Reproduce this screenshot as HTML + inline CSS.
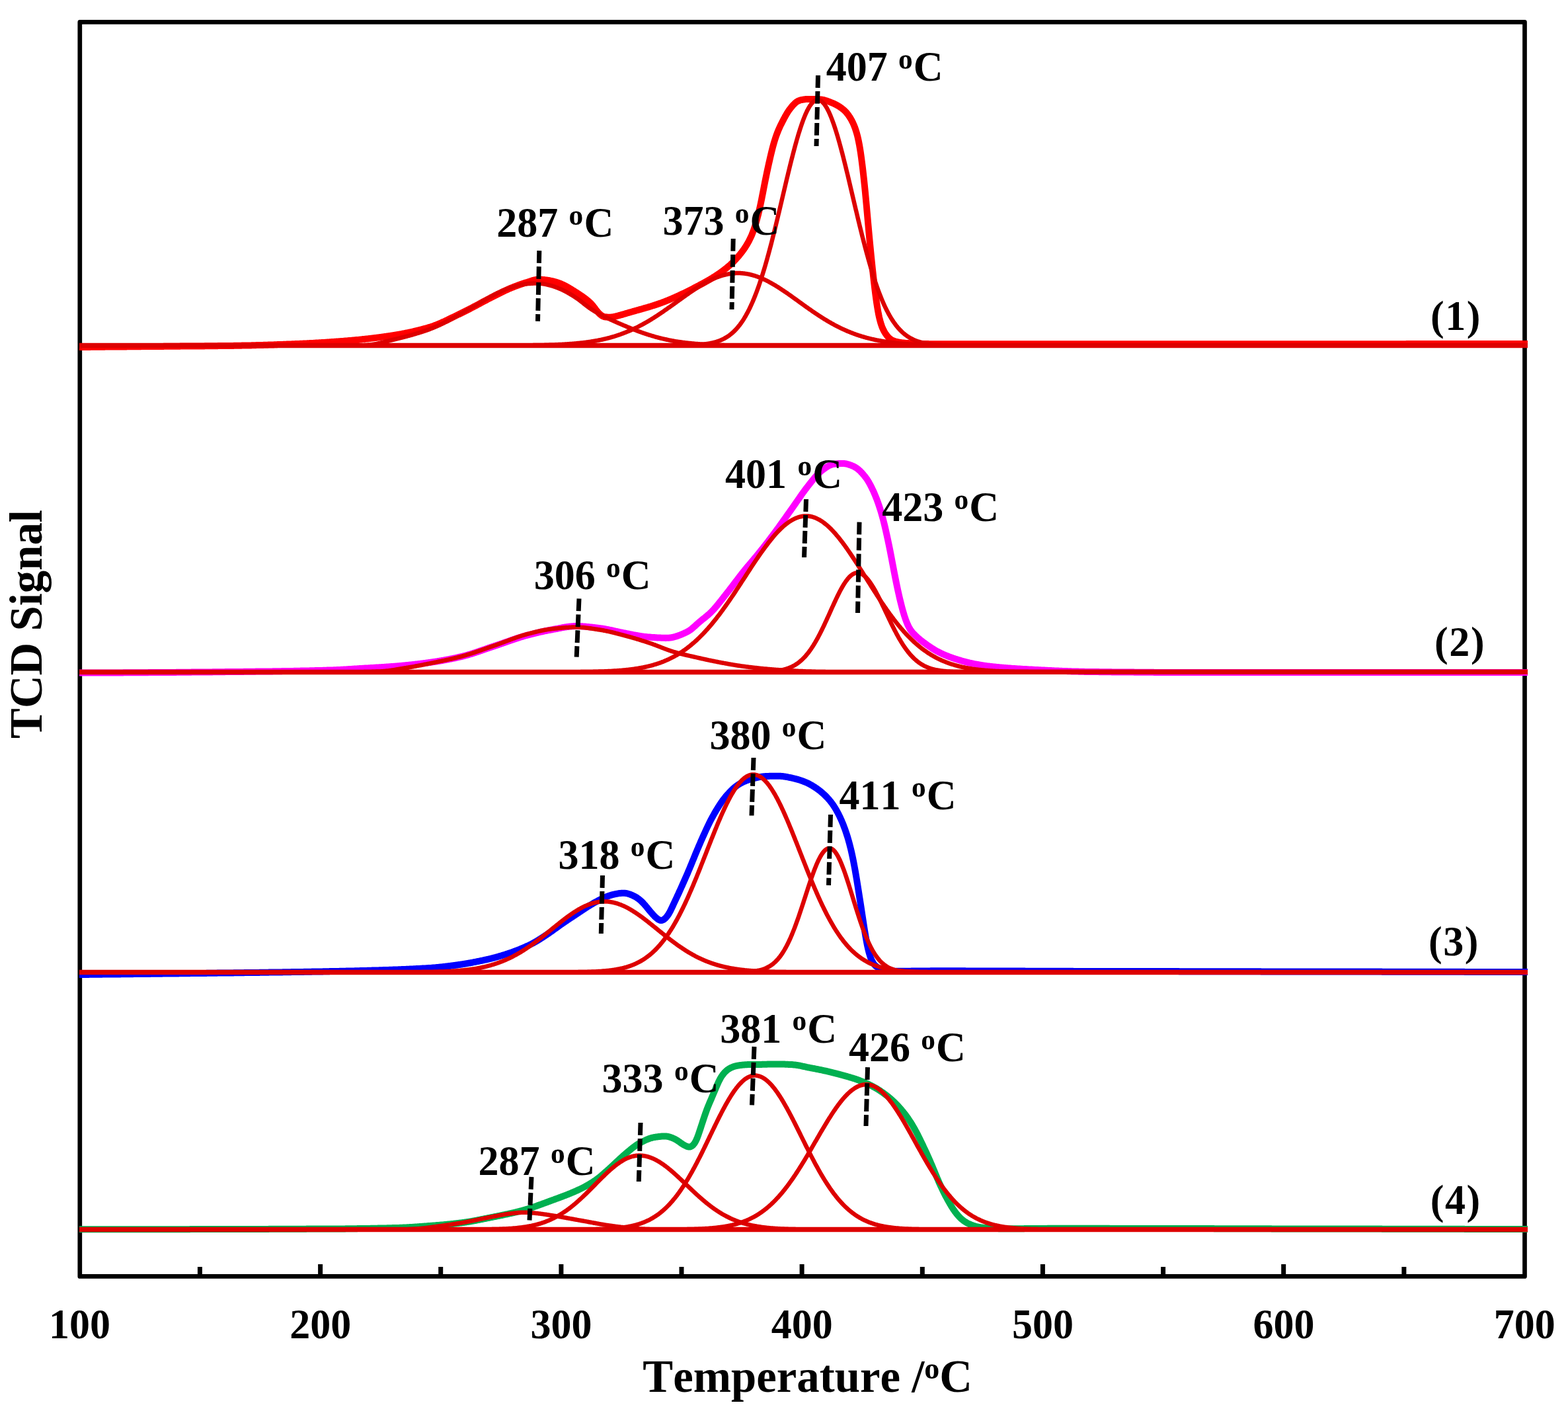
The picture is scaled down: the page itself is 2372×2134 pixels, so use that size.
<!DOCTYPE html>
<html lang="en"><head><meta charset="utf-8"><title>TCD Signal vs Temperature</title>
<style>html,body{margin:0;padding:0;background:#fff}body{width:2372px;height:2134px;overflow:hidden}svg{display:block}</style>
</head><body>
<svg width="2372" height="2134" viewBox="0 0 2372 2134">
<rect width="2372" height="2134" fill="#fff"/>
<rect x="120.8" y="33.4" width="2185.7" height="1897.0" fill="none" stroke="#000" stroke-width="6.7" stroke-linejoin="round"/>
<line x1="302.4" y1="1916" x2="302.4" y2="1930.4" stroke="#000" stroke-width="7"/>
<line x1="484.6" y1="1912" x2="484.6" y2="1930.4" stroke="#000" stroke-width="7"/>
<line x1="666.7" y1="1916" x2="666.7" y2="1930.4" stroke="#000" stroke-width="7"/>
<line x1="848.9" y1="1912" x2="848.9" y2="1930.4" stroke="#000" stroke-width="7"/>
<line x1="1031" y1="1916" x2="1031" y2="1930.4" stroke="#000" stroke-width="7"/>
<line x1="1213.1" y1="1912" x2="1213.1" y2="1930.4" stroke="#000" stroke-width="7"/>
<line x1="1395.3" y1="1916" x2="1395.3" y2="1930.4" stroke="#000" stroke-width="7"/>
<line x1="1577.4" y1="1912" x2="1577.4" y2="1930.4" stroke="#000" stroke-width="7"/>
<line x1="1759.6" y1="1916" x2="1759.6" y2="1930.4" stroke="#000" stroke-width="7"/>
<line x1="1941.7" y1="1912" x2="1941.7" y2="1930.4" stroke="#000" stroke-width="7"/>
<line x1="2123.9" y1="1916" x2="2123.9" y2="1930.4" stroke="#000" stroke-width="7"/>
<path d="M120,525 L121,525 L122,525 L123,525 L124,525 L125,525 L126,524.9 L127,524.9 L128,524.9 L129,524.9 L130,524.9 L131,524.9 L132,524.9 L133,524.9 L134,524.9 L135,524.9 L136,524.9 L137,524.8 L138,524.8 L139,524.8 L140,524.8 L141,524.8 L142,524.8 L143,524.8 L144,524.8 L145,524.8 L146,524.8 L147,524.8 L148,524.7 L149,524.7 L150,524.7 L151,524.7 L152,524.7 L153,524.7 L154,524.7 L155,524.7 L156,524.7 L157,524.7 L158,524.7 L159,524.6 L160,524.6 L161,524.6 L162,524.6 L163,524.6 L164,524.6 L165,524.6 L166,524.6 L167,524.6 L168,524.6 L169,524.6 L170,524.6 L171,524.5 L172,524.5 L173,524.5 L174,524.5 L175,524.5 L176,524.5 L177,524.5 L178,524.5 L179,524.5 L180,524.5 L181,524.5 L182,524.4 L183,524.4 L184,524.4 L185,524.4 L186,524.4 L187,524.4 L188,524.4 L189,524.4 L190,524.4 L191,524.4 L192,524.3 L193,524.3 L194,524.3 L195,524.3 L196,524.3 L197,524.3 L198,524.3 L199,524.3 L200,524.3 L201,524.3 L202,524.3 L203,524.2 L204,524.2 L205,524.2 L206,524.2 L207,524.2 L208,524.2 L209,524.2 L210,524.2 L211,524.2 L212,524.2 L213,524.2 L214,524.1 L215,524.1 L216,524.1 L217,524.1 L218,524.1 L219,524.1 L220,524.1 L221,524.1 L222,524.1 L223,524.1 L224,524.1 L225,524 L226,524 L227,524 L228,524 L229,524 L230,524 L231,524 L232,524 L233,524 L234,524 L235,524 L236,523.9 L237,523.9 L238,523.9 L239,523.9 L240,523.9 L241,523.9 L242,523.9 L243,523.9 L244,523.9 L245,523.9 L246,523.9 L247,523.9 L248,523.8 L249,523.8 L250,523.8 L251,523.8 L252,523.8 L253,523.8 L254,523.8 L255,523.8 L256,523.8 L257,523.8 L258,523.8 L259,523.8 L260,523.7 L261,523.7 L262,523.7 L263,523.7 L264,523.7 L265,523.7 L266,523.7 L267,523.7 L268,523.7 L269,523.7 L270,523.7 L271,523.7 L272,523.7 L273,523.6 L274,523.6 L275,523.6 L276,523.6 L277,523.6 L278,523.6 L279,523.6 L280,523.6 L281,523.6 L282,523.6 L283,523.6 L284,523.6 L285,523.6 L286,523.5 L287,523.5 L288,523.5 L289,523.5 L290,523.5 L291,523.5 L292,523.5 L293,523.5 L294,523.5 L295,523.5 L296,523.5 L297,523.5 L298,523.5 L299,523.4 L300,523.4 L301,523.4 L302,523.4 L303,523.4 L304,523.4 L305,523.4 L306,523.4 L307,523.4 L308,523.4 L309,523.4 L310,523.3 L311,523.3 L312,523.3 L313,523.3 L314,523.3 L315,523.3 L316,523.3 L317,523.3 L318,523.3 L319,523.3 L320,523.2 L321,523.2 L322,523.2 L323,523.2 L324,523.2 L325,523.2 L326,523.2 L327,523.2 L328,523.2 L329,523.2 L330,523.1 L331,523.1 L332,523.1 L333,523.1 L334,523.1 L335,523.1 L336,523.1 L337,523.1 L338,523.1 L339,523 L340,523 L341,523 L342,523 L343,523 L344,523 L345,523 L346,523 L347,522.9 L348,522.9 L349,522.9 L350,522.9 L351,522.9 L352,522.9 L353,522.9 L354,522.8 L355,522.8 L356,522.8 L357,522.8 L358,522.8 L359,522.8 L360,522.8 L361,522.7 L362,522.7 L363,522.7 L364,522.7 L365,522.7 L366,522.6 L367,522.6 L368,522.6 L369,522.6 L370,522.6 L371,522.6 L372,522.5 L373,522.5 L374,522.5 L375,522.5 L376,522.4 L377,522.4 L378,522.4 L379,522.4 L380,522.4 L381,522.3 L382,522.3 L383,522.3 L384,522.3 L385,522.2 L386,522.2 L387,522.2 L388,522.1 L389,522.1 L390,522.1 L391,522.1 L392,522 L393,522 L394,522 L395,522 L396,521.9 L397,521.9 L398,521.9 L399,521.8 L400,521.8 L401,521.8 L402,521.7 L403,521.7 L404,521.7 L405,521.7 L406,521.6 L407,521.6 L408,521.6 L409,521.5 L410,521.5 L411,521.5 L412,521.4 L413,521.4 L414,521.4 L415,521.3 L416,521.3 L417,521.3 L418,521.2 L419,521.2 L420,521.1 L421,521.1 L422,521.1 L423,521 L424,521 L425,521 L426,520.9 L427,520.9 L428,520.9 L429,520.8 L430,520.8 L431,520.7 L432,520.7 L433,520.7 L434,520.6 L435,520.6 L436,520.6 L437,520.5 L438,520.5 L439,520.4 L440,520.4 L441,520.4 L442,520.3 L443,520.3 L444,520.2 L445,520.2 L446,520.2 L447,520.1 L448,520.1 L449,520 L450,520 L451,520 L452,519.9 L453,519.9 L454,519.8 L455,519.8 L456,519.7 L457,519.7 L458,519.7 L459,519.6 L460,519.6 L461,519.5 L462,519.5 L463,519.4 L464,519.4 L465,519.3 L466,519.3 L467,519.2 L468,519.2 L469,519.1 L470,519.1 L471,519 L472,519 L473,518.9 L474,518.9 L475,518.8 L476,518.7 L477,518.7 L478,518.6 L479,518.6 L480,518.5 L481,518.5 L482,518.4 L483,518.3 L484,518.3 L485,518.2 L486,518.2 L487,518.1 L488,518 L489,518 L490,517.9 L491,517.9 L492,517.8 L493,517.7 L494,517.7 L495,517.6 L496,517.5 L497,517.5 L498,517.4 L499,517.3 L500,517.3 L501,517.2 L502,517.1 L503,517.1 L504,517 L505,516.9 L506,516.8 L507,516.8 L508,516.7 L509,516.6 L510,516.6 L511,516.5 L512,516.4 L513,516.3 L514,516.3 L515,516.2 L516,516.1 L517,516 L518,516 L519,515.9 L520,515.8 L521,515.7 L522,515.6 L523,515.6 L524,515.5 L525,515.4 L526,515.3 L527,515.2 L528,515.1 L529,515.1 L530,515 L531,514.9 L532,514.8 L533,514.7 L534,514.6 L535,514.5 L536,514.4 L537,514.3 L538,514.2 L539,514.1 L540,514.1 L541,514 L542,513.9 L543,513.8 L544,513.7 L545,513.6 L546,513.5 L547,513.4 L548,513.2 L549,513.1 L550,513 L551,512.9 L552,512.8 L553,512.7 L554,512.6 L555,512.5 L556,512.4 L557,512.3 L558,512.2 L559,512 L560,511.9 L561,511.8 L562,511.7 L563,511.6 L564,511.4 L565,511.3 L566,511.2 L567,511.1 L568,511 L569,510.8 L570,510.7 L571,510.6 L572,510.5 L573,510.3 L574,510.2 L575,510.1 L576,509.9 L577,509.8 L578,509.7 L579,509.5 L580,509.4 L581,509.2 L582,509.1 L583,509 L584,508.8 L585,508.7 L586,508.5 L587,508.4 L588,508.2 L589,508.1 L590,507.9 L591,507.8 L592,507.6 L593,507.5 L594,507.3 L595,507.2 L596,507 L597,506.8 L598,506.7 L599,506.5 L600,506.3 L601,506.2 L602,506 L603,505.8 L604,505.6 L605,505.5 L606,505.3 L607,505.1 L608,504.9 L609,504.7 L610,504.5 L611,504.3 L612,504.1 L613,503.9 L614,503.7 L615,503.5 L616,503.3 L617,503.1 L618,502.9 L619,502.7 L620,502.5 L621,502.3 L622,502.1 L623,501.8 L624,501.6 L625,501.4 L626,501.2 L627,500.9 L628,500.7 L629,500.4 L630,500.2 L631,500 L632,499.7 L633,499.5 L634,499.2 L635,499 L636,498.7 L637,498.5 L638,498.2 L639,497.9 L640,497.7 L641,497.4 L642,497.1 L643,496.8 L644,496.6 L645,496.3 L646,496 L647,495.7 L648,495.4 L649,495.1 L650,494.8 L651,494.5 L652,494.2 L653,493.8 L654,493.5 L655,493.2 L656,492.8 L657,492.4 L658,492.1 L659,491.7 L660,491.3 L661,490.9 L662,490.5 L663,490.1 L664,489.7 L665,489.2 L666,488.8 L667,488.4 L668,487.9 L669,487.5 L670,487 L671,486.6 L672,486.1 L673,485.6 L674,485.2 L675,484.7 L676,484.2 L677,483.8 L678,483.3 L679,482.8 L680,482.3 L681,481.8 L682,481.3 L683,480.8 L684,480.3 L685,479.9 L686,479.4 L687,478.9 L688,478.4 L689,477.9 L690,477.4 L691,476.9 L692,476.4 L693,475.9 L694,475.4 L695,475 L696,474.5 L697,474 L698,473.5 L699,473 L700,472.5 L701,472 L702,471.5 L703,471 L704,470.5 L705,470 L706,469.5 L707,469 L708,468.5 L709,468 L710,467.5 L711,467 L712,466.4 L713,465.9 L714,465.4 L715,464.9 L716,464.3 L717,463.8 L718,463.3 L719,462.7 L720,462.2 L721,461.7 L722,461.1 L723,460.6 L724,460.1 L725,459.5 L726,459 L727,458.5 L728,457.9 L729,457.4 L730,456.8 L731,456.3 L732,455.8 L733,455.2 L734,454.7 L735,454.2 L736,453.7 L737,453.1 L738,452.6 L739,452.1 L740,451.6 L741,451.1 L742,450.5 L743,450 L744,449.5 L745,449 L746,448.5 L747,448 L748,447.5 L749,447 L750,446.5 L751,446 L752,445.5 L753,445 L754,444.5 L755,444 L756,443.5 L757,443 L758,442.5 L759,442 L760,441.5 L761,441 L762,440.5 L763,440.1 L764,439.6 L765,439.1 L766,438.7 L767,438.2 L768,437.8 L769,437.3 L770,436.9 L771,436.4 L772,436 L773,435.6 L774,435.2 L775,434.8 L776,434.4 L777,434 L778,433.6 L779,433.2 L780,432.8 L781,432.5 L782,432.1 L783,431.7 L784,431.4 L785,431 L786,430.6 L787,430.3 L788,429.9 L789,429.6 L790,429.3 L791,428.9 L792,428.6 L793,428.3 L794,427.9 L795,427.6 L796,427.3 L797,427 L798,426.7 L799,426.3 L800,426 L801,425.7 L802,425.3 L803,425 L804,424.7 L805,424.3 L806,424 L807,423.8 L808,423.5 L809,423.3 L810,423.1 L811,422.9 L812,422.8 L813,422.7 L814,422.6 L815,422.6 L816,422.6 L817,422.7 L818,422.7 L819,422.8 L820,422.8 L821,422.9 L822,423 L823,423.1 L824,423.2 L825,423.4 L826,423.5 L827,423.6 L828,423.7 L829,423.9 L830,424 L831,424.2 L832,424.4 L833,424.6 L834,424.8 L835,425 L836,425.2 L837,425.5 L838,425.7 L839,426 L840,426.3 L841,426.6 L842,426.9 L843,427.2 L844,427.6 L845,427.9 L846,428.3 L847,428.6 L848,429 L849,429.4 L850,429.9 L851,430.3 L852,430.8 L853,431.2 L854,431.7 L855,432.2 L856,432.8 L857,433.3 L858,433.9 L859,434.4 L860,435 L861,435.6 L862,436.2 L863,436.8 L864,437.4 L865,438 L866,438.7 L867,439.3 L868,439.9 L869,440.5 L870,441.2 L871,441.8 L872,442.4 L873,443.1 L874,443.7 L875,444.4 L876,445 L877,445.7 L878,446.3 L879,447 L880,447.7 L881,448.4 L882,449.1 L883,449.8 L884,450.5 L885,451.3 L886,452 L887,452.8 L888,453.6 L889,454.5 L890,455.3 L891,456.2 L892,457.1 L893,458.1 L894,459.1 L895,460.1 L896,461.3 L897,462.5 L898,463.7 L899,465 L900,466.4 L901,467.7 L902,469 L903,470.3 L904,471.5 L905,472.6 L906,473.7 L907,474.7 L908,475.6 L909,476.4 L910,477.2 L911,477.8 L912,478.3 L913,478.7 L914,479.1 L915,479.3 L916,479.4 L917,479.6 L918,479.6 L919,479.7 L920,479.7 L921,479.7 L922,479.7 L923,479.7 L924,479.7 L925,479.6 L926,479.5 L927,479.4 L928,479.2 L929,479 L930,478.8 L931,478.5 L932,478.3 L933,478 L934,477.8 L935,477.5 L936,477.2 L937,477 L938,476.7 L939,476.4 L940,476.2 L941,475.9 L942,475.6 L943,475.3 L944,475 L945,474.7 L946,474.4 L947,474.1 L948,473.8 L949,473.5 L950,473.2 L951,472.9 L952,472.6 L953,472.3 L954,472.1 L955,471.8 L956,471.5 L957,471.2 L958,470.9 L959,470.6 L960,470.4 L961,470.1 L962,469.8 L963,469.5 L964,469.2 L965,469 L966,468.7 L967,468.4 L968,468.1 L969,467.8 L970,467.6 L971,467.3 L972,467 L973,466.7 L974,466.4 L975,466.1 L976,465.8 L977,465.5 L978,465.3 L979,465 L980,464.7 L981,464.4 L982,464.1 L983,463.8 L984,463.5 L985,463.2 L986,462.8 L987,462.5 L988,462.2 L989,461.9 L990,461.6 L991,461.3 L992,460.9 L993,460.6 L994,460.3 L995,459.9 L996,459.6 L997,459.2 L998,458.9 L999,458.5 L1000,458.2 L1001,457.8 L1002,457.4 L1003,457 L1004,456.7 L1005,456.3 L1006,455.9 L1007,455.5 L1008,455.1 L1009,454.7 L1010,454.3 L1011,453.9 L1012,453.5 L1013,453.1 L1014,452.7 L1015,452.2 L1016,451.8 L1017,451.4 L1018,451 L1019,450.5 L1020,450.1 L1021,449.6 L1022,449.2 L1023,448.7 L1024,448.3 L1025,447.8 L1026,447.4 L1027,446.9 L1028,446.4 L1029,446 L1030,445.5 L1031,445 L1032,444.5 L1033,444.1 L1034,443.6 L1035,443.1 L1036,442.6 L1037,442.1 L1038,441.6 L1039,441.1 L1040,440.6 L1041,440.1 L1042,439.6 L1043,439.1 L1044,438.6 L1045,438.1 L1046,437.6 L1047,437.1 L1048,436.6 L1049,436.1 L1050,435.5 L1051,435 L1052,434.5 L1053,434 L1054,433.5 L1055,432.9 L1056,432.4 L1057,431.9 L1058,431.4 L1059,430.8 L1060,430.3 L1061,429.8 L1062,429.2 L1063,428.7 L1064,428.1 L1065,427.6 L1066,427 L1067,426.5 L1068,425.9 L1069,425.4 L1070,424.8 L1071,424.2 L1072,423.6 L1073,423.1 L1074,422.5 L1075,421.9 L1076,421.3 L1077,420.7 L1078,420.1 L1079,419.4 L1080,418.8 L1081,418.2 L1082,417.6 L1083,416.9 L1084,416.2 L1085,415.6 L1086,414.9 L1087,414.2 L1088,413.6 L1089,412.9 L1090,412.2 L1091,411.4 L1092,410.7 L1093,410 L1094,409.2 L1095,408.5 L1096,407.7 L1097,406.9 L1098,406.2 L1099,405.3 L1100,404.5 L1101,403.7 L1102,402.8 L1103,402 L1104,401.1 L1105,400.2 L1106,399.3 L1107,398.3 L1108,397.3 L1109,396.4 L1110,395.4 L1111,394.3 L1112,393.3 L1113,392.2 L1114,391.1 L1115,390 L1116,388.8 L1117,387.7 L1118,386.5 L1119,385.3 L1120,384 L1121,382.8 L1122,381.5 L1123,380.1 L1124,378.8 L1125,377.4 L1126,375.9 L1127,374.5 L1128,372.9 L1129,371.3 L1130,369.7 L1131,367.9 L1132,366.2 L1133,364.3 L1134,362.3 L1135,360.3 L1136,358.2 L1137,355.9 L1138,353.5 L1139,350.9 L1140,348.2 L1141,345.3 L1142,342.3 L1143,339 L1144,335.6 L1145,332.1 L1146,328.3 L1147,324.4 L1148,320.3 L1149,316 L1150,311.5 L1151,306.8 L1152,301.9 L1153,296.8 L1154,291.7 L1155,286.6 L1156,281.4 L1157,276.3 L1158,271.3 L1159,266.4 L1160,261.6 L1161,256.9 L1162,252.2 L1163,247.7 L1164,243.3 L1165,238.9 L1166,234.6 L1167,230.5 L1168,226.5 L1169,222.6 L1170,218.9 L1171,215.4 L1172,212.1 L1173,209 L1174,206 L1175,203.2 L1176,200.6 L1177,198.1 L1178,195.8 L1179,193.5 L1180,191.3 L1181,189.2 L1182,187.2 L1183,185.2 L1184,183.2 L1185,181.3 L1186,179.4 L1187,177.6 L1188,175.7 L1189,174 L1190,172.3 L1191,170.6 L1192,169.1 L1193,167.6 L1194,166.1 L1195,164.8 L1196,163.5 L1197,162.2 L1198,161 L1199,159.8 L1200,158.7 L1201,157.7 L1202,156.7 L1203,155.8 L1204,154.9 L1205,154.2 L1206,153.5 L1207,152.9 L1208,152.5 L1209,152.1 L1210,151.7 L1211,151.4 L1212,151.2 L1213,151 L1214,150.8 L1215,150.6 L1216,150.5 L1217,150.3 L1218,150.2 L1219,150.1 L1220,150.1 L1221,150 L1222,150 L1223,150 L1224,150 L1225,149.9 L1226,150 L1227,150 L1228,150 L1229,150 L1230,150 L1231,150 L1232,150 L1233,150 L1234,150 L1235,150.1 L1236,150.1 L1237,150.1 L1238,150.2 L1239,150.2 L1240,150.3 L1241,150.4 L1242,150.5 L1243,150.6 L1244,150.8 L1245,150.9 L1246,151.2 L1247,151.4 L1248,151.7 L1249,152 L1250,152.3 L1251,152.6 L1252,153 L1253,153.3 L1254,153.7 L1255,154.1 L1256,154.5 L1257,154.9 L1258,155.3 L1259,155.7 L1260,156.1 L1261,156.5 L1262,157 L1263,157.5 L1264,158 L1265,158.5 L1266,159 L1267,159.6 L1268,160.2 L1269,160.8 L1270,161.4 L1271,162.1 L1272,162.8 L1273,163.5 L1274,164.3 L1275,165.1 L1276,165.9 L1277,166.8 L1278,167.8 L1279,168.8 L1280,169.8 L1281,171 L1282,172.2 L1283,173.5 L1284,174.9 L1285,176.4 L1286,178 L1287,179.6 L1288,181.4 L1289,183.3 L1290,185.3 L1291,187.5 L1292,189.8 L1293,192.3 L1294,195.1 L1295,198.2 L1296,201.5 L1297,205.2 L1298,209.4 L1299,214.1 L1300,219.3 L1301,225.1 L1302,231.6 L1303,238.6 L1304,246.3 L1305,254.4 L1306,263 L1307,272.1 L1308,281.7 L1309,291.8 L1310,302.4 L1311,313.3 L1312,324.5 L1313,335.7 L1314,346.8 L1315,357.7 L1316,368.3 L1317,378.6 L1318,388.6 L1319,398.3 L1320,407.7 L1321,416.9 L1322,425.8 L1323,434.2 L1324,442.3 L1325,449.9 L1326,457 L1327,463.6 L1328,469.5 L1329,474.9 L1330,479.6 L1331,483.8 L1332,487.5 L1333,490.7 L1334,493.6 L1335,496.1 L1336,498.3 L1337,500.3 L1338,502.1 L1339,503.7 L1340,505.2 L1341,506.6 L1342,507.9 L1343,509.1 L1344,510.2 L1345,511.2 L1346,512.1 L1347,512.9 L1348,513.6 L1349,514.2 L1350,514.7 L1351,515.2 L1352,515.6 L1353,515.9 L1354,516.2 L1355,516.5 L1356,516.8 L1357,517 L1358,517.2 L1359,517.5 L1360,517.7 L1361,517.8 L1362,518 L1363,518.2 L1364,518.3 L1365,518.4 L1366,518.5 L1367,518.6 L1368,518.7 L1369,518.8 L1370,518.9 L1371,519 L1372,519 L1373,519.1 L1374,519.1 L1375,519.2 L1376,519.2 L1377,519.3 L1378,519.3 L1379,519.4 L1380,519.4 L1381,519.4 L1382,519.5 L1383,519.5 L1384,519.6 L1385,519.6 L1386,519.6 L1387,519.7 L1388,519.7 L1389,519.8 L1390,519.8 L1391,519.8 L1392,519.9 L1393,519.9 L1394,519.9 L1395,519.9 L1396,520 L1397,520 L1398,520 L1399,520 L1400,520.1 L1401,520.1 L1402,520.1 L1403,520.1 L1404,520.1 L1405,520.2 L1406,520.2 L1407,520.2 L1408,520.2 L1409,520.2 L1410,520.2 L1411,520.2 L1412,520.3 L1413,520.3 L1414,520.3 L1415,520.3 L1416,520.3 L1417,520.3 L1418,520.3 L1419,520.3 L1420,520.3 L1421,520.3 L1422,520.3 L1423,520.3 L1424,520.3 L1425,520.3 L1426,520.3 L1427,520.3 L1428,520.3 L1429,520.3 L1430,520.3 L1431,520.3 L1432,520.3 L1433,520.3 L1434,520.3 L1435,520.3 L1436,520.3 L1437,520.3 L1438,520.3 L1439,520.3 L1440,520.3 L1441,520.3 L1442,520.3 L1443,520.3 L1444,520.3 L1445,520.3 L1446,520.3 L1447,520.3 L1448,520.3 L1449,520.3 L1450,520.3 L1451,520.3 L1452,520.3 L1453,520.3 L1454,520.3 L1455,520.3 L1456,520.3 L1457,520.3 L1458,520.3 L1459,520.3 L1460,520.3 L1461,520.3 L1462,520.3 L1463,520.3 L1464,520.3 L1465,520.3 L1466,520.3 L1467,520.3 L1468,520.3 L1469,520.3 L1470,520.3 L1471,520.3 L1472,520.3 L1473,520.3 L1474,520.3 L1475,520.3 L1476,520.3 L1477,520.3 L1478,520.3 L1479,520.3 L1480,520.3 L1481,520.3 L1482,520.3 L1483,520.3 L1484,520.3 L1485,520.3 L1486,520.3 L1487,520.3 L1488,520.3 L1489,520.3 L1490,520.3 L1491,520.3 L1492,520.3 L1493,520.3 L1494,520.3 L1495,520.3 L1496,520.3 L1497,520.3 L1498,520.3 L1499,520.3 L1500,520.3 L1501,520.3 L1502,520.3 L1503,520.3 L1504,520.3 L1505,520.3 L1506,520.3 L1507,520.3 L1508,520.3 L1509,520.3 L1510,520.3 L1511,520.3 L1512,520.3 L1513,520.3 L1514,520.3 L1515,520.3 L1516,520.3 L1517,520.3 L1518,520.3 L1519,520.3 L1520,520.3 L1521,520.3 L1522,520.3 L1523,520.3 L1524,520.3 L1525,520.3 L1526,520.3 L1527,520.3 L1528,520.3 L1529,520.3 L1530,520.3 L1531,520.3 L1532,520.3 L1533,520.3 L1534,520.3 L1535,520.3 L1536,520.3 L1537,520.3 L1538,520.3 L1539,520.3 L1540,520.3 L1541,520.3 L1542,520.3 L1543,520.3 L1544,520.3 L1545,520.3 L1546,520.3 L1547,520.3 L1548,520.3 L1549,520.3 L1550,520.3 L1551,520.3 L1552,520.3 L1553,520.3 L1554,520.3 L1555,520.3 L1556,520.3 L1557,520.3 L1558,520.3 L1559,520.3 L1560,520.3 L1561,520.3 L1562,520.3 L1563,520.3 L1564,520.3 L1565,520.3 L1566,520.3 L1567,520.3 L1568,520.3 L1569,520.3 L1570,520.3 L1571,520.3 L1572,520.3 L1573,520.3 L1574,520.3 L1575,520.3 L1576,520.3 L1577,520.3 L1578,520.3 L1579,520.3 L1580,520.3 L1581,520.3 L1582,520.3 L1583,520.3 L1584,520.3 L1585,520.3 L1586,520.3 L1587,520.3 L1588,520.3 L1589,520.3 L1590,520.3 L1591,520.3 L1592,520.3 L1593,520.3 L1594,520.3 L1595,520.3 L1596,520.3 L1597,520.3 L1598,520.3 L1599,520.3 L1600,520.3 L1601,520.3 L1602,520.3 L1603,520.3 L1604,520.3 L1605,520.3 L1606,520.3 L1607,520.3 L1608,520.3 L1609,520.3 L1610,520.3 L1611,520.3 L1612,520.3 L1613,520.3 L1614,520.3 L1615,520.3 L1616,520.3 L1617,520.3 L1618,520.3 L1619,520.3 L1620,520.3 L1621,520.3 L1622,520.3 L1623,520.3 L1624,520.3 L1625,520.3 L1626,520.3 L1627,520.3 L1628,520.3 L1629,520.3 L1630,520.3 L1631,520.3 L1632,520.3 L1633,520.3 L1634,520.3 L1635,520.3 L1636,520.3 L1637,520.3 L1638,520.3 L1639,520.3 L1640,520.3 L1641,520.3 L1642,520.3 L1643,520.3 L1644,520.3 L1645,520.3 L1646,520.3 L1647,520.3 L1648,520.3 L1649,520.3 L1650,520.3 L1651,520.3 L1652,520.3 L1653,520.3 L1654,520.3 L1655,520.3 L1656,520.3 L1657,520.3 L1658,520.3 L1659,520.3 L1660,520.3 L1661,520.3 L1662,520.3 L1663,520.3 L1664,520.3 L1665,520.3 L1666,520.3 L1667,520.3 L1668,520.3 L1669,520.3 L1670,520.3 L1671,520.3 L1672,520.3 L1673,520.3 L1674,520.3 L1675,520.3 L1676,520.3 L1677,520.3 L1678,520.3 L1679,520.3 L1680,520.3 L1681,520.3 L1682,520.3 L1683,520.3 L1684,520.3 L1685,520.3 L1686,520.3 L1687,520.3 L1688,520.3 L1689,520.3 L1690,520.3 L1691,520.3 L1692,520.3 L1693,520.3 L1694,520.3 L1695,520.3 L1696,520.3 L1697,520.3 L1698,520.3 L1699,520.3 L1700,520.3 L1701,520.3 L1702,520.3 L1703,520.3 L1704,520.3 L1705,520.3 L1706,520.3 L1707,520.3 L1708,520.3 L1709,520.3 L1710,520.3 L1711,520.3 L1712,520.3 L1713,520.3 L1714,520.3 L1715,520.3 L1716,520.3 L1717,520.3 L1718,520.3 L1719,520.3 L1720,520.3 L1721,520.3 L1722,520.3 L1723,520.3 L1724,520.3 L1725,520.3 L1726,520.3 L1727,520.3 L1728,520.3 L1729,520.3 L1730,520.3 L1731,520.3 L1732,520.3 L1733,520.3 L1734,520.3 L1735,520.3 L1736,520.3 L1737,520.3 L1738,520.3 L1739,520.3 L1740,520.3 L1741,520.3 L1742,520.3 L1743,520.3 L1744,520.3 L1745,520.3 L1746,520.3 L1747,520.3 L1748,520.3 L1749,520.3 L1750,520.3 L1751,520.3 L1752,520.3 L1753,520.3 L1754,520.3 L1755,520.3 L1756,520.3 L1757,520.3 L1758,520.3 L1759,520.3 L1760,520.3 L1761,520.3 L1762,520.3 L1763,520.3 L1764,520.3 L1765,520.3 L1766,520.3 L1767,520.3 L1768,520.3 L1769,520.3 L1770,520.3 L1771,520.3 L1772,520.3 L1773,520.3 L1774,520.3 L1775,520.3 L1776,520.3 L1777,520.3 L1778,520.3 L1779,520.3 L1780,520.3 L1781,520.3 L1782,520.3 L1783,520.3 L1784,520.3 L1785,520.3 L1786,520.3 L1787,520.3 L1788,520.3 L1789,520.3 L1790,520.3 L1791,520.3 L1792,520.3 L1793,520.3 L1794,520.3 L1795,520.3 L1796,520.3 L1797,520.3 L1798,520.3 L1799,520.3 L1800,520.3 L1801,520.3 L1802,520.3 L1803,520.3 L1804,520.3 L1805,520.3 L1806,520.3 L1807,520.3 L1808,520.3 L1809,520.3 L1810,520.3 L1811,520.3 L1812,520.3 L1813,520.3 L1814,520.3 L1815,520.3 L1816,520.3 L1817,520.3 L1818,520.3 L1819,520.3 L1820,520.3 L1821,520.3 L1822,520.3 L1823,520.3 L1824,520.3 L1825,520.3 L1826,520.3 L1827,520.3 L1828,520.3 L1829,520.3 L1830,520.3 L1831,520.3 L1832,520.3 L1833,520.3 L1834,520.3 L1835,520.3 L1836,520.3 L1837,520.3 L1838,520.3 L1839,520.3 L1840,520.3 L1841,520.3 L1842,520.3 L1843,520.3 L1844,520.3 L1845,520.3 L1846,520.3 L1847,520.3 L1848,520.3 L1849,520.3 L1850,520.3 L1851,520.3 L1852,520.3 L1853,520.3 L1854,520.3 L1855,520.3 L1856,520.3 L1857,520.3 L1858,520.3 L1859,520.3 L1860,520.3 L1861,520.3 L1862,520.3 L1863,520.3 L1864,520.3 L1865,520.3 L1866,520.3 L1867,520.3 L1868,520.3 L1869,520.3 L1870,520.3 L1871,520.3 L1872,520.3 L1873,520.3 L1874,520.3 L1875,520.3 L1876,520.3 L1877,520.3 L1878,520.3 L1879,520.3 L1880,520.3 L1881,520.3 L1882,520.3 L1883,520.3 L1884,520.3 L1885,520.3 L1886,520.3 L1887,520.3 L1888,520.3 L1889,520.3 L1890,520.3 L1891,520.3 L1892,520.3 L1893,520.3 L1894,520.3 L1895,520.3 L1896,520.3 L1897,520.3 L1898,520.3 L1899,520.3 L1900,520.3 L1901,520.3 L1902,520.3 L1903,520.3 L1904,520.3 L1905,520.3 L1906,520.3 L1907,520.3 L1908,520.3 L1909,520.3 L1910,520.3 L1911,520.2 L1912,520.2 L1913,520.2 L1914,520.2 L1915,520.2 L1916,520.2 L1917,520.2 L1918,520.2 L1919,520.2 L1920,520.2 L1921,520.2 L1922,520.2 L1923,520.2 L1924,520.2 L1925,520.2 L1926,520.2 L1927,520.2 L1928,520.2 L1929,520.2 L1930,520.2 L1931,520.2 L1932,520.2 L1933,520.2 L1934,520.2 L1935,520.2 L1936,520.2 L1937,520.2 L1938,520.2 L1939,520.2 L1940,520.2 L1941,520.2 L1942,520.2 L1943,520.2 L1944,520.2 L1945,520.2 L1946,520.2 L1947,520.2 L1948,520.2 L1949,520.2 L1950,520.2 L1951,520.2 L1952,520.2 L1953,520.2 L1954,520.2 L1955,520.2 L1956,520.2 L1957,520.2 L1958,520.2 L1959,520.2 L1960,520.2 L1961,520.2 L1962,520.2 L1963,520.2 L1964,520.2 L1965,520.2 L1966,520.2 L1967,520.2 L1968,520.2 L1969,520.2 L1970,520.2 L1971,520.2 L1972,520.2 L1973,520.2 L1974,520.2 L1975,520.2 L1976,520.2 L1977,520.2 L1978,520.2 L1979,520.2 L1980,520.2 L1981,520.2 L1982,520.2 L1983,520.2 L1984,520.2 L1985,520.2 L1986,520.2 L1987,520.2 L1988,520.2 L1989,520.2 L1990,520.2 L1991,520.2 L1992,520.2 L1993,520.2 L1994,520.2 L1995,520.2 L1996,520.2 L1997,520.2 L1998,520.2 L1999,520.2 L2000,520.2 L2001,520.2 L2002,520.2 L2003,520.2 L2004,520.2 L2005,520.2 L2006,520.2 L2007,520.2 L2008,520.2 L2009,520.2 L2010,520.2 L2011,520.2 L2012,520.2 L2013,520.2 L2014,520.2 L2015,520.2 L2016,520.2 L2017,520.2 L2018,520.2 L2019,520.2 L2020,520.2 L2021,520.2 L2022,520.2 L2023,520.2 L2024,520.2 L2025,520.2 L2026,520.2 L2027,520.2 L2028,520.2 L2029,520.2 L2030,520.2 L2031,520.2 L2032,520.2 L2033,520.2 L2034,520.2 L2035,520.2 L2036,520.2 L2037,520.2 L2038,520.2 L2039,520.2 L2040,520.2 L2041,520.2 L2042,520.2 L2043,520.2 L2044,520.2 L2045,520.2 L2046,520.2 L2047,520.2 L2048,520.2 L2049,520.2 L2050,520.2 L2051,520.2 L2052,520.2 L2053,520.2 L2054,520.2 L2055,520.2 L2056,520.2 L2057,520.2 L2058,520.2 L2059,520.2 L2060,520.2 L2061,520.2 L2062,520.2 L2063,520.2 L2064,520.2 L2065,520.2 L2066,520.2 L2067,520.2 L2068,520.2 L2069,520.2 L2070,520.2 L2071,520.2 L2072,520.2 L2073,520.2 L2074,520.2 L2075,520.2 L2076,520.2 L2077,520.2 L2078,520.2 L2079,520.2 L2080,520.2 L2081,520.2 L2082,520.2 L2083,520.2 L2084,520.2 L2085,520.2 L2086,520.2 L2087,520.2 L2088,520.2 L2089,520.2 L2090,520.2 L2091,520.2 L2092,520.2 L2093,520.2 L2094,520.2 L2095,520.2 L2096,520.2 L2097,520.2 L2098,520.2 L2099,520.2 L2100,520.2 L2101,520.2 L2102,520.2 L2103,520.2 L2104,520.2 L2105,520.2 L2106,520.2 L2107,520.2 L2108,520.2 L2109,520.2 L2110,520.2 L2111,520.2 L2112,520.2 L2113,520.2 L2114,520.2 L2115,520.2 L2116,520.2 L2117,520.2 L2118,520.2 L2119,520.2 L2120,520.2 L2121,520.2 L2122,520.2 L2123,520.2 L2124,520.2 L2125,520.2 L2126,520.2 L2127,520.2 L2128,520.1 L2129,520.1 L2130,520.1 L2131,520.1 L2132,520.1 L2133,520.1 L2134,520.1 L2135,520.1 L2136,520.1 L2137,520.1 L2138,520.1 L2139,520.1 L2140,520.1 L2141,520.1 L2142,520.1 L2143,520.1 L2144,520.1 L2145,520.1 L2146,520.1 L2147,520.1 L2148,520.1 L2149,520.1 L2150,520.1 L2151,520.1 L2152,520.1 L2153,520.1 L2154,520.1 L2155,520.1 L2156,520.1 L2157,520.1 L2158,520.1 L2159,520.1 L2160,520.1 L2161,520.1 L2162,520.1 L2163,520.1 L2164,520.1 L2165,520.1 L2166,520.1 L2167,520.1 L2168,520.1 L2169,520.1 L2170,520.1 L2171,520.1 L2172,520.1 L2173,520.1 L2174,520.1 L2175,520.1 L2176,520.1 L2177,520.1 L2178,520.1 L2179,520.1 L2180,520.1 L2181,520.1 L2182,520.1 L2183,520.1 L2184,520.1 L2185,520.1 L2186,520.1 L2187,520.1 L2188,520.1 L2189,520.1 L2190,520.1 L2191,520.1 L2192,520.1 L2193,520.1 L2194,520.1 L2195,520.1 L2196,520.1 L2197,520.1 L2198,520.1 L2199,520.1 L2200,520.1 L2201,520.1 L2202,520.1 L2203,520.1 L2204,520.1 L2205,520.1 L2206,520.1 L2207,520.1 L2208,520.1 L2209,520.1 L2210,520.1 L2211,520.1 L2212,520.1 L2213,520.1 L2214,520.1 L2215,520.1 L2216,520.1 L2217,520.1 L2218,520.1 L2219,520.1 L2220,520.1 L2221,520.1 L2222,520.1 L2223,520.1 L2224,520.1 L2225,520.1 L2226,520.1 L2227,520.1 L2228,520.1 L2229,520.1 L2230,520.1 L2231,520.1 L2232,520.1 L2233,520.1 L2234,520.1 L2235,520.1 L2236,520.1 L2237,520.1 L2238,520.1 L2239,520.1 L2240,520.1 L2241,520.1 L2242,520.1 L2243,520.1 L2244,520.1 L2245,520.1 L2246,520.1 L2247,520.1 L2248,520.1 L2249,520.1 L2250,520.1 L2251,520.1 L2252,520.1 L2253,520.1 L2254,520.1 L2255,520.1 L2256,520.1 L2257,520.1 L2258,520.1 L2259,520 L2260,520 L2261,520 L2262,520 L2263,520 L2264,520 L2265,520 L2266,520 L2267,520 L2268,520 L2269,520 L2270,520 L2271,520 L2272,520 L2273,520 L2274,520 L2275,520 L2276,520 L2277,520 L2278,520 L2279,520 L2280,520 L2281,520 L2282,520 L2283,520 L2284,520 L2285,520 L2286,520 L2287,520 L2288,520 L2289,520 L2290,520 L2291,520 L2292,520 L2293,520 L2294,520 L2295,520 L2296,520 L2297,520 L2298,520 L2299,520 L2300,520 L2301,520 L2302,520 L2303,520 L2304,520 L2305,520 L2306,520 L2307,520 L2308,520 L2309,520 L2310,520 L2311,520" fill="none" stroke="#FF0000" stroke-width="10" stroke-linejoin="round"/>
<path d="M540,522.5 L541,522.5 L542,522.4 L543,522.4 L544,522.4 L545,522.4 L546,522.3 L547,522.3 L548,522.3 L549,522.2 L550,522.2 L551,522.1 L552,522.1 L553,522 L554,521.9 L555,521.9 L556,521.8 L557,521.7 L558,521.6 L559,521.5 L560,521.4 L561,521.3 L562,521.2 L563,521.1 L564,521 L565,520.8 L566,520.6 L567,520.5 L568,520.3 L569,520.1 L570,519.9 L571,519.7 L572,519.5 L573,519.2 L574,519 L575,518.8 L576,518.5 L577,518.3 L578,518 L579,517.8 L580,517.5 L581,517.3 L582,517 L583,516.7 L584,516.5 L585,516.2 L586,516 L587,515.7 L588,515.5 L589,515.2 L590,515 L591,514.7 L592,514.5 L593,514.2 L594,514 L595,513.7 L596,513.5 L597,513.3 L598,513 L599,512.8 L600,512.5 L601,512.3 L602,512 L603,511.8 L604,511.5 L605,511.3 L606,511 L607,510.8 L608,510.5 L609,510.3 L610,510 L611,509.8 L612,509.5 L613,509.2 L614,509 L615,508.7 L616,508.5 L617,508.2 L618,507.9 L619,507.7 L620,507.4 L621,507.1 L622,506.8 L623,506.6 L624,506.3 L625,506 L626,505.7 L627,505.4 L628,505.1 L629,504.8 L630,504.5 L631,504.2 L632,503.9 L633,503.6 L634,503.3 L635,503 L636,502.7 L637,502.4 L638,502.1 L639,501.7 L640,501.4 L641,501.1 L642,500.7 L643,500.4 L644,500.1 L645,499.7 L646,499.4 L647,499 L648,498.6 L649,498.3 L650,497.9 L651,497.5 L652,497.1 L653,496.7 L654,496.3 L655,495.9 L656,495.5 L657,495.1 L658,494.7 L659,494.2 L660,493.8 L661,493.4 L662,492.9 L663,492.4 L664,492 L665,491.5 L666,491 L667,490.6 L668,490.1 L669,489.6 L670,489.1 L671,488.6 L672,488.1 L673,487.6 L674,487.1 L675,486.5 L676,486 L677,485.5 L678,485 L679,484.4 L680,483.9 L681,483.4 L682,482.8 L683,482.3 L684,481.7 L685,481.2 L686,480.6 L687,480.1 L688,479.5 L689,479 L690,478.4 L691,477.9 L692,477.3 L693,476.7 L694,476.2 L695,475.6 L696,475.1 L697,474.5 L698,473.9 L699,473.4 L700,472.8 L701,472.3 L702,471.7 L703,471.1 L704,470.6 L705,470 L706,469.5 L707,468.9 L708,468.3 L709,467.8 L710,467.2 L711,466.7 L712,466.1 L713,465.6 L714,465 L715,464.4 L716,463.9 L717,463.3 L718,462.7 L719,462.1 L720,461.6 L721,461 L722,460.4 L723,459.8 L724,459.2 L725,458.6 L726,458 L727,457.4 L728,456.8 L729,456.2 L730,455.6 L731,455 L732,454.4 L733,453.8 L734,453.2 L735,452.6 L736,452 L737,451.5 L738,450.9 L739,450.3 L740,449.8 L741,449.2 L742,448.7 L743,448.1 L744,447.6 L745,447.1 L746,446.6 L747,446 L748,445.5 L749,445 L750,444.5 L751,444 L752,443.5 L753,443 L754,442.6 L755,442.1 L756,441.6 L757,441.1 L758,440.7 L759,440.2 L760,439.7 L761,439.3 L762,438.9 L763,438.4 L764,438 L765,437.6 L766,437.2 L767,436.8 L768,436.4 L769,436.1 L770,435.7 L771,435.4 L772,435.1 L773,434.7 L774,434.4 L775,434.1 L776,433.8 L777,433.5 L778,433.2 L779,432.9 L780,432.6 L781,432.4 L782,432.1 L783,431.8 L784,431.6 L785,431.3 L786,431.1 L787,430.9 L788,430.7 L789,430.5 L790,430.3 L791,430.1 L792,429.9 L793,429.8 L794,429.6 L795,429.5 L796,429.4 L797,429.3 L798,429.2 L799,429.1 L800,429 L801,428.9 L802,428.9 L803,428.8 L804,428.8 L805,428.7 L806,428.7 L807,428.6 L808,428.6 L809,428.5 L810,428.5 L811,428.5 L812,428.5 L813,428.5 L814,428.5 L815,428.6 L816,428.6 L817,428.7 L818,428.8 L819,428.9 L820,429.1 L821,429.2 L822,429.4 L823,429.6 L824,429.7 L825,429.9 L826,430.1 L827,430.4 L828,430.6 L829,430.8 L830,431.1 L831,431.3 L832,431.6 L833,431.8 L834,432.1 L835,432.4 L836,432.7 L837,433 L838,433.4 L839,433.7 L840,434.1 L841,434.4 L842,434.8 L843,435.2 L844,435.6 L845,436 L846,436.4 L847,436.8 L848,437.2 L849,437.7 L850,438.1 L851,438.6 L852,439.1 L853,439.6 L854,440.1 L855,440.6 L856,441.1 L857,441.7 L858,442.2 L859,442.8 L860,443.4 L861,443.9 L862,444.5 L863,445.1 L864,445.7 L865,446.3 L866,446.9 L867,447.5 L868,448.2 L869,448.8 L870,449.5 L871,450.1 L872,450.8 L873,451.5 L874,452.2 L875,452.9 L876,453.6 L877,454.4 L878,455.1 L879,455.9 L880,456.7 L881,457.5 L882,458.3 L883,459.1 L884,459.9 L885,460.7 L886,461.5 L887,462.2 L888,463 L889,463.8 L890,464.5 L891,465.3 L892,466 L893,466.7 L894,467.4 L895,468 L896,468.7 L897,469.3 L898,469.9 L899,470.5 L900,471.1 L901,471.7 L902,472.3 L903,472.9 L904,473.4 L905,474 L906,474.5 L907,475 L908,475.6 L909,476.1 L910,476.6 L911,477.1 L912,477.6 L913,478.1 L914,478.6 L915,479.1 L916,479.6 L917,480.1 L918,480.6 L919,481.1 L920,481.6 L921,482.1 L922,482.5 L923,483 L924,483.5 L925,483.9 L926,484.4 L927,484.9 L928,485.3 L929,485.8 L930,486.2 L931,486.7 L932,487.1 L933,487.6 L934,488 L935,488.4 L936,488.9 L937,489.3 L938,489.7 L939,490.2 L940,490.6 L941,491 L942,491.4 L943,491.9 L944,492.3 L945,492.7 L946,493.1 L947,493.5 L948,494 L949,494.4 L950,494.8 L951,495.2 L952,495.6 L953,496 L954,496.4 L955,496.8 L956,497.3 L957,497.7 L958,498.1 L959,498.5 L960,498.8 L961,499.2 L962,499.6 L963,500 L964,500.4 L965,500.8 L966,501.1 L967,501.5 L968,501.9 L969,502.2 L970,502.6 L971,502.9 L972,503.3 L973,503.6 L974,504 L975,504.3 L976,504.6 L977,505 L978,505.3 L979,505.6 L980,505.9 L981,506.3 L982,506.6 L983,506.9 L984,507.2 L985,507.5 L986,507.8 L987,508.1 L988,508.4 L989,508.7 L990,509 L991,509.3 L992,509.6 L993,509.9 L994,510.1 L995,510.4 L996,510.7 L997,510.9 L998,511.2 L999,511.4 L1000,511.7 L1001,511.9 L1002,512.1 L1003,512.4 L1004,512.6 L1005,512.8 L1006,513.1 L1007,513.3 L1008,513.5 L1009,513.7 L1010,513.9 L1011,514.1 L1012,514.4 L1013,514.6 L1014,514.8 L1015,515 L1016,515.2 L1017,515.4 L1018,515.5 L1019,515.7 L1020,515.9 L1021,516.1 L1022,516.3 L1023,516.4 L1024,516.6 L1025,516.7 L1026,516.9 L1027,517 L1028,517.2 L1029,517.3 L1030,517.5 L1031,517.6 L1032,517.7 L1033,517.9 L1034,518 L1035,518.1 L1036,518.2 L1037,518.4 L1038,518.5 L1039,518.6 L1040,518.7 L1041,518.8 L1042,518.9 L1043,519 L1044,519.1 L1045,519.2 L1046,519.3 L1047,519.4 L1048,519.5 L1049,519.6 L1050,519.7 L1051,519.8 L1052,519.9 L1053,520 L1054,520 L1055,520.1 L1056,520.2 L1057,520.3 L1058,520.3 L1059,520.4 L1060,520.5 L1061,520.6 L1062,520.6 L1063,520.7 L1064,520.7 L1065,520.8 L1066,520.9 L1067,520.9 L1068,521 L1069,521 L1070,521.1 L1071,521.2 L1072,521.2 L1073,521.3 L1074,521.3 L1075,521.4 L1076,521.4 L1077,521.5 L1078,521.5 L1079,521.6 L1080,521.6 L1081,521.6 L1082,521.7 L1083,521.7 L1084,521.8 L1085,521.8 L1086,521.9 L1087,521.9 L1088,521.9 L1089,522 L1090,522 L1091,522 L1092,522.1 L1093,522.1 L1094,522.1 L1095,522.1 L1096,522.2 L1097,522.2 L1098,522.2 L1099,522.3 L1100,522.3 L1101,522.3 L1102,522.3 L1103,522.4 L1104,522.4 L1105,522.4 L1106,522.4 L1107,522.4 L1108,522.4 L1109,522.5 L1110,522.5" fill="none" stroke="#DD0000" stroke-width="6.5" stroke-linejoin="round"/>
<path d="M730.1,522.5 L731.1,522.5 L732.1,522.5 L733.1,522.5 L734.1,522.5 L735.1,522.5 L736.1,522.5 L737.1,522.5 L738.1,522.5 L739.1,522.5 L740.1,522.5 L741.1,522.5 L742.1,522.5 L743.1,522.5 L744.1,522.5 L745.1,522.5 L746.1,522.5 L747.1,522.5 L748.1,522.5 L749.1,522.5 L750.1,522.5 L751.1,522.5 L752.1,522.5 L753.1,522.5 L754.1,522.5 L755.1,522.5 L756.1,522.5 L757.1,522.5 L758.1,522.5 L759.1,522.5 L760.1,522.5 L761.1,522.5 L762.1,522.5 L763.1,522.5 L764.1,522.5 L765.1,522.5 L766.1,522.5 L767.1,522.4 L768.1,522.4 L769.1,522.4 L770.1,522.4 L771.1,522.4 L772.1,522.4 L773.1,522.4 L774.1,522.4 L775.1,522.4 L776.1,522.4 L777.1,522.4 L778.1,522.4 L779.1,522.4 L780.1,522.4 L781.1,522.4 L782.1,522.4 L783.1,522.4 L784.1,522.4 L785.1,522.4 L786.1,522.4 L787.1,522.4 L788.1,522.3 L789.1,522.3 L790.1,522.3 L791.1,522.3 L792.1,522.3 L793.1,522.3 L794.1,522.3 L795.1,522.3 L796.1,522.3 L797.1,522.3 L798.1,522.3 L799.1,522.2 L800.1,522.2 L801.1,522.2 L802.1,522.2 L803.1,522.2 L804.1,522.2 L805.1,522.2 L806.1,522.2 L807.1,522.1 L808.1,522.1 L809.1,522.1 L810.1,522.1 L811.1,522.1 L812.1,522.1 L813.1,522.1 L814.1,522 L815.1,522 L816.1,522 L817.1,522 L818.1,522 L819.1,521.9 L820.1,521.9 L821.1,521.9 L822.1,521.9 L823.1,521.9 L824.1,521.8 L825.1,521.8 L826.1,521.8 L827.1,521.8 L828.1,521.7 L829.1,521.7 L830.1,521.7 L831.1,521.6 L832.1,521.6 L833.1,521.6 L834.1,521.5 L835.1,521.5 L836.1,521.5 L837.1,521.4 L838.1,521.4 L839.1,521.4 L840.1,521.3 L841.1,521.3 L842.1,521.3 L843.1,521.2 L844.1,521.2 L845.1,521.1 L846.1,521.1 L847.1,521 L848.1,521 L849.1,520.9 L850.1,520.9 L851.1,520.8 L852.1,520.8 L853.1,520.7 L854.1,520.7 L855.1,520.6 L856.1,520.5 L857.1,520.5 L858.1,520.4 L859.1,520.3 L860.1,520.3 L861.1,520.2 L862.1,520.1 L863.1,520.1 L864.1,520 L865.1,519.9 L866.1,519.8 L867.1,519.8 L868.1,519.7 L869.1,519.6 L870.1,519.5 L871.1,519.4 L872.1,519.3 L873.1,519.2 L874.1,519.1 L875.1,519 L876.1,518.9 L877.1,518.8 L878.1,518.7 L879.1,518.6 L880.1,518.5 L881.1,518.4 L882.1,518.3 L883.1,518.2 L884.1,518 L885.1,517.9 L886.1,517.8 L887.1,517.6 L888.1,517.5 L889.1,517.4 L890.1,517.2 L891.1,517.1 L892.1,516.9 L893.1,516.8 L894.1,516.6 L895.1,516.5 L896.1,516.3 L897.1,516.2 L898.1,516 L899.1,515.8 L900.1,515.6 L901.1,515.5 L902.1,515.3 L903.1,515.1 L904.1,514.9 L905.1,514.7 L906.1,514.5 L907.1,514.3 L908.1,514.1 L909.1,513.9 L910.1,513.7 L911.1,513.5 L912.1,513.3 L913.1,513 L914.1,512.8 L915.1,512.6 L916.1,512.3 L917.1,512.1 L918.1,511.8 L919.1,511.6 L920.1,511.3 L921.1,511.1 L922.1,510.8 L923.1,510.5 L924.1,510.2 L925.1,510 L926.1,509.7 L927.1,509.4 L928.1,509.1 L929.1,508.8 L930.1,508.5 L931.1,508.2 L932.1,507.8 L933.1,507.5 L934.1,507.2 L935.1,506.9 L936.1,506.5 L937.1,506.2 L938.1,505.8 L939.1,505.5 L940.1,505.1 L941.1,504.7 L942.1,504.4 L943.1,504 L944.1,503.6 L945.1,503.2 L946.1,502.8 L947.1,502.4 L948.1,502 L949.1,501.6 L950.1,501.2 L951.1,500.8 L952.1,500.4 L953.1,499.9 L954.1,499.5 L955.1,499 L956.1,498.6 L957.1,498.1 L958.1,497.7 L959.1,497.2 L960.1,496.7 L961.1,496.2 L962.1,495.8 L963.1,495.3 L964.1,494.8 L965.1,494.3 L966.1,493.8 L967.1,493.2 L968.1,492.7 L969.1,492.2 L970.1,491.7 L971.1,491.1 L972.1,490.6 L973.1,490 L974.1,489.5 L975.1,488.9 L976.1,488.4 L977.1,487.8 L978.1,487.2 L979.1,486.6 L980.1,486.1 L981.1,485.5 L982.1,484.9 L983.1,484.3 L984.1,483.7 L985.1,483.1 L986.1,482.4 L987.1,481.8 L988.1,481.2 L989.1,480.6 L990.1,479.9 L991.1,479.3 L992.1,478.6 L993.1,478 L994.1,477.3 L995.1,476.7 L996.1,476 L997.1,475.4 L998.1,474.7 L999.1,474 L1000.1,473.4 L1001.1,472.7 L1002.1,472 L1003.1,471.3 L1004.1,470.6 L1005.1,469.9 L1006.1,469.2 L1007.1,468.5 L1008.1,467.8 L1009.1,467.1 L1010.1,466.4 L1011.1,465.7 L1012.1,465 L1013.1,464.3 L1014.1,463.6 L1015.1,462.9 L1016.1,462.2 L1017.1,461.5 L1018.1,460.7 L1019.1,460 L1020.1,459.3 L1021.1,458.6 L1022.1,457.9 L1023.1,457.1 L1024.1,456.4 L1025.1,455.7 L1026.1,455 L1027.1,454.2 L1028.1,453.5 L1029.1,452.8 L1030.1,452.1 L1031.1,451.4 L1032.1,450.7 L1033.1,449.9 L1034.1,449.2 L1035.1,448.5 L1036.1,447.8 L1037.1,447.1 L1038.1,446.4 L1039.1,445.7 L1040.1,445 L1041.1,444.3 L1042.1,443.6 L1043.1,442.9 L1044.1,442.2 L1045.1,441.5 L1046.1,440.8 L1047.1,440.2 L1048.1,439.5 L1049.1,438.8 L1050.1,438.2 L1051.1,437.5 L1052.1,436.8 L1053.1,436.2 L1054.1,435.5 L1055.1,434.9 L1056.1,434.3 L1057.1,433.6 L1058.1,433 L1059.1,432.4 L1060.1,431.8 L1061.1,431.2 L1062.1,430.6 L1063.1,430 L1064.1,429.4 L1065.1,428.9 L1066.1,428.3 L1067.1,427.7 L1068.1,427.2 L1069.1,426.7 L1070.1,426.1 L1071.1,425.6 L1072.1,425.1 L1073.1,424.6 L1074.1,424.1 L1075.1,423.6 L1076.1,423.1 L1077.1,422.6 L1078.1,422.2 L1079.1,421.7 L1080.1,421.3 L1081.1,420.9 L1082.1,420.4 L1083.1,420 L1084.1,419.6 L1085.1,419.2 L1086.1,418.9 L1087.1,418.5 L1088.1,418.1 L1089.1,417.8 L1090.1,417.5 L1091.1,417.1 L1092.1,416.8 L1093.1,416.5 L1094.1,416.2 L1095.1,416 L1096.1,415.7 L1097.1,415.5 L1098.1,415.2 L1099.1,415 L1100.1,414.8 L1101.1,414.6 L1102.1,414.4 L1103.1,414.2 L1104.1,414 L1105.1,413.9 L1106.1,413.7 L1107.1,413.6 L1108.1,413.5 L1109.1,413.4 L1110.1,413.3 L1111.1,413.2 L1112.1,413.2 L1113.1,413.1 L1114.1,413.1 L1115.1,413.1 L1116.1,413 L1117.1,413 L1118.1,413.1 L1119.1,413.1 L1120.1,413.1 L1121.1,413.2 L1122.1,413.2 L1123.1,413.3 L1124.1,413.4 L1125.1,413.5 L1126.1,413.6 L1127.1,413.8 L1128.1,413.9 L1129.1,414.1 L1130.1,414.2 L1131.1,414.4 L1132.1,414.6 L1133.1,414.8 L1134.1,415 L1135.1,415.3 L1136.1,415.5 L1137.1,415.8 L1138.1,416 L1139.1,416.3 L1140.1,416.6 L1141.1,416.9 L1142.1,417.2 L1143.1,417.5 L1144.1,417.9 L1145.1,418.2 L1146.1,418.6 L1147.1,418.9 L1148.1,419.3 L1149.1,419.7 L1150.1,420.1 L1151.1,420.5 L1152.1,420.9 L1153.1,421.4 L1154.1,421.8 L1155.1,422.3 L1156.1,422.7 L1157.1,423.2 L1158.1,423.7 L1159.1,424.2 L1160.1,424.7 L1161.1,425.2 L1162.1,425.7 L1163.1,426.2 L1164.1,426.8 L1165.1,427.3 L1166.1,427.9 L1167.1,428.4 L1168.1,429 L1169.1,429.6 L1170.1,430.1 L1171.1,430.7 L1172.1,431.3 L1173.1,431.9 L1174.1,432.5 L1175.1,433.2 L1176.1,433.8 L1177.1,434.4 L1178.1,435 L1179.1,435.7 L1180.1,436.3 L1181.1,437 L1182.1,437.6 L1183.1,438.3 L1184.1,439 L1185.1,439.6 L1186.1,440.3 L1187.1,441 L1188.1,441.7 L1189.1,442.3 L1190.1,443 L1191.1,443.7 L1192.1,444.4 L1193.1,445.1 L1194.1,445.8 L1195.1,446.5 L1196.1,447.2 L1197.1,447.9 L1198.1,448.7 L1199.1,449.4 L1200.1,450.1 L1201.1,450.8 L1202.1,451.5 L1203.1,452.2 L1204.1,453 L1205.1,453.7 L1206.1,454.4 L1207.1,455.1 L1208.1,455.8 L1209.1,456.6 L1210.1,457.3 L1211.1,458 L1212.1,458.7 L1213.1,459.5 L1214.1,460.2 L1215.1,460.9 L1216.1,461.6 L1217.1,462.3 L1218.1,463 L1219.1,463.8 L1220.1,464.5 L1221.1,465.2 L1222.1,465.9 L1223.1,466.6 L1224.1,467.3 L1225.1,468 L1226.1,468.7 L1227.1,469.4 L1228.1,470.1 L1229.1,470.8 L1230.1,471.5 L1231.1,472.1 L1232.1,472.8 L1233.1,473.5 L1234.1,474.2 L1235.1,474.8 L1236.1,475.5 L1237.1,476.2 L1238.1,476.8 L1239.1,477.5 L1240.1,478.1 L1241.1,478.8 L1242.1,479.4 L1243.1,480.1 L1244.1,480.7 L1245.1,481.3 L1246.1,482 L1247.1,482.6 L1248.1,483.2 L1249.1,483.8 L1250.1,484.4 L1251.1,485 L1252.1,485.6 L1253.1,486.2 L1254.1,486.8 L1255.1,487.3 L1256.1,487.9 L1257.1,488.5 L1258.1,489.1 L1259.1,489.6 L1260.1,490.2 L1261.1,490.7 L1262.1,491.3 L1263.1,491.8 L1264.1,492.3 L1265.1,492.8 L1266.1,493.4 L1267.1,493.9 L1268.1,494.4 L1269.1,494.9 L1270.1,495.4 L1271.1,495.9 L1272.1,496.4 L1273.1,496.8 L1274.1,497.3 L1275.1,497.8 L1276.1,498.2 L1277.1,498.7 L1278.1,499.1 L1279.1,499.6 L1280.1,500 L1281.1,500.5 L1282.1,500.9 L1283.1,501.3 L1284.1,501.7 L1285.1,502.1 L1286.1,502.5 L1287.1,502.9 L1288.1,503.3 L1289.1,503.7 L1290.1,504.1 L1291.1,504.5 L1292.1,504.8 L1293.1,505.2 L1294.1,505.6 L1295.1,505.9 L1296.1,506.3 L1297.1,506.6 L1298.1,506.9 L1299.1,507.3 L1300.1,507.6 L1301.1,507.9 L1302.1,508.2 L1303.1,508.6 L1304.1,508.9 L1305.1,509.2 L1306.1,509.5 L1307.1,509.7 L1308.1,510 L1309.1,510.3 L1310.1,510.6 L1311.1,510.9 L1312.1,511.1 L1313.1,511.4 L1314.1,511.6 L1315.1,511.9 L1316.1,512.1 L1317.1,512.4 L1318.1,512.6 L1319.1,512.9 L1320.1,513.1 L1321.1,513.3 L1322.1,513.5 L1323.1,513.8 L1324.1,514 L1325.1,514.2 L1326.1,514.4 L1327.1,514.6 L1328.1,514.8 L1329.1,515 L1330.1,515.2 L1331.1,515.3 L1332.1,515.5 L1333.1,515.7 L1334.1,515.9 L1335.1,516 L1336.1,516.2 L1337.1,516.4 L1338.1,516.5 L1339.1,516.7 L1340.1,516.8 L1341.1,517 L1342.1,517.1 L1343.1,517.3 L1344.1,517.4 L1345.1,517.6 L1346.1,517.7 L1347.1,517.8 L1348.1,518 L1349.1,518.1 L1350.1,518.2 L1351.1,518.3 L1352.1,518.4 L1353.1,518.5 L1354.1,518.7 L1355.1,518.8 L1356.1,518.9 L1357.1,519 L1358.1,519.1 L1359.1,519.2 L1360.1,519.3 L1361.1,519.4 L1362.1,519.5 L1363.1,519.5 L1364.1,519.6 L1365.1,519.7 L1366.1,519.8 L1367.1,519.9 L1368.1,520 L1369.1,520 L1370.1,520.1 L1371.1,520.2 L1372.1,520.2 L1373.1,520.3 L1374.1,520.4 L1375.1,520.4 L1376.1,520.5 L1377.1,520.6 L1378.1,520.6 L1379.1,520.7 L1380.1,520.8 L1381.1,520.8 L1382.1,520.9 L1383.1,520.9 L1384.1,521 L1385.1,521 L1386.1,521.1 L1387.1,521.1 L1388.1,521.2 L1389.1,521.2 L1390.1,521.2 L1391.1,521.3 L1392.1,521.3 L1393.1,521.4 L1394.1,521.4 L1395.1,521.4 L1396.1,521.5 L1397.1,521.5 L1398.1,521.5 L1399.1,521.6 L1400.1,521.6 L1401.1,521.6 L1402.1,521.7 L1403.1,521.7 L1404.1,521.7 L1405.1,521.8 L1406.1,521.8 L1407.1,521.8 L1408.1,521.8 L1409.1,521.9 L1410.1,521.9 L1411.1,521.9 L1412.1,521.9 L1413.1,522 L1414.1,522 L1415.1,522 L1416.1,522 L1417.1,522 L1418.1,522.1 L1419.1,522.1 L1420.1,522.1 L1421.1,522.1 L1422.1,522.1 L1423.1,522.1 L1424.1,522.2 L1425.1,522.2 L1426.1,522.2 L1427.1,522.2 L1428.1,522.2 L1429.1,522.2 L1430.1,522.2 L1431.1,522.2 L1432.1,522.3 L1433.1,522.3 L1434.1,522.3 L1435.1,522.3 L1436.1,522.3 L1437.1,522.3 L1438.1,522.3 L1439.1,522.3 L1440.1,522.3 L1441.1,522.3 L1442.1,522.4 L1443.1,522.4 L1444.1,522.4 L1445.1,522.4 L1446.1,522.4 L1447.1,522.4 L1448.1,522.4 L1449.1,522.4 L1450.1,522.4 L1451.1,522.4 L1452.1,522.4 L1453.1,522.4 L1454.1,522.4 L1455.1,522.4 L1456.1,522.4 L1457.1,522.4 L1458.1,522.5 L1459.1,522.5 L1460.1,522.5 L1461.1,522.5 L1462.1,522.5 L1463.1,522.5 L1464.1,522.5 L1465.1,522.5 L1466.1,522.5 L1467.1,522.5 L1468.1,522.5 L1469.1,522.5 L1470.1,522.5 L1471.1,522.5 L1472.1,522.5 L1473.1,522.5 L1474.1,522.5 L1475.1,522.5 L1476.1,522.5 L1477.1,522.5 L1478.1,522.5 L1479.1,522.5 L1480.1,522.5 L1481.1,522.5 L1482.1,522.5 L1483.1,522.5 L1484.1,522.5 L1485.1,522.5 L1486.1,522.5 L1487.1,522.5 L1488.1,522.5 L1489.1,522.5 L1490.1,522.5 L1491.1,522.5 L1492.1,522.5 L1493.1,522.5 L1494.1,522.5 L1495.1,522.5 L1496.1,522.5 L1497.1,522.5 L1498.1,522.5 L1499.1,522.5 L1500.1,522.5 L1501.1,522.5 L1502.1,522.5" fill="none" stroke="#DD0000" stroke-width="6.5" stroke-linejoin="round"/>
<path d="M1014.4,522.5 L1015.4,522.5 L1016.4,522.5 L1017.4,522.5 L1018.4,522.5 L1019.4,522.5 L1020.4,522.5 L1021.4,522.4 L1022.4,522.4 L1023.4,522.4 L1024.4,522.4 L1025.4,522.4 L1026.4,522.4 L1027.4,522.4 L1028.4,522.4 L1029.4,522.4 L1030.4,522.4 L1031.4,522.3 L1032.4,522.3 L1033.4,522.3 L1034.4,522.3 L1035.4,522.3 L1036.4,522.3 L1037.4,522.2 L1038.4,522.2 L1039.4,522.2 L1040.4,522.2 L1041.4,522.1 L1042.4,522.1 L1043.4,522.1 L1044.4,522 L1045.4,522 L1046.4,522 L1047.4,521.9 L1048.4,521.9 L1049.4,521.8 L1050.4,521.8 L1051.4,521.7 L1052.4,521.7 L1053.4,521.6 L1054.4,521.6 L1055.4,521.5 L1056.4,521.4 L1057.4,521.4 L1058.4,521.3 L1059.4,521.2 L1060.4,521.1 L1061.4,521 L1062.4,520.9 L1063.4,520.8 L1064.4,520.7 L1065.4,520.6 L1066.4,520.5 L1067.4,520.3 L1068.4,520.2 L1069.4,520 L1070.4,519.9 L1071.4,519.7 L1072.4,519.6 L1073.4,519.4 L1074.4,519.2 L1075.4,519 L1076.4,518.8 L1077.4,518.6 L1078.4,518.3 L1079.4,518.1 L1080.4,517.8 L1081.4,517.6 L1082.4,517.3 L1083.4,517 L1084.4,516.7 L1085.4,516.3 L1086.4,516 L1087.4,515.6 L1088.4,515.3 L1089.4,514.9 L1090.4,514.4 L1091.4,514 L1092.4,513.6 L1093.4,513.1 L1094.4,512.6 L1095.4,512.1 L1096.4,511.5 L1097.4,511 L1098.4,510.4 L1099.4,509.8 L1100.4,509.1 L1101.4,508.5 L1102.4,507.8 L1103.4,507.1 L1104.4,506.3 L1105.4,505.5 L1106.4,504.7 L1107.4,503.9 L1108.4,503 L1109.4,502.1 L1110.4,501.1 L1111.4,500.1 L1112.4,499.1 L1113.4,498.1 L1114.4,497 L1115.4,495.8 L1116.4,494.6 L1117.4,493.4 L1118.4,492.2 L1119.4,490.9 L1120.4,489.5 L1121.4,488.1 L1122.4,486.7 L1123.4,485.2 L1124.4,483.7 L1125.4,482.1 L1126.4,480.4 L1127.4,478.8 L1128.4,477 L1129.4,475.2 L1130.4,473.4 L1131.4,471.5 L1132.4,469.6 L1133.4,467.6 L1134.4,465.5 L1135.4,463.4 L1136.4,461.2 L1137.4,459 L1138.4,456.7 L1139.4,454.4 L1140.4,452 L1141.4,449.5 L1142.4,447 L1143.4,444.4 L1144.4,441.8 L1145.4,439.1 L1146.4,436.4 L1147.4,433.6 L1148.4,430.7 L1149.4,427.8 L1150.4,424.8 L1151.4,421.7 L1152.4,418.6 L1153.4,415.5 L1154.4,412.3 L1155.4,409 L1156.4,405.7 L1157.4,402.3 L1158.4,398.8 L1159.4,395.4 L1160.4,391.8 L1161.4,388.2 L1162.4,384.6 L1163.4,380.9 L1164.4,377.2 L1165.4,373.4 L1166.4,369.6 L1167.4,365.7 L1168.4,361.8 L1169.4,357.8 L1170.4,353.9 L1171.4,349.8 L1172.4,345.8 L1173.4,341.7 L1174.4,337.6 L1175.4,333.5 L1176.4,329.3 L1177.4,325.1 L1178.4,320.9 L1179.4,316.7 L1180.4,312.5 L1181.4,308.3 L1182.4,304 L1183.4,299.8 L1184.4,295.5 L1185.4,291.3 L1186.4,287 L1187.4,282.8 L1188.4,278.6 L1189.4,274.3 L1190.4,270.1 L1191.4,266 L1192.4,261.8 L1193.4,257.7 L1194.4,253.6 L1195.4,249.5 L1196.4,245.5 L1197.4,241.5 L1198.4,237.6 L1199.4,233.7 L1200.4,229.9 L1201.4,226.1 L1202.4,222.3 L1203.4,218.7 L1204.4,215.1 L1205.4,211.5 L1206.4,208.1 L1207.4,204.7 L1208.4,201.4 L1209.4,198.2 L1210.4,195 L1211.4,192 L1212.4,189 L1213.4,186.1 L1214.4,183.3 L1215.4,180.7 L1216.4,178.1 L1217.4,175.6 L1218.4,173.2 L1219.4,171 L1220.4,168.8 L1221.4,166.8 L1222.4,164.9 L1223.4,163.1 L1224.4,161.4 L1225.4,159.8 L1226.4,158.4 L1227.4,157.1 L1228.4,155.9 L1229.4,154.9 L1230.4,153.9 L1231.4,153.1 L1232.4,152.4 L1233.4,151.9 L1234.4,151.5 L1235.4,151.2 L1236.4,151.1 L1237.4,151.1 L1238.4,151.2 L1239.4,151.4 L1240.4,151.8 L1241.4,152.3 L1242.4,153 L1243.4,153.7 L1244.4,154.7 L1245.4,155.7 L1246.4,156.8 L1247.4,158.1 L1248.4,159.5 L1249.4,161.1 L1250.4,162.7 L1251.4,164.5 L1252.4,166.4 L1253.4,168.4 L1254.4,170.5 L1255.4,172.8 L1256.4,175.1 L1257.4,177.6 L1258.4,180.1 L1259.4,182.8 L1260.4,185.6 L1261.4,188.4 L1262.4,191.4 L1263.4,194.4 L1264.4,197.5 L1265.4,200.7 L1266.4,204 L1267.4,207.4 L1268.4,210.9 L1269.4,214.4 L1270.4,218 L1271.4,221.6 L1272.4,225.3 L1273.4,229.1 L1274.4,232.9 L1275.4,236.8 L1276.4,240.7 L1277.4,244.7 L1278.4,248.7 L1279.4,252.8 L1280.4,256.9 L1281.4,261 L1282.4,265.1 L1283.4,269.3 L1284.4,273.5 L1285.4,277.7 L1286.4,281.9 L1287.4,286.2 L1288.4,290.4 L1289.4,294.7 L1290.4,298.9 L1291.4,303.2 L1292.4,307.4 L1293.4,311.7 L1294.4,315.9 L1295.4,320.1 L1296.4,324.3 L1297.4,328.5 L1298.4,332.7 L1299.4,336.8 L1300.4,340.9 L1301.4,345 L1302.4,349 L1303.4,353.1 L1304.4,357.1 L1305.4,361 L1306.4,364.9 L1307.4,368.8 L1308.4,372.6 L1309.4,376.4 L1310.4,380.2 L1311.4,383.9 L1312.4,387.5 L1313.4,391.1 L1314.4,394.7 L1315.4,398.2 L1316.4,401.6 L1317.4,405 L1318.4,408.3 L1319.4,411.6 L1320.4,414.8 L1321.4,418 L1322.4,421.1 L1323.4,424.2 L1324.4,427.2 L1325.4,430.1 L1326.4,433 L1327.4,435.8 L1328.4,438.6 L1329.4,441.3 L1330.4,443.9 L1331.4,446.5 L1332.4,449 L1333.4,451.5 L1334.4,453.9 L1335.4,456.3 L1336.4,458.6 L1337.4,460.8 L1338.4,463 L1339.4,465.1 L1340.4,467.2 L1341.4,469.2 L1342.4,471.1 L1343.4,473 L1344.4,474.9 L1345.4,476.7 L1346.4,478.4 L1347.4,480.1 L1348.4,481.8 L1349.4,483.4 L1350.4,484.9 L1351.4,486.4 L1352.4,487.8 L1353.4,489.2 L1354.4,490.6 L1355.4,491.9 L1356.4,493.2 L1357.4,494.4 L1358.4,495.6 L1359.4,496.7 L1360.4,497.9 L1361.4,498.9 L1362.4,499.9 L1363.4,500.9 L1364.4,501.9 L1365.4,502.8 L1366.4,503.7 L1367.4,504.5 L1368.4,505.4 L1369.4,506.2 L1370.4,506.9 L1371.4,507.6 L1372.4,508.3 L1373.4,509 L1374.4,509.7 L1375.4,510.3 L1376.4,510.9 L1377.4,511.4 L1378.4,512 L1379.4,512.5 L1380.4,513 L1381.4,513.5 L1382.4,513.9 L1383.4,514.4 L1384.4,514.8 L1385.4,515.2 L1386.4,515.6 L1387.4,515.9 L1388.4,516.3 L1389.4,516.6 L1390.4,516.9 L1391.4,517.2 L1392.4,517.5 L1393.4,517.8 L1394.4,518 L1395.4,518.3 L1396.4,518.5 L1397.4,518.7 L1398.4,519 L1399.4,519.2 L1400.4,519.4 L1401.4,519.5 L1402.4,519.7 L1403.4,519.9 L1404.4,520 L1405.4,520.2 L1406.4,520.3 L1407.4,520.4 L1408.4,520.6 L1409.4,520.7 L1410.4,520.8 L1411.4,520.9 L1412.4,521 L1413.4,521.1 L1414.4,521.2 L1415.4,521.3 L1416.4,521.4 L1417.4,521.4 L1418.4,521.5 L1419.4,521.6 L1420.4,521.6 L1421.4,521.7 L1422.4,521.7 L1423.4,521.8 L1424.4,521.8 L1425.4,521.9 L1426.4,521.9 L1427.4,522 L1428.4,522 L1429.4,522 L1430.4,522.1 L1431.4,522.1 L1432.4,522.1 L1433.4,522.2 L1434.4,522.2 L1435.4,522.2 L1436.4,522.2 L1437.4,522.3 L1438.4,522.3 L1439.4,522.3 L1440.4,522.3 L1441.4,522.3 L1442.4,522.4 L1443.4,522.4 L1444.4,522.4 L1445.4,522.4 L1446.4,522.4 L1447.4,522.4 L1448.4,522.4 L1449.4,522.4 L1450.4,522.4 L1451.4,522.5 L1452.4,522.5 L1453.4,522.5 L1454.4,522.5 L1455.4,522.5 L1456.4,522.5 L1457.4,522.5 L1458.4,522.5 L1459.4,522.5" fill="none" stroke="#DD0000" stroke-width="6.5" stroke-linejoin="round"/>
<line x1="120" y1="522.5" x2="2311" y2="522.6" stroke="#DD0000" stroke-width="7.5"/>
<path d="M120,1017.5 L121,1017.5 L122,1017.5 L123,1017.5 L124,1017.5 L125,1017.5 L126,1017.5 L127,1017.5 L128,1017.5 L129,1017.5 L130,1017.5 L131,1017.5 L132,1017.5 L133,1017.5 L134,1017.5 L135,1017.5 L136,1017.5 L137,1017.5 L138,1017.5 L139,1017.5 L140,1017.5 L141,1017.5 L142,1017.5 L143,1017.5 L144,1017.5 L145,1017.5 L146,1017.5 L147,1017.5 L148,1017.5 L149,1017.5 L150,1017.5 L151,1017.5 L152,1017.5 L153,1017.5 L154,1017.5 L155,1017.5 L156,1017.5 L157,1017.5 L158,1017.4 L159,1017.4 L160,1017.4 L161,1017.4 L162,1017.4 L163,1017.4 L164,1017.4 L165,1017.4 L166,1017.4 L167,1017.4 L168,1017.4 L169,1017.4 L170,1017.4 L171,1017.4 L172,1017.4 L173,1017.4 L174,1017.4 L175,1017.4 L176,1017.4 L177,1017.4 L178,1017.4 L179,1017.4 L180,1017.4 L181,1017.4 L182,1017.4 L183,1017.4 L184,1017.4 L185,1017.4 L186,1017.4 L187,1017.3 L188,1017.3 L189,1017.3 L190,1017.3 L191,1017.3 L192,1017.3 L193,1017.3 L194,1017.3 L195,1017.3 L196,1017.3 L197,1017.3 L198,1017.3 L199,1017.3 L200,1017.3 L201,1017.3 L202,1017.3 L203,1017.3 L204,1017.3 L205,1017.3 L206,1017.3 L207,1017.3 L208,1017.2 L209,1017.2 L210,1017.2 L211,1017.2 L212,1017.2 L213,1017.2 L214,1017.2 L215,1017.2 L216,1017.2 L217,1017.2 L218,1017.2 L219,1017.2 L220,1017.2 L221,1017.2 L222,1017.2 L223,1017.2 L224,1017.2 L225,1017.1 L226,1017.1 L227,1017.1 L228,1017.1 L229,1017.1 L230,1017.1 L231,1017.1 L232,1017.1 L233,1017.1 L234,1017.1 L235,1017.1 L236,1017.1 L237,1017.1 L238,1017.1 L239,1017.1 L240,1017 L241,1017 L242,1017 L243,1017 L244,1017 L245,1017 L246,1017 L247,1017 L248,1017 L249,1017 L250,1017 L251,1017 L252,1017 L253,1017 L254,1016.9 L255,1016.9 L256,1016.9 L257,1016.9 L258,1016.9 L259,1016.9 L260,1016.9 L261,1016.9 L262,1016.9 L263,1016.9 L264,1016.9 L265,1016.9 L266,1016.9 L267,1016.8 L268,1016.8 L269,1016.8 L270,1016.8 L271,1016.8 L272,1016.8 L273,1016.8 L274,1016.8 L275,1016.8 L276,1016.8 L277,1016.8 L278,1016.8 L279,1016.7 L280,1016.7 L281,1016.7 L282,1016.7 L283,1016.7 L284,1016.7 L285,1016.7 L286,1016.7 L287,1016.7 L288,1016.7 L289,1016.7 L290,1016.6 L291,1016.6 L292,1016.6 L293,1016.6 L294,1016.6 L295,1016.6 L296,1016.6 L297,1016.6 L298,1016.6 L299,1016.6 L300,1016.6 L301,1016.5 L302,1016.5 L303,1016.5 L304,1016.5 L305,1016.5 L306,1016.5 L307,1016.5 L308,1016.5 L309,1016.5 L310,1016.5 L311,1016.4 L312,1016.4 L313,1016.4 L314,1016.4 L315,1016.4 L316,1016.4 L317,1016.4 L318,1016.4 L319,1016.4 L320,1016.4 L321,1016.4 L322,1016.3 L323,1016.3 L324,1016.3 L325,1016.3 L326,1016.3 L327,1016.3 L328,1016.3 L329,1016.3 L330,1016.3 L331,1016.3 L332,1016.2 L333,1016.2 L334,1016.2 L335,1016.2 L336,1016.2 L337,1016.2 L338,1016.2 L339,1016.2 L340,1016.2 L341,1016.1 L342,1016.1 L343,1016.1 L344,1016.1 L345,1016.1 L346,1016.1 L347,1016.1 L348,1016.1 L349,1016.1 L350,1016.1 L351,1016 L352,1016 L353,1016 L354,1016 L355,1016 L356,1016 L357,1016 L358,1016 L359,1016 L360,1015.9 L361,1015.9 L362,1015.9 L363,1015.9 L364,1015.9 L365,1015.9 L366,1015.9 L367,1015.9 L368,1015.9 L369,1015.8 L370,1015.8 L371,1015.8 L372,1015.8 L373,1015.8 L374,1015.8 L375,1015.8 L376,1015.8 L377,1015.8 L378,1015.7 L379,1015.7 L380,1015.7 L381,1015.7 L382,1015.7 L383,1015.7 L384,1015.7 L385,1015.7 L386,1015.7 L387,1015.6 L388,1015.6 L389,1015.6 L390,1015.6 L391,1015.6 L392,1015.6 L393,1015.6 L394,1015.6 L395,1015.6 L396,1015.5 L397,1015.5 L398,1015.5 L399,1015.5 L400,1015.5 L401,1015.5 L402,1015.5 L403,1015.5 L404,1015.5 L405,1015.4 L406,1015.4 L407,1015.4 L408,1015.4 L409,1015.4 L410,1015.4 L411,1015.4 L412,1015.4 L413,1015.3 L414,1015.3 L415,1015.3 L416,1015.3 L417,1015.3 L418,1015.3 L419,1015.3 L420,1015.2 L421,1015.2 L422,1015.2 L423,1015.2 L424,1015.2 L425,1015.2 L426,1015.2 L427,1015.1 L428,1015.1 L429,1015.1 L430,1015.1 L431,1015.1 L432,1015.1 L433,1015 L434,1015 L435,1015 L436,1015 L437,1015 L438,1015 L439,1014.9 L440,1014.9 L441,1014.9 L442,1014.9 L443,1014.9 L444,1014.9 L445,1014.8 L446,1014.8 L447,1014.8 L448,1014.8 L449,1014.8 L450,1014.7 L451,1014.7 L452,1014.7 L453,1014.7 L454,1014.7 L455,1014.6 L456,1014.6 L457,1014.6 L458,1014.6 L459,1014.6 L460,1014.5 L461,1014.5 L462,1014.5 L463,1014.5 L464,1014.5 L465,1014.4 L466,1014.4 L467,1014.4 L468,1014.4 L469,1014.3 L470,1014.3 L471,1014.3 L472,1014.3 L473,1014.2 L474,1014.2 L475,1014.2 L476,1014.2 L477,1014.1 L478,1014.1 L479,1014.1 L480,1014.1 L481,1014 L482,1014 L483,1014 L484,1014 L485,1013.9 L486,1013.9 L487,1013.9 L488,1013.9 L489,1013.8 L490,1013.8 L491,1013.8 L492,1013.7 L493,1013.7 L494,1013.7 L495,1013.6 L496,1013.6 L497,1013.6 L498,1013.6 L499,1013.5 L500,1013.5 L501,1013.5 L502,1013.4 L503,1013.4 L504,1013.4 L505,1013.3 L506,1013.3 L507,1013.2 L508,1013.2 L509,1013.2 L510,1013.1 L511,1013.1 L512,1013 L513,1013 L514,1012.9 L515,1012.9 L516,1012.8 L517,1012.8 L518,1012.7 L519,1012.7 L520,1012.6 L521,1012.5 L522,1012.5 L523,1012.4 L524,1012.4 L525,1012.3 L526,1012.2 L527,1012.2 L528,1012.1 L529,1012.1 L530,1012 L531,1011.9 L532,1011.9 L533,1011.8 L534,1011.8 L535,1011.7 L536,1011.6 L537,1011.6 L538,1011.5 L539,1011.4 L540,1011.4 L541,1011.3 L542,1011.3 L543,1011.2 L544,1011.1 L545,1011.1 L546,1011 L547,1010.9 L548,1010.9 L549,1010.8 L550,1010.8 L551,1010.7 L552,1010.6 L553,1010.6 L554,1010.5 L555,1010.5 L556,1010.4 L557,1010.4 L558,1010.3 L559,1010.2 L560,1010.2 L561,1010.1 L562,1010.1 L563,1010 L564,1009.9 L565,1009.9 L566,1009.8 L567,1009.8 L568,1009.7 L569,1009.6 L570,1009.6 L571,1009.5 L572,1009.5 L573,1009.4 L574,1009.3 L575,1009.3 L576,1009.2 L577,1009.2 L578,1009.1 L579,1009 L580,1009 L581,1008.9 L582,1008.8 L583,1008.8 L584,1008.7 L585,1008.6 L586,1008.6 L587,1008.5 L588,1008.4 L589,1008.3 L590,1008.3 L591,1008.2 L592,1008.1 L593,1008.1 L594,1008 L595,1007.9 L596,1007.8 L597,1007.7 L598,1007.7 L599,1007.6 L600,1007.5 L601,1007.4 L602,1007.3 L603,1007.2 L604,1007.2 L605,1007.1 L606,1007 L607,1006.9 L608,1006.8 L609,1006.7 L610,1006.6 L611,1006.5 L612,1006.4 L613,1006.3 L614,1006.2 L615,1006.1 L616,1006 L617,1005.9 L618,1005.8 L619,1005.7 L620,1005.6 L621,1005.5 L622,1005.4 L623,1005.3 L624,1005.2 L625,1005.1 L626,1005 L627,1004.9 L628,1004.7 L629,1004.6 L630,1004.5 L631,1004.4 L632,1004.3 L633,1004.2 L634,1004 L635,1003.9 L636,1003.8 L637,1003.7 L638,1003.5 L639,1003.4 L640,1003.3 L641,1003.2 L642,1003 L643,1002.9 L644,1002.8 L645,1002.6 L646,1002.5 L647,1002.4 L648,1002.2 L649,1002.1 L650,1002 L651,1001.8 L652,1001.7 L653,1001.5 L654,1001.4 L655,1001.2 L656,1001.1 L657,1000.9 L658,1000.8 L659,1000.6 L660,1000.5 L661,1000.3 L662,1000.1 L663,1000 L664,999.8 L665,999.6 L666,999.5 L667,999.3 L668,999.1 L669,999 L670,998.8 L671,998.6 L672,998.4 L673,998.2 L674,998.1 L675,997.9 L676,997.7 L677,997.5 L678,997.3 L679,997.1 L680,996.9 L681,996.7 L682,996.5 L683,996.3 L684,996.1 L685,995.9 L686,995.7 L687,995.5 L688,995.3 L689,995.1 L690,994.8 L691,994.6 L692,994.4 L693,994.2 L694,993.9 L695,993.7 L696,993.5 L697,993.3 L698,993 L699,992.8 L700,992.5 L701,992.3 L702,992 L703,991.8 L704,991.5 L705,991.2 L706,991 L707,990.7 L708,990.4 L709,990.1 L710,989.8 L711,989.5 L712,989.2 L713,988.9 L714,988.6 L715,988.3 L716,987.9 L717,987.6 L718,987.3 L719,987 L720,986.6 L721,986.3 L722,986 L723,985.6 L724,985.3 L725,984.9 L726,984.6 L727,984.2 L728,983.9 L729,983.6 L730,983.2 L731,982.9 L732,982.5 L733,982.2 L734,981.8 L735,981.5 L736,981.1 L737,980.8 L738,980.4 L739,980.1 L740,979.7 L741,979.4 L742,979.1 L743,978.7 L744,978.4 L745,978.1 L746,977.7 L747,977.4 L748,977.1 L749,976.7 L750,976.4 L751,976.1 L752,975.7 L753,975.4 L754,975.1 L755,974.7 L756,974.4 L757,974 L758,973.7 L759,973.3 L760,973 L761,972.6 L762,972.3 L763,971.9 L764,971.6 L765,971.2 L766,970.9 L767,970.5 L768,970.2 L769,969.8 L770,969.5 L771,969.1 L772,968.8 L773,968.4 L774,968.1 L775,967.8 L776,967.4 L777,967.1 L778,966.7 L779,966.4 L780,966.1 L781,965.7 L782,965.4 L783,965.1 L784,964.8 L785,964.4 L786,964.1 L787,963.8 L788,963.5 L789,963.2 L790,962.9 L791,962.6 L792,962.3 L793,962 L794,961.7 L795,961.4 L796,961.2 L797,960.9 L798,960.6 L799,960.4 L800,960.1 L801,959.8 L802,959.6 L803,959.3 L804,959.1 L805,958.8 L806,958.6 L807,958.3 L808,958.1 L809,957.8 L810,957.6 L811,957.3 L812,957.1 L813,956.9 L814,956.6 L815,956.4 L816,956.2 L817,955.9 L818,955.7 L819,955.5 L820,955.3 L821,955.1 L822,954.8 L823,954.6 L824,954.4 L825,954.2 L826,954 L827,953.8 L828,953.6 L829,953.4 L830,953.2 L831,953 L832,952.9 L833,952.7 L834,952.5 L835,952.3 L836,952.1 L837,951.9 L838,951.7 L839,951.5 L840,951.3 L841,951.1 L842,951 L843,950.8 L844,950.6 L845,950.4 L846,950.2 L847,950 L848,949.8 L849,949.6 L850,949.4 L851,949.2 L852,949 L853,948.9 L854,948.7 L855,948.5 L856,948.4 L857,948.2 L858,948.1 L859,947.9 L860,947.8 L861,947.7 L862,947.6 L863,947.5 L864,947.4 L865,947.3 L866,947.2 L867,947.2 L868,947.1 L869,947.1 L870,947.1 L871,947 L872,947 L873,947 L874,947.1 L875,947.1 L876,947.1 L877,947.1 L878,947.2 L879,947.2 L880,947.3 L881,947.3 L882,947.4 L883,947.5 L884,947.5 L885,947.6 L886,947.7 L887,947.8 L888,947.9 L889,948 L890,948.1 L891,948.2 L892,948.3 L893,948.4 L894,948.5 L895,948.6 L896,948.7 L897,948.8 L898,949 L899,949.1 L900,949.2 L901,949.3 L902,949.4 L903,949.6 L904,949.7 L905,949.8 L906,949.9 L907,950.1 L908,950.2 L909,950.3 L910,950.5 L911,950.6 L912,950.7 L913,950.9 L914,951.1 L915,951.2 L916,951.4 L917,951.6 L918,951.8 L919,952 L920,952.2 L921,952.4 L922,952.6 L923,952.8 L924,953 L925,953.2 L926,953.4 L927,953.7 L928,953.9 L929,954.1 L930,954.3 L931,954.6 L932,954.8 L933,955 L934,955.2 L935,955.5 L936,955.7 L937,955.9 L938,956.1 L939,956.3 L940,956.5 L941,956.7 L942,956.9 L943,957.1 L944,957.3 L945,957.5 L946,957.7 L947,957.9 L948,958.1 L949,958.3 L950,958.5 L951,958.7 L952,958.9 L953,959.1 L954,959.3 L955,959.5 L956,959.7 L957,959.9 L958,960.1 L959,960.3 L960,960.5 L961,960.7 L962,960.8 L963,961 L964,961.2 L965,961.4 L966,961.6 L967,961.7 L968,961.9 L969,962.1 L970,962.2 L971,962.4 L972,962.5 L973,962.7 L974,962.8 L975,962.9 L976,963 L977,963.1 L978,963.2 L979,963.3 L980,963.4 L981,963.5 L982,963.6 L983,963.6 L984,963.7 L985,963.8 L986,963.9 L987,963.9 L988,964 L989,964.1 L990,964.1 L991,964.2 L992,964.3 L993,964.3 L994,964.4 L995,964.5 L996,964.5 L997,964.6 L998,964.6 L999,964.6 L1000,964.7 L1001,964.7 L1002,964.8 L1003,964.8 L1004,964.8 L1005,964.8 L1006,964.8 L1007,964.9 L1008,964.8 L1009,964.8 L1010,964.8 L1011,964.8 L1012,964.7 L1013,964.6 L1014,964.5 L1015,964.3 L1016,964.2 L1017,964 L1018,963.8 L1019,963.5 L1020,963.3 L1021,963 L1022,962.7 L1023,962.4 L1024,962.1 L1025,961.8 L1026,961.4 L1027,961 L1028,960.7 L1029,960.3 L1030,959.9 L1031,959.5 L1032,959.1 L1033,958.6 L1034,958.2 L1035,957.8 L1036,957.3 L1037,956.8 L1038,956.4 L1039,955.9 L1040,955.3 L1041,954.8 L1042,954.2 L1043,953.5 L1044,952.8 L1045,952.1 L1046,951.3 L1047,950.5 L1048,949.7 L1049,948.8 L1050,947.9 L1051,947.1 L1052,946.1 L1053,945.2 L1054,944.3 L1055,943.4 L1056,942.5 L1057,941.6 L1058,940.8 L1059,939.9 L1060,939.1 L1061,938.3 L1062,937.4 L1063,936.6 L1064,935.9 L1065,935.1 L1066,934.3 L1067,933.5 L1068,932.7 L1069,931.9 L1070,931 L1071,930.2 L1072,929.3 L1073,928.4 L1074,927.5 L1075,926.5 L1076,925.5 L1077,924.5 L1078,923.5 L1079,922.4 L1080,921.3 L1081,920.2 L1082,919 L1083,917.9 L1084,916.7 L1085,915.5 L1086,914.3 L1087,913 L1088,911.8 L1089,910.5 L1090,909.3 L1091,908 L1092,906.7 L1093,905.5 L1094,904.2 L1095,902.9 L1096,901.6 L1097,900.4 L1098,899.1 L1099,897.8 L1100,896.5 L1101,895.3 L1102,894 L1103,892.7 L1104,891.4 L1105,890.1 L1106,888.8 L1107,887.5 L1108,886.2 L1109,884.9 L1110,883.6 L1111,882.2 L1112,880.9 L1113,879.6 L1114,878.3 L1115,877 L1116,875.7 L1117,874.3 L1118,873 L1119,871.7 L1120,870.5 L1121,869.2 L1122,867.9 L1123,866.6 L1124,865.4 L1125,864.1 L1126,862.9 L1127,861.7 L1128,860.4 L1129,859.2 L1130,858 L1131,856.8 L1132,855.6 L1133,854.5 L1134,853.3 L1135,852.1 L1136,850.9 L1137,849.7 L1138,848.5 L1139,847.4 L1140,846.2 L1141,845 L1142,843.8 L1143,842.6 L1144,841.4 L1145,840.2 L1146,839 L1147,837.7 L1148,836.5 L1149,835.3 L1150,834 L1151,832.8 L1152,831.5 L1153,830.3 L1154,829 L1155,827.7 L1156,826.4 L1157,825.2 L1158,823.9 L1159,822.6 L1160,821.3 L1161,820 L1162,818.7 L1163,817.4 L1164,816.1 L1165,814.8 L1166,813.4 L1167,812.1 L1168,810.8 L1169,809.5 L1170,808.1 L1171,806.8 L1172,805.5 L1173,804.1 L1174,802.8 L1175,801.4 L1176,800 L1177,798.7 L1178,797.3 L1179,795.9 L1180,794.5 L1181,793.1 L1182,791.7 L1183,790.3 L1184,788.9 L1185,787.5 L1186,786.1 L1187,784.7 L1188,783.3 L1189,781.9 L1190,780.5 L1191,779 L1192,777.6 L1193,776.2 L1194,774.8 L1195,773.4 L1196,772 L1197,770.6 L1198,769.2 L1199,767.7 L1200,766.3 L1201,764.9 L1202,763.5 L1203,762 L1204,760.6 L1205,759.1 L1206,757.7 L1207,756.3 L1208,754.8 L1209,753.4 L1210,751.9 L1211,750.5 L1212,749.1 L1213,747.6 L1214,746.2 L1215,744.8 L1216,743.5 L1217,742.1 L1218,740.7 L1219,739.4 L1220,738.1 L1221,736.8 L1222,735.5 L1223,734.2 L1224,732.9 L1225,731.7 L1226,730.4 L1227,729.1 L1228,727.9 L1229,726.6 L1230,725.4 L1231,724.2 L1232,723 L1233,721.8 L1234,720.6 L1235,719.5 L1236,718.4 L1237,717.4 L1238,716.4 L1239,715.4 L1240,714.4 L1241,713.5 L1242,712.7 L1243,711.9 L1244,711.1 L1245,710.3 L1246,709.5 L1247,708.8 L1248,708.1 L1249,707.4 L1250,706.7 L1251,706.1 L1252,705.5 L1253,704.9 L1254,704.4 L1255,703.9 L1256,703.4 L1257,703.1 L1258,702.7 L1259,702.4 L1260,702.2 L1261,702 L1262,701.8 L1263,701.7 L1264,701.5 L1265,701.4 L1266,701.3 L1267,701.2 L1268,701.1 L1269,701.1 L1270,701 L1271,700.9 L1272,700.9 L1273,700.9 L1274,700.9 L1275,700.9 L1276,701 L1277,701.1 L1278,701.2 L1279,701.3 L1280,701.5 L1281,701.7 L1282,702 L1283,702.3 L1284,702.6 L1285,702.9 L1286,703.2 L1287,703.6 L1288,704 L1289,704.4 L1290,704.8 L1291,705.3 L1292,705.8 L1293,706.3 L1294,706.9 L1295,707.5 L1296,708.2 L1297,708.9 L1298,709.7 L1299,710.5 L1300,711.4 L1301,712.3 L1302,713.3 L1303,714.4 L1304,715.4 L1305,716.5 L1306,717.7 L1307,718.9 L1308,720.1 L1309,721.4 L1310,722.7 L1311,724.1 L1312,725.6 L1313,727.2 L1314,728.8 L1315,730.6 L1316,732.4 L1317,734.2 L1318,736.2 L1319,738.2 L1320,740.3 L1321,742.4 L1322,744.6 L1323,746.9 L1324,749.3 L1325,751.8 L1326,754.3 L1327,757 L1328,759.7 L1329,762.6 L1330,765.5 L1331,768.6 L1332,771.8 L1333,775.1 L1334,778.5 L1335,782.1 L1336,785.8 L1337,789.7 L1338,793.8 L1339,798 L1340,802.3 L1341,806.8 L1342,811.3 L1343,816 L1344,820.8 L1345,825.6 L1346,830.6 L1347,835.6 L1348,840.7 L1349,845.9 L1350,851.2 L1351,856.4 L1352,861.7 L1353,866.9 L1354,872 L1355,877 L1356,882 L1357,886.8 L1358,891.5 L1359,896 L1360,900.5 L1361,904.8 L1362,909 L1363,913 L1364,916.9 L1365,920.7 L1366,924.3 L1367,927.7 L1368,931 L1369,934 L1370,936.9 L1371,939.6 L1372,942.1 L1373,944.5 L1374,946.6 L1375,948.6 L1376,950.4 L1377,952.1 L1378,953.5 L1379,954.9 L1380,956.2 L1381,957.3 L1382,958.4 L1383,959.4 L1384,960.4 L1385,961.4 L1386,962.3 L1387,963.2 L1388,964.1 L1389,965 L1390,965.9 L1391,966.7 L1392,967.6 L1393,968.4 L1394,969.2 L1395,969.9 L1396,970.7 L1397,971.5 L1398,972.2 L1399,972.9 L1400,973.7 L1401,974.4 L1402,975.1 L1403,975.8 L1404,976.5 L1405,977.2 L1406,977.9 L1407,978.5 L1408,979.2 L1409,979.9 L1410,980.5 L1411,981.1 L1412,981.8 L1413,982.4 L1414,983 L1415,983.6 L1416,984.2 L1417,984.7 L1418,985.3 L1419,985.8 L1420,986.3 L1421,986.8 L1422,987.3 L1423,987.8 L1424,988.3 L1425,988.7 L1426,989.2 L1427,989.6 L1428,990.1 L1429,990.5 L1430,990.9 L1431,991.3 L1432,991.7 L1433,992.1 L1434,992.5 L1435,992.9 L1436,993.3 L1437,993.7 L1438,994 L1439,994.4 L1440,994.8 L1441,995.1 L1442,995.5 L1443,995.8 L1444,996.1 L1445,996.5 L1446,996.8 L1447,997.1 L1448,997.4 L1449,997.7 L1450,998 L1451,998.3 L1452,998.6 L1453,998.9 L1454,999.2 L1455,999.5 L1456,999.8 L1457,1000.1 L1458,1000.3 L1459,1000.6 L1460,1000.9 L1461,1001.1 L1462,1001.4 L1463,1001.6 L1464,1001.9 L1465,1002.1 L1466,1002.4 L1467,1002.6 L1468,1002.8 L1469,1003 L1470,1003.2 L1471,1003.5 L1472,1003.7 L1473,1003.9 L1474,1004.1 L1475,1004.3 L1476,1004.5 L1477,1004.7 L1478,1004.8 L1479,1005 L1480,1005.2 L1481,1005.4 L1482,1005.6 L1483,1005.7 L1484,1005.9 L1485,1006.1 L1486,1006.2 L1487,1006.4 L1488,1006.6 L1489,1006.7 L1490,1006.8 L1491,1007 L1492,1007.1 L1493,1007.3 L1494,1007.4 L1495,1007.5 L1496,1007.6 L1497,1007.7 L1498,1007.9 L1499,1008 L1500,1008.1 L1501,1008.2 L1502,1008.3 L1503,1008.4 L1504,1008.5 L1505,1008.6 L1506,1008.7 L1507,1008.8 L1508,1008.9 L1509,1009 L1510,1009.1 L1511,1009.2 L1512,1009.3 L1513,1009.4 L1514,1009.5 L1515,1009.6 L1516,1009.7 L1517,1009.7 L1518,1009.8 L1519,1009.9 L1520,1010 L1521,1010.1 L1522,1010.2 L1523,1010.2 L1524,1010.3 L1525,1010.4 L1526,1010.5 L1527,1010.6 L1528,1010.6 L1529,1010.7 L1530,1010.8 L1531,1010.9 L1532,1010.9 L1533,1011 L1534,1011.1 L1535,1011.1 L1536,1011.2 L1537,1011.3 L1538,1011.3 L1539,1011.4 L1540,1011.4 L1541,1011.5 L1542,1011.6 L1543,1011.6 L1544,1011.7 L1545,1011.7 L1546,1011.8 L1547,1011.9 L1548,1011.9 L1549,1012 L1550,1012 L1551,1012.1 L1552,1012.1 L1553,1012.2 L1554,1012.3 L1555,1012.3 L1556,1012.4 L1557,1012.4 L1558,1012.5 L1559,1012.5 L1560,1012.6 L1561,1012.6 L1562,1012.7 L1563,1012.8 L1564,1012.8 L1565,1012.9 L1566,1012.9 L1567,1013 L1568,1013 L1569,1013.1 L1570,1013.1 L1571,1013.2 L1572,1013.2 L1573,1013.3 L1574,1013.3 L1575,1013.4 L1576,1013.4 L1577,1013.5 L1578,1013.5 L1579,1013.6 L1580,1013.6 L1581,1013.7 L1582,1013.7 L1583,1013.8 L1584,1013.8 L1585,1013.9 L1586,1013.9 L1587,1014 L1588,1014 L1589,1014.1 L1590,1014.1 L1591,1014.2 L1592,1014.2 L1593,1014.3 L1594,1014.3 L1595,1014.4 L1596,1014.4 L1597,1014.4 L1598,1014.5 L1599,1014.5 L1600,1014.6 L1601,1014.6 L1602,1014.7 L1603,1014.7 L1604,1014.7 L1605,1014.8 L1606,1014.8 L1607,1014.9 L1608,1014.9 L1609,1014.9 L1610,1015 L1611,1015 L1612,1015 L1613,1015.1 L1614,1015.1 L1615,1015.2 L1616,1015.2 L1617,1015.2 L1618,1015.3 L1619,1015.3 L1620,1015.3 L1621,1015.4 L1622,1015.4 L1623,1015.4 L1624,1015.4 L1625,1015.5 L1626,1015.5 L1627,1015.5 L1628,1015.6 L1629,1015.6 L1630,1015.6 L1631,1015.6 L1632,1015.7 L1633,1015.7 L1634,1015.7 L1635,1015.7 L1636,1015.8 L1637,1015.8 L1638,1015.8 L1639,1015.8 L1640,1015.8 L1641,1015.9 L1642,1015.9 L1643,1015.9 L1644,1015.9 L1645,1015.9 L1646,1015.9 L1647,1016 L1648,1016 L1649,1016 L1650,1016 L1651,1016 L1652,1016 L1653,1016 L1654,1016 L1655,1016.1 L1656,1016.1 L1657,1016.1 L1658,1016.1 L1659,1016.1 L1660,1016.1 L1661,1016.1 L1662,1016.1 L1663,1016.2 L1664,1016.2 L1665,1016.2 L1666,1016.2 L1667,1016.2 L1668,1016.2 L1669,1016.2 L1670,1016.2 L1671,1016.2 L1672,1016.2 L1673,1016.3 L1674,1016.3 L1675,1016.3 L1676,1016.3 L1677,1016.3 L1678,1016.3 L1679,1016.3 L1680,1016.3 L1681,1016.3 L1682,1016.4 L1683,1016.4 L1684,1016.4 L1685,1016.4 L1686,1016.4 L1687,1016.4 L1688,1016.4 L1689,1016.4 L1690,1016.4 L1691,1016.4 L1692,1016.5 L1693,1016.5 L1694,1016.5 L1695,1016.5 L1696,1016.5 L1697,1016.5 L1698,1016.5 L1699,1016.5 L1700,1016.5 L1701,1016.5 L1702,1016.5 L1703,1016.6 L1704,1016.6 L1705,1016.6 L1706,1016.6 L1707,1016.6 L1708,1016.6 L1709,1016.6 L1710,1016.6 L1711,1016.6 L1712,1016.6 L1713,1016.6 L1714,1016.6 L1715,1016.6 L1716,1016.7 L1717,1016.7 L1718,1016.7 L1719,1016.7 L1720,1016.7 L1721,1016.7 L1722,1016.7 L1723,1016.7 L1724,1016.7 L1725,1016.7 L1726,1016.7 L1727,1016.7 L1728,1016.7 L1729,1016.8 L1730,1016.8 L1731,1016.8 L1732,1016.8 L1733,1016.8 L1734,1016.8 L1735,1016.8 L1736,1016.8 L1737,1016.8 L1738,1016.8 L1739,1016.8 L1740,1016.8 L1741,1016.8 L1742,1016.8 L1743,1016.8 L1744,1016.8 L1745,1016.8 L1746,1016.9 L1747,1016.9 L1748,1016.9 L1749,1016.9 L1750,1016.9 L1751,1016.9 L1752,1016.9 L1753,1016.9 L1754,1016.9 L1755,1016.9 L1756,1016.9 L1757,1016.9 L1758,1016.9 L1759,1016.9 L1760,1016.9 L1761,1016.9 L1762,1016.9 L1763,1016.9 L1764,1016.9 L1765,1016.9 L1766,1016.9 L1767,1016.9 L1768,1016.9 L1769,1016.9 L1770,1017 L1771,1017 L1772,1017 L1773,1017 L1774,1017 L1775,1017 L1776,1017 L1777,1017 L1778,1017 L1779,1017 L1780,1017 L1781,1017 L1782,1017 L1783,1017 L1784,1017 L1785,1017 L1786,1017 L1787,1017 L1788,1017 L1789,1017 L1790,1017 L1791,1017 L1792,1017 L1793,1017 L1794,1017 L1795,1017 L1796,1017 L1797,1017 L1798,1017 L1799,1017 L1800,1017 L1801,1017 L1802,1017 L1803,1017 L1804,1017 L1805,1017 L1806,1017 L1807,1017 L1808,1017 L1809,1017 L1810,1017 L1811,1017 L1812,1017 L1813,1017 L1814,1017 L1815,1017 L1816,1017 L1817,1017 L1818,1017 L1819,1017 L1820,1017 L1821,1017 L1822,1017 L1823,1017 L1824,1017 L1825,1017 L1826,1017 L1827,1017 L1828,1017 L1829,1017 L1830,1017 L1831,1017 L1832,1017 L1833,1017 L1834,1017 L1835,1017 L1836,1017 L1837,1017 L1838,1017 L1839,1017 L1840,1017 L1841,1017 L1842,1017 L1843,1017 L1844,1017 L1845,1017 L1846,1017 L1847,1017 L1848,1017 L1849,1017 L1850,1017 L1851,1017 L1852,1017 L1853,1017 L1854,1017 L1855,1017 L1856,1017 L1857,1017 L1858,1017 L1859,1017 L1860,1017 L1861,1017 L1862,1017 L1863,1017 L1864,1017 L1865,1017 L1866,1017 L1867,1017 L1868,1017 L1869,1017 L1870,1017 L1871,1017 L1872,1017 L1873,1017 L1874,1017 L1875,1017 L1876,1017 L1877,1017 L1878,1017 L1879,1017 L1880,1017 L1881,1017 L1882,1017 L1883,1017 L1884,1017 L1885,1017 L1886,1017 L1887,1017 L1888,1017 L1889,1017 L1890,1017 L1891,1017 L1892,1017 L1893,1017 L1894,1017 L1895,1017 L1896,1017 L1897,1017 L1898,1017 L1899,1017 L1900,1017 L1901,1017 L1902,1017 L1903,1017 L1904,1017 L1905,1017 L1906,1017 L1907,1017 L1908,1017 L1909,1017 L1910,1017 L1911,1017 L1912,1017 L1913,1017 L1914,1017 L1915,1017 L1916,1017 L1917,1017 L1918,1017 L1919,1017 L1920,1017 L1921,1017 L1922,1017 L1923,1017 L1924,1017 L1925,1017 L1926,1017 L1927,1017 L1928,1017 L1929,1017 L1930,1017 L1931,1017 L1932,1017 L1933,1017 L1934,1017 L1935,1017 L1936,1017 L1937,1017 L1938,1017 L1939,1017 L1940,1017 L1941,1017 L1942,1017 L1943,1017 L1944,1017 L1945,1017 L1946,1017 L1947,1017 L1948,1017 L1949,1017 L1950,1017 L1951,1017 L1952,1017 L1953,1017 L1954,1017 L1955,1017 L1956,1017 L1957,1017 L1958,1017 L1959,1017 L1960,1017 L1961,1017 L1962,1017 L1963,1017 L1964,1017 L1965,1017 L1966,1017 L1967,1017 L1968,1017 L1969,1017 L1970,1017 L1971,1017 L1972,1017 L1973,1017 L1974,1017 L1975,1017 L1976,1017 L1977,1017 L1978,1017 L1979,1017 L1980,1017 L1981,1017 L1982,1017 L1983,1017 L1984,1017 L1985,1017 L1986,1017 L1987,1017 L1988,1017 L1989,1017 L1990,1017 L1991,1017 L1992,1017 L1993,1017 L1994,1017 L1995,1017 L1996,1017 L1997,1017 L1998,1017 L1999,1017 L2000,1017 L2001,1017 L2002,1017 L2003,1017 L2004,1017 L2005,1017 L2006,1017 L2007,1017 L2008,1017 L2009,1017 L2010,1017 L2011,1017 L2012,1017 L2013,1017 L2014,1017 L2015,1017 L2016,1017 L2017,1017 L2018,1017 L2019,1017 L2020,1017 L2021,1017 L2022,1017 L2023,1017 L2024,1017 L2025,1017 L2026,1017 L2027,1017 L2028,1017 L2029,1017 L2030,1017 L2031,1017 L2032,1017 L2033,1017 L2034,1017 L2035,1017 L2036,1017 L2037,1017 L2038,1017 L2039,1017 L2040,1017 L2041,1017 L2042,1017 L2043,1017 L2044,1017 L2045,1017 L2046,1017 L2047,1017 L2048,1017 L2049,1017 L2050,1017 L2051,1017 L2052,1017 L2053,1017 L2054,1017 L2055,1017 L2056,1017 L2057,1017 L2058,1017 L2059,1017 L2060,1017 L2061,1017 L2062,1017 L2063,1017 L2064,1017 L2065,1017 L2066,1017 L2067,1017 L2068,1017 L2069,1017 L2070,1017 L2071,1017 L2072,1017 L2073,1017 L2074,1017 L2075,1017 L2076,1017 L2077,1017 L2078,1017 L2079,1017 L2080,1017 L2081,1017 L2082,1017 L2083,1017 L2084,1017 L2085,1017 L2086,1017 L2087,1017 L2088,1017 L2089,1017 L2090,1017 L2091,1017 L2092,1017 L2093,1017 L2094,1017 L2095,1017 L2096,1017 L2097,1017 L2098,1017 L2099,1017 L2100,1017 L2101,1017 L2102,1017 L2103,1017 L2104,1017 L2105,1017 L2106,1017 L2107,1017 L2108,1017 L2109,1017 L2110,1017 L2111,1017 L2112,1017 L2113,1017 L2114,1017 L2115,1017 L2116,1017 L2117,1017 L2118,1017 L2119,1017 L2120,1017 L2121,1017 L2122,1017 L2123,1017 L2124,1017 L2125,1017 L2126,1017 L2127,1017 L2128,1017 L2129,1017 L2130,1017 L2131,1017 L2132,1017 L2133,1017 L2134,1017 L2135,1017 L2136,1017 L2137,1017 L2138,1017 L2139,1017 L2140,1017 L2141,1017 L2142,1017 L2143,1017 L2144,1017 L2145,1017 L2146,1017 L2147,1017 L2148,1017 L2149,1017 L2150,1017 L2151,1017 L2152,1017 L2153,1017 L2154,1017 L2155,1017 L2156,1017 L2157,1017 L2158,1017 L2159,1017 L2160,1017 L2161,1017 L2162,1017 L2163,1017 L2164,1017 L2165,1017 L2166,1017 L2167,1017 L2168,1017 L2169,1017 L2170,1017 L2171,1017 L2172,1017 L2173,1017 L2174,1017 L2175,1017 L2176,1017 L2177,1017 L2178,1017 L2179,1017 L2180,1017 L2181,1017 L2182,1017 L2183,1017 L2184,1017 L2185,1017 L2186,1017 L2187,1017 L2188,1017 L2189,1017 L2190,1017 L2191,1017 L2192,1017 L2193,1017 L2194,1017 L2195,1017 L2196,1017 L2197,1017 L2198,1017 L2199,1017 L2200,1017 L2201,1017 L2202,1017 L2203,1017 L2204,1017 L2205,1017 L2206,1017 L2207,1017 L2208,1017 L2209,1017 L2210,1017 L2211,1017 L2212,1017 L2213,1017 L2214,1017 L2215,1017 L2216,1017 L2217,1017 L2218,1017 L2219,1017 L2220,1017 L2221,1017 L2222,1017 L2223,1017 L2224,1017 L2225,1017 L2226,1017 L2227,1017 L2228,1017 L2229,1017 L2230,1017 L2231,1017 L2232,1017 L2233,1017 L2234,1017 L2235,1017 L2236,1017 L2237,1017 L2238,1017 L2239,1017 L2240,1017 L2241,1017 L2242,1017 L2243,1017 L2244,1017 L2245,1017 L2246,1017 L2247,1017 L2248,1017 L2249,1017 L2250,1017 L2251,1017 L2252,1017 L2253,1017 L2254,1017 L2255,1017 L2256,1017 L2257,1017 L2258,1017 L2259,1017 L2260,1017 L2261,1017 L2262,1017 L2263,1017 L2264,1017 L2265,1017 L2266,1017 L2267,1017 L2268,1017 L2269,1017 L2270,1017 L2271,1017 L2272,1017 L2273,1017 L2274,1017 L2275,1017 L2276,1017 L2277,1017 L2278,1017 L2279,1017 L2280,1017 L2281,1017 L2282,1017 L2283,1017 L2284,1017 L2285,1017 L2286,1017 L2287,1017 L2288,1017 L2289,1017 L2290,1017 L2291,1017 L2292,1017 L2293,1017 L2294,1017 L2295,1017 L2296,1017 L2297,1017 L2298,1017 L2299,1017 L2300,1017 L2301,1017 L2302,1017 L2303,1017 L2304,1017 L2305,1017 L2306,1017 L2307,1017 L2308,1017 L2309,1017 L2310,1017 L2311,1017" fill="none" stroke="#FF00FF" stroke-width="10" stroke-linejoin="round"/>
<path d="M520,1016.5 L521,1016.5 L522,1016.5 L523,1016.5 L524,1016.5 L525,1016.5 L526,1016.5 L527,1016.5 L528,1016.5 L529,1016.5 L530,1016.5 L531,1016.4 L532,1016.4 L533,1016.4 L534,1016.4 L535,1016.4 L536,1016.4 L537,1016.4 L538,1016.4 L539,1016.4 L540,1016.3 L541,1016.3 L542,1016.3 L543,1016.3 L544,1016.3 L545,1016.3 L546,1016.2 L547,1016.2 L548,1016.2 L549,1016.2 L550,1016.2 L551,1016.1 L552,1016.1 L553,1016.1 L554,1016.1 L555,1016 L556,1016 L557,1016 L558,1016 L559,1015.9 L560,1015.9 L561,1015.9 L562,1015.9 L563,1015.8 L564,1015.8 L565,1015.8 L566,1015.7 L567,1015.7 L568,1015.7 L569,1015.6 L570,1015.6 L571,1015.6 L572,1015.5 L573,1015.5 L574,1015.5 L575,1015.4 L576,1015.4 L577,1015.3 L578,1015.2 L579,1015.2 L580,1015.1 L581,1015 L582,1014.9 L583,1014.8 L584,1014.7 L585,1014.6 L586,1014.5 L587,1014.4 L588,1014.3 L589,1014.1 L590,1014 L591,1013.9 L592,1013.7 L593,1013.6 L594,1013.4 L595,1013.3 L596,1013.1 L597,1012.9 L598,1012.8 L599,1012.6 L600,1012.5 L601,1012.3 L602,1012.1 L603,1012 L604,1011.8 L605,1011.6 L606,1011.5 L607,1011.3 L608,1011.1 L609,1011 L610,1010.8 L611,1010.6 L612,1010.5 L613,1010.3 L614,1010.2 L615,1010 L616,1009.8 L617,1009.7 L618,1009.5 L619,1009.3 L620,1009.1 L621,1009 L622,1008.8 L623,1008.6 L624,1008.4 L625,1008.3 L626,1008.1 L627,1007.9 L628,1007.7 L629,1007.5 L630,1007.3 L631,1007.1 L632,1006.9 L633,1006.7 L634,1006.6 L635,1006.4 L636,1006.2 L637,1006 L638,1005.8 L639,1005.6 L640,1005.4 L641,1005.2 L642,1005 L643,1004.8 L644,1004.6 L645,1004.4 L646,1004.2 L647,1004 L648,1003.8 L649,1003.6 L650,1003.4 L651,1003.2 L652,1003 L653,1002.8 L654,1002.6 L655,1002.4 L656,1002.2 L657,1002 L658,1001.8 L659,1001.6 L660,1001.4 L661,1001.2 L662,1001 L663,1000.7 L664,1000.5 L665,1000.3 L666,1000.1 L667,999.9 L668,999.7 L669,999.5 L670,999.3 L671,999.1 L672,998.9 L673,998.7 L674,998.4 L675,998.2 L676,998 L677,997.8 L678,997.6 L679,997.4 L680,997.1 L681,996.9 L682,996.7 L683,996.5 L684,996.2 L685,996 L686,995.8 L687,995.5 L688,995.3 L689,995 L690,994.8 L691,994.6 L692,994.3 L693,994.1 L694,993.8 L695,993.6 L696,993.3 L697,993 L698,992.8 L699,992.5 L700,992.2 L701,992 L702,991.7 L703,991.4 L704,991.1 L705,990.8 L706,990.5 L707,990.2 L708,989.9 L709,989.6 L710,989.3 L711,989 L712,988.7 L713,988.4 L714,988 L715,987.7 L716,987.4 L717,987.1 L718,986.7 L719,986.4 L720,986 L721,985.7 L722,985.4 L723,985 L724,984.7 L725,984.3 L726,984 L727,983.6 L728,983.3 L729,982.9 L730,982.6 L731,982.2 L732,981.9 L733,981.5 L734,981.2 L735,980.8 L736,980.5 L737,980.1 L738,979.8 L739,979.4 L740,979.1 L741,978.7 L742,978.4 L743,978 L744,977.7 L745,977.3 L746,977 L747,976.7 L748,976.3 L749,976 L750,975.6 L751,975.3 L752,974.9 L753,974.5 L754,974.2 L755,973.8 L756,973.5 L757,973.1 L758,972.7 L759,972.3 L760,972 L761,971.6 L762,971.2 L763,970.8 L764,970.5 L765,970.1 L766,969.7 L767,969.3 L768,969 L769,968.6 L770,968.2 L771,967.8 L772,967.5 L773,967.1 L774,966.7 L775,966.3 L776,966 L777,965.6 L778,965.3 L779,964.9 L780,964.5 L781,964.2 L782,963.8 L783,963.5 L784,963.2 L785,962.8 L786,962.5 L787,962.2 L788,961.8 L789,961.5 L790,961.2 L791,960.9 L792,960.6 L793,960.3 L794,960 L795,959.7 L796,959.5 L797,959.2 L798,958.9 L799,958.6 L800,958.4 L801,958.1 L802,957.9 L803,957.6 L804,957.3 L805,957.1 L806,956.8 L807,956.6 L808,956.3 L809,956.1 L810,955.8 L811,955.6 L812,955.3 L813,955.1 L814,954.9 L815,954.6 L816,954.4 L817,954.2 L818,954 L819,953.8 L820,953.6 L821,953.3 L822,953.2 L823,953 L824,952.8 L825,952.6 L826,952.4 L827,952.3 L828,952.1 L829,951.9 L830,951.8 L831,951.7 L832,951.5 L833,951.4 L834,951.3 L835,951.1 L836,951 L837,950.9 L838,950.8 L839,950.7 L840,950.6 L841,950.5 L842,950.4 L843,950.3 L844,950.2 L845,950.1 L846,950 L847,949.9 L848,949.8 L849,949.7 L850,949.6 L851,949.5 L852,949.4 L853,949.3 L854,949.3 L855,949.2 L856,949.1 L857,949 L858,949 L859,948.9 L860,948.9 L861,948.8 L862,948.8 L863,948.7 L864,948.7 L865,948.6 L866,948.6 L867,948.6 L868,948.6 L869,948.5 L870,948.5 L871,948.5 L872,948.5 L873,948.6 L874,948.6 L875,948.6 L876,948.7 L877,948.7 L878,948.8 L879,948.8 L880,948.9 L881,949 L882,949 L883,949.1 L884,949.2 L885,949.3 L886,949.4 L887,949.6 L888,949.7 L889,949.8 L890,949.9 L891,950.1 L892,950.2 L893,950.3 L894,950.5 L895,950.6 L896,950.8 L897,950.9 L898,951.1 L899,951.2 L900,951.4 L901,951.5 L902,951.7 L903,951.8 L904,952 L905,952.2 L906,952.3 L907,952.5 L908,952.6 L909,952.8 L910,953 L911,953.1 L912,953.3 L913,953.5 L914,953.7 L915,953.9 L916,954.1 L917,954.3 L918,954.5 L919,954.7 L920,954.9 L921,955.1 L922,955.4 L923,955.6 L924,955.8 L925,956.1 L926,956.3 L927,956.5 L928,956.8 L929,957 L930,957.3 L931,957.5 L932,957.8 L933,958.1 L934,958.3 L935,958.6 L936,958.8 L937,959.1 L938,959.4 L939,959.6 L940,959.9 L941,960.2 L942,960.4 L943,960.7 L944,961 L945,961.2 L946,961.5 L947,961.8 L948,962 L949,962.3 L950,962.6 L951,962.8 L952,963.1 L953,963.4 L954,963.7 L955,964 L956,964.2 L957,964.5 L958,964.8 L959,965.1 L960,965.4 L961,965.7 L962,966 L963,966.3 L964,966.6 L965,966.9 L966,967.2 L967,967.5 L968,967.8 L969,968.1 L970,968.4 L971,968.8 L972,969.1 L973,969.4 L974,969.7 L975,970 L976,970.3 L977,970.7 L978,971 L979,971.3 L980,971.6 L981,972 L982,972.3 L983,972.7 L984,973 L985,973.3 L986,973.7 L987,974 L988,974.4 L989,974.8 L990,975.1 L991,975.5 L992,975.9 L993,976.3 L994,976.7 L995,977.1 L996,977.4 L997,977.8 L998,978.2 L999,978.6 L1000,979 L1001,979.4 L1002,979.8 L1003,980.2 L1004,980.6 L1005,981 L1006,981.3 L1007,981.7 L1008,982.1 L1009,982.5 L1010,982.8 L1011,983.2 L1012,983.5 L1013,983.9 L1014,984.2 L1015,984.6 L1016,984.9 L1017,985.2 L1018,985.5 L1019,985.8 L1020,986.1 L1021,986.4 L1022,986.7 L1023,987 L1024,987.2 L1025,987.5 L1026,987.8 L1027,988 L1028,988.3 L1029,988.6 L1030,988.8 L1031,989.1 L1032,989.3 L1033,989.5 L1034,989.8 L1035,990 L1036,990.3 L1037,990.5 L1038,990.7 L1039,991 L1040,991.2 L1041,991.4 L1042,991.6 L1043,991.9 L1044,992.1 L1045,992.3 L1046,992.6 L1047,992.8 L1048,993 L1049,993.2 L1050,993.5 L1051,993.7 L1052,993.9 L1053,994.1 L1054,994.4 L1055,994.6 L1056,994.8 L1057,995.1 L1058,995.3 L1059,995.5 L1060,995.7 L1061,996 L1062,996.2 L1063,996.4 L1064,996.6 L1065,996.8 L1066,997.1 L1067,997.3 L1068,997.5 L1069,997.7 L1070,997.9 L1071,998.2 L1072,998.4 L1073,998.6 L1074,998.8 L1075,999 L1076,999.2 L1077,999.4 L1078,999.6 L1079,999.8 L1080,1000 L1081,1000.2 L1082,1000.4 L1083,1000.6 L1084,1000.8 L1085,1001 L1086,1001.2 L1087,1001.4 L1088,1001.6 L1089,1001.8 L1090,1002 L1091,1002.2 L1092,1002.4 L1093,1002.5 L1094,1002.7 L1095,1002.9 L1096,1003.1 L1097,1003.3 L1098,1003.5 L1099,1003.6 L1100,1003.8 L1101,1004 L1102,1004.2 L1103,1004.4 L1104,1004.5 L1105,1004.7 L1106,1004.9 L1107,1005 L1108,1005.2 L1109,1005.4 L1110,1005.6 L1111,1005.7 L1112,1005.9 L1113,1006 L1114,1006.2 L1115,1006.4 L1116,1006.5 L1117,1006.7 L1118,1006.8 L1119,1007 L1120,1007.1 L1121,1007.3 L1122,1007.4 L1123,1007.6 L1124,1007.7 L1125,1007.8 L1126,1008 L1127,1008.1 L1128,1008.2 L1129,1008.4 L1130,1008.5 L1131,1008.6 L1132,1008.7 L1133,1008.9 L1134,1009 L1135,1009.1 L1136,1009.2 L1137,1009.3 L1138,1009.4 L1139,1009.6 L1140,1009.7 L1141,1009.8 L1142,1009.9 L1143,1010 L1144,1010.1 L1145,1010.2 L1146,1010.3 L1147,1010.4 L1148,1010.6 L1149,1010.7 L1150,1010.8 L1151,1010.9 L1152,1011 L1153,1011.1 L1154,1011.2 L1155,1011.3 L1156,1011.4 L1157,1011.5 L1158,1011.6 L1159,1011.6 L1160,1011.7 L1161,1011.8 L1162,1011.9 L1163,1012 L1164,1012.1 L1165,1012.2 L1166,1012.3 L1167,1012.3 L1168,1012.4 L1169,1012.5 L1170,1012.6 L1171,1012.7 L1172,1012.7 L1173,1012.8 L1174,1012.9 L1175,1013 L1176,1013 L1177,1013.1 L1178,1013.2 L1179,1013.2 L1180,1013.3 L1181,1013.4 L1182,1013.4 L1183,1013.5 L1184,1013.5 L1185,1013.6 L1186,1013.7 L1187,1013.7 L1188,1013.8 L1189,1013.8 L1190,1013.9 L1191,1014 L1192,1014 L1193,1014.1 L1194,1014.1 L1195,1014.2 L1196,1014.2 L1197,1014.3 L1198,1014.4 L1199,1014.4 L1200,1014.5 L1201,1014.5 L1202,1014.6 L1203,1014.6 L1204,1014.7 L1205,1014.7 L1206,1014.8 L1207,1014.8 L1208,1014.9 L1209,1014.9 L1210,1015 L1211,1015 L1212,1015.1 L1213,1015.1 L1214,1015.1 L1215,1015.2 L1216,1015.2 L1217,1015.3 L1218,1015.3 L1219,1015.4 L1220,1015.4 L1221,1015.4 L1222,1015.5 L1223,1015.5 L1224,1015.5 L1225,1015.6 L1226,1015.6 L1227,1015.6 L1228,1015.7 L1229,1015.7 L1230,1015.7 L1231,1015.8 L1232,1015.8 L1233,1015.8 L1234,1015.9 L1235,1015.9 L1236,1015.9 L1237,1015.9 L1238,1016 L1239,1016 L1240,1016 L1241,1016 L1242,1016 L1243,1016.1 L1244,1016.1 L1245,1016.1 L1246,1016.1 L1247,1016.1 L1248,1016.1 L1249,1016.2 L1250,1016.2 L1251,1016.2 L1252,1016.2 L1253,1016.2 L1254,1016.2 L1255,1016.3 L1256,1016.3 L1257,1016.3 L1258,1016.3 L1259,1016.3 L1260,1016.3 L1261,1016.3 L1262,1016.3 L1263,1016.4 L1264,1016.4 L1265,1016.4 L1266,1016.4 L1267,1016.4 L1268,1016.4 L1269,1016.4 L1270,1016.4" fill="none" stroke="#DD0000" stroke-width="6.5" stroke-linejoin="round"/>
<path d="M828.9,1016.4 L829.9,1016.4 L830.9,1016.4 L831.9,1016.4 L832.9,1016.4 L833.9,1016.4 L834.9,1016.4 L835.9,1016.4 L836.9,1016.4 L837.9,1016.4 L838.9,1016.4 L839.9,1016.4 L840.9,1016.4 L841.9,1016.4 L842.9,1016.4 L843.9,1016.4 L844.9,1016.4 L845.9,1016.4 L846.9,1016.4 L847.9,1016.4 L848.9,1016.3 L849.9,1016.3 L850.9,1016.3 L851.9,1016.3 L852.9,1016.3 L853.9,1016.3 L854.9,1016.3 L855.9,1016.3 L856.9,1016.3 L857.9,1016.3 L858.9,1016.3 L859.9,1016.3 L860.9,1016.3 L861.9,1016.3 L862.9,1016.3 L863.9,1016.3 L864.9,1016.3 L865.9,1016.3 L866.9,1016.3 L867.9,1016.2 L868.9,1016.2 L869.9,1016.2 L870.9,1016.2 L871.9,1016.2 L872.9,1016.2 L873.9,1016.2 L874.9,1016.2 L875.9,1016.2 L876.9,1016.2 L877.9,1016.2 L878.9,1016.1 L879.9,1016.1 L880.9,1016.1 L881.9,1016.1 L882.9,1016.1 L883.9,1016.1 L884.9,1016.1 L885.9,1016.1 L886.9,1016 L887.9,1016 L888.9,1016 L889.9,1016 L890.9,1016 L891.9,1016 L892.9,1015.9 L893.9,1015.9 L894.9,1015.9 L895.9,1015.9 L896.9,1015.9 L897.9,1015.8 L898.9,1015.8 L899.9,1015.8 L900.9,1015.8 L901.9,1015.7 L902.9,1015.7 L903.9,1015.7 L904.9,1015.7 L905.9,1015.6 L906.9,1015.6 L907.9,1015.6 L908.9,1015.5 L909.9,1015.5 L910.9,1015.5 L911.9,1015.4 L912.9,1015.4 L913.9,1015.4 L914.9,1015.3 L915.9,1015.3 L916.9,1015.2 L917.9,1015.2 L918.9,1015.2 L919.9,1015.1 L920.9,1015.1 L921.9,1015 L922.9,1015 L923.9,1014.9 L924.9,1014.9 L925.9,1014.8 L926.9,1014.8 L927.9,1014.7 L928.9,1014.6 L929.9,1014.6 L930.9,1014.5 L931.9,1014.4 L932.9,1014.4 L933.9,1014.3 L934.9,1014.2 L935.9,1014.2 L936.9,1014.1 L937.9,1014 L938.9,1013.9 L939.9,1013.9 L940.9,1013.8 L941.9,1013.7 L942.9,1013.6 L943.9,1013.5 L944.9,1013.4 L945.9,1013.3 L946.9,1013.2 L947.9,1013.1 L948.9,1013 L949.9,1012.9 L950.9,1012.8 L951.9,1012.7 L952.9,1012.5 L953.9,1012.4 L954.9,1012.3 L955.9,1012.2 L956.9,1012 L957.9,1011.9 L958.9,1011.8 L959.9,1011.6 L960.9,1011.5 L961.9,1011.3 L962.9,1011.2 L963.9,1011 L964.9,1010.9 L965.9,1010.7 L966.9,1010.5 L967.9,1010.3 L968.9,1010.2 L969.9,1010 L970.9,1009.8 L971.9,1009.6 L972.9,1009.4 L973.9,1009.2 L974.9,1009 L975.9,1008.8 L976.9,1008.6 L977.9,1008.3 L978.9,1008.1 L979.9,1007.9 L980.9,1007.6 L981.9,1007.4 L982.9,1007.1 L983.9,1006.9 L984.9,1006.6 L985.9,1006.4 L986.9,1006.1 L987.9,1005.8 L988.9,1005.5 L989.9,1005.2 L990.9,1004.9 L991.9,1004.6 L992.9,1004.3 L993.9,1004 L994.9,1003.6 L995.9,1003.3 L996.9,1003 L997.9,1002.6 L998.9,1002.3 L999.9,1001.9 L1000.9,1001.5 L1001.9,1001.1 L1002.9,1000.8 L1003.9,1000.4 L1004.9,999.9 L1005.9,999.5 L1006.9,999.1 L1007.9,998.7 L1008.9,998.2 L1009.9,997.8 L1010.9,997.3 L1011.9,996.9 L1012.9,996.4 L1013.9,995.9 L1014.9,995.4 L1015.9,994.9 L1016.9,994.4 L1017.9,993.9 L1018.9,993.4 L1019.9,992.8 L1020.9,992.3 L1021.9,991.7 L1022.9,991.2 L1023.9,990.6 L1024.9,990 L1025.9,989.4 L1026.9,988.8 L1027.9,988.2 L1028.9,987.5 L1029.9,986.9 L1030.9,986.2 L1031.9,985.6 L1032.9,984.9 L1033.9,984.2 L1034.9,983.5 L1035.9,982.8 L1036.9,982.1 L1037.9,981.3 L1038.9,980.6 L1039.9,979.9 L1040.9,979.1 L1041.9,978.3 L1042.9,977.5 L1043.9,976.7 L1044.9,975.9 L1045.9,975.1 L1046.9,974.2 L1047.9,973.4 L1048.9,972.5 L1049.9,971.7 L1050.9,970.8 L1051.9,969.9 L1052.9,969 L1053.9,968.1 L1054.9,967.1 L1055.9,966.2 L1056.9,965.2 L1057.9,964.3 L1058.9,963.3 L1059.9,962.3 L1060.9,961.3 L1061.9,960.3 L1062.9,959.2 L1063.9,958.2 L1064.9,957.1 L1065.9,956.1 L1066.9,955 L1067.9,953.9 L1068.9,952.8 L1069.9,951.7 L1070.9,950.6 L1071.9,949.4 L1072.9,948.3 L1073.9,947.1 L1074.9,946 L1075.9,944.8 L1076.9,943.6 L1077.9,942.4 L1078.9,941.1 L1079.9,939.9 L1080.9,938.7 L1081.9,937.4 L1082.9,936.2 L1083.9,934.9 L1084.9,933.6 L1085.9,932.3 L1086.9,931 L1087.9,929.7 L1088.9,928.4 L1089.9,927 L1090.9,925.7 L1091.9,924.3 L1092.9,923 L1093.9,921.6 L1094.9,920.2 L1095.9,918.8 L1096.9,917.4 L1097.9,916 L1098.9,914.6 L1099.9,913.2 L1100.9,911.8 L1101.9,910.3 L1102.9,908.9 L1103.9,907.4 L1104.9,906 L1105.9,904.5 L1106.9,903 L1107.9,901.5 L1108.9,900.1 L1109.9,898.6 L1110.9,897.1 L1111.9,895.6 L1112.9,894.1 L1113.9,892.5 L1114.9,891 L1115.9,889.5 L1116.9,888 L1117.9,886.5 L1118.9,884.9 L1119.9,883.4 L1120.9,881.9 L1121.9,880.3 L1122.9,878.8 L1123.9,877.3 L1124.9,875.7 L1125.9,874.2 L1126.9,872.7 L1127.9,871.1 L1128.9,869.6 L1129.9,868 L1130.9,866.5 L1131.9,865 L1132.9,863.4 L1133.9,861.9 L1134.9,860.4 L1135.9,858.8 L1136.9,857.3 L1137.9,855.8 L1138.9,854.3 L1139.9,852.8 L1140.9,851.3 L1141.9,849.8 L1142.9,848.3 L1143.9,846.8 L1144.9,845.3 L1145.9,843.9 L1146.9,842.4 L1147.9,840.9 L1148.9,839.5 L1149.9,838 L1150.9,836.6 L1151.9,835.2 L1152.9,833.8 L1153.9,832.4 L1154.9,831 L1155.9,829.6 L1156.9,828.2 L1157.9,826.9 L1158.9,825.5 L1159.9,824.2 L1160.9,822.9 L1161.9,821.6 L1162.9,820.3 L1163.9,819 L1164.9,817.8 L1165.9,816.5 L1166.9,815.3 L1167.9,814.1 L1168.9,812.9 L1169.9,811.7 L1170.9,810.5 L1171.9,809.4 L1172.9,808.2 L1173.9,807.1 L1174.9,806 L1175.9,805 L1176.9,803.9 L1177.9,802.9 L1178.9,801.9 L1179.9,800.9 L1180.9,799.9 L1181.9,798.9 L1182.9,798 L1183.9,797.1 L1184.9,796.2 L1185.9,795.3 L1186.9,794.5 L1187.9,793.6 L1188.9,792.8 L1189.9,792.1 L1190.9,791.3 L1191.9,790.6 L1192.9,789.9 L1193.9,789.2 L1194.9,788.5 L1195.9,787.9 L1196.9,787.3 L1197.9,786.7 L1198.9,786.1 L1199.9,785.6 L1200.9,785.1 L1201.9,784.6 L1202.9,784.1 L1203.9,783.7 L1204.9,783.3 L1205.9,782.9 L1206.9,782.6 L1207.9,782.2 L1208.9,781.9 L1209.9,781.7 L1210.9,781.4 L1211.9,781.2 L1212.9,781 L1213.9,780.8 L1214.9,780.7 L1215.9,780.6 L1216.9,780.5 L1217.9,780.4 L1218.9,780.4 L1219.9,780.4 L1220.9,780.4 L1221.9,780.5 L1222.9,780.6 L1223.9,780.7 L1224.9,780.8 L1225.9,781 L1226.9,781.2 L1227.9,781.4 L1228.9,781.7 L1229.9,782 L1230.9,782.3 L1231.9,782.6 L1232.9,783 L1233.9,783.4 L1234.9,783.8 L1235.9,784.3 L1236.9,784.8 L1237.9,785.3 L1238.9,785.8 L1239.9,786.4 L1240.9,787 L1241.9,787.6 L1242.9,788.2 L1243.9,788.9 L1244.9,789.6 L1245.9,790.3 L1246.9,791.1 L1247.9,791.9 L1248.9,792.7 L1249.9,793.5 L1250.9,794.3 L1251.9,795.2 L1252.9,796.1 L1253.9,797 L1254.9,798 L1255.9,798.9 L1256.9,799.9 L1257.9,800.9 L1258.9,802 L1259.9,803 L1260.9,804.1 L1261.9,805.2 L1262.9,806.3 L1263.9,807.4 L1264.9,808.6 L1265.9,809.8 L1266.9,811 L1267.9,812.2 L1268.9,813.4 L1269.9,814.6 L1270.9,815.9 L1271.9,817.2 L1272.9,818.5 L1273.9,819.8 L1274.9,821.1 L1275.9,822.5 L1276.9,823.8 L1277.9,825.2 L1278.9,826.6 L1279.9,828 L1280.9,829.4 L1281.9,830.8 L1282.9,832.3 L1283.9,833.7 L1284.9,835.2 L1285.9,836.6 L1286.9,838.1 L1287.9,839.6 L1288.9,841.1 L1289.9,842.6 L1290.9,844.1 L1291.9,845.6 L1292.9,847.2 L1293.9,848.7 L1294.9,850.2 L1295.9,851.8 L1296.9,853.3 L1297.9,854.9 L1298.9,856.5 L1299.9,858 L1300.9,859.6 L1301.9,861.2 L1302.9,862.8 L1303.9,864.4 L1304.9,865.9 L1305.9,867.5 L1306.9,869.1 L1307.9,870.7 L1308.9,872.3 L1309.9,873.9 L1310.9,875.5 L1311.9,877.1 L1312.9,878.7 L1313.9,880.2 L1314.9,881.8 L1315.9,883.4 L1316.9,885 L1317.9,886.6 L1318.9,888.1 L1319.9,889.7 L1320.9,891.3 L1321.9,892.9 L1322.9,894.4 L1323.9,896 L1324.9,897.5 L1325.9,899.1 L1326.9,900.6 L1327.9,902.1 L1328.9,903.7 L1329.9,905.2 L1330.9,906.7 L1331.9,908.2 L1332.9,909.7 L1333.9,911.2 L1334.9,912.7 L1335.9,914.1 L1336.9,915.6 L1337.9,917.1 L1338.9,918.5 L1339.9,919.9 L1340.9,921.4 L1341.9,922.8 L1342.9,924.2 L1343.9,925.6 L1344.9,927 L1345.9,928.4 L1346.9,929.7 L1347.9,931.1 L1348.9,932.4 L1349.9,933.8 L1350.9,935.1 L1351.9,936.4 L1352.9,937.7 L1353.9,939 L1354.9,940.3 L1355.9,941.5 L1356.9,942.8 L1357.9,944 L1358.9,945.3 L1359.9,946.5 L1360.9,947.7 L1361.9,948.9 L1362.9,950.1 L1363.9,951.2 L1364.9,952.4 L1365.9,953.5 L1366.9,954.7 L1367.9,955.8 L1368.9,956.9 L1369.9,958 L1370.9,959.1 L1371.9,960.1 L1372.9,961.2 L1373.9,962.2 L1374.9,963.2 L1375.9,964.2 L1376.9,965.2 L1377.9,966.2 L1378.9,967.2 L1379.9,968.2 L1380.9,969.1 L1381.9,970.1 L1382.9,971 L1383.9,971.9 L1384.9,972.8 L1385.9,973.7 L1386.9,974.5 L1387.9,975.4 L1388.9,976.2 L1389.9,977.1 L1390.9,977.9 L1391.9,978.7 L1392.9,979.5 L1393.9,980.3 L1394.9,981.1 L1395.9,981.8 L1396.9,982.6 L1397.9,983.3 L1398.9,984 L1399.9,984.7 L1400.9,985.4 L1401.9,986.1 L1402.9,986.8 L1403.9,987.5 L1404.9,988.1 L1405.9,988.7 L1406.9,989.4 L1407.9,990 L1408.9,990.6 L1409.9,991.2 L1410.9,991.8 L1411.9,992.4 L1412.9,992.9 L1413.9,993.5 L1414.9,994 L1415.9,994.6 L1416.9,995.1 L1417.9,995.6 L1418.9,996.1 L1419.9,996.6 L1420.9,997.1 L1421.9,997.6 L1422.9,998 L1423.9,998.5 L1424.9,998.9 L1425.9,999.4 L1426.9,999.8 L1427.9,1000.2 L1428.9,1000.6 L1429.9,1001 L1430.9,1001.4 L1431.9,1001.8 L1432.9,1002.2 L1433.9,1002.6 L1434.9,1002.9 L1435.9,1003.3 L1436.9,1003.6 L1437.9,1004 L1438.9,1004.3 L1439.9,1004.6 L1440.9,1004.9 L1441.9,1005.2 L1442.9,1005.5 L1443.9,1005.8 L1444.9,1006.1 L1445.9,1006.4 L1446.9,1006.7 L1447.9,1007 L1448.9,1007.2 L1449.9,1007.5 L1450.9,1007.7 L1451.9,1008 L1452.9,1008.2 L1453.9,1008.4 L1454.9,1008.7 L1455.9,1008.9 L1456.9,1009.1 L1457.9,1009.3 L1458.9,1009.5 L1459.9,1009.7 L1460.9,1009.9 L1461.9,1010.1 L1462.9,1010.3 L1463.9,1010.5 L1464.9,1010.6 L1465.9,1010.8 L1466.9,1011 L1467.9,1011.1 L1468.9,1011.3 L1469.9,1011.5 L1470.9,1011.6 L1471.9,1011.8 L1472.9,1011.9 L1473.9,1012 L1474.9,1012.2 L1475.9,1012.3 L1476.9,1012.4 L1477.9,1012.5 L1478.9,1012.7 L1479.9,1012.8 L1480.9,1012.9 L1481.9,1013 L1482.9,1013.1 L1483.9,1013.2 L1484.9,1013.3 L1485.9,1013.4 L1486.9,1013.5 L1487.9,1013.6 L1488.9,1013.7 L1489.9,1013.8 L1490.9,1013.9 L1491.9,1014 L1492.9,1014 L1493.9,1014.1 L1494.9,1014.2 L1495.9,1014.3 L1496.9,1014.3 L1497.9,1014.4 L1498.9,1014.5 L1499.9,1014.5 L1500.9,1014.6 L1501.9,1014.7 L1502.9,1014.7 L1503.9,1014.8 L1504.9,1014.8 L1505.9,1014.9 L1506.9,1014.9 L1507.9,1015 L1508.9,1015 L1509.9,1015.1 L1510.9,1015.1 L1511.9,1015.2 L1512.9,1015.2 L1513.9,1015.3 L1514.9,1015.3 L1515.9,1015.3 L1516.9,1015.4 L1517.9,1015.4 L1518.9,1015.4 L1519.9,1015.5 L1520.9,1015.5 L1521.9,1015.5 L1522.9,1015.6 L1523.9,1015.6 L1524.9,1015.6 L1525.9,1015.7 L1526.9,1015.7 L1527.9,1015.7 L1528.9,1015.7 L1529.9,1015.8 L1530.9,1015.8 L1531.9,1015.8 L1532.9,1015.8 L1533.9,1015.8 L1534.9,1015.9 L1535.9,1015.9 L1536.9,1015.9 L1537.9,1015.9 L1538.9,1015.9 L1539.9,1016 L1540.9,1016 L1541.9,1016 L1542.9,1016 L1543.9,1016 L1544.9,1016 L1545.9,1016 L1546.9,1016.1 L1547.9,1016.1 L1548.9,1016.1 L1549.9,1016.1 L1550.9,1016.1 L1551.9,1016.1 L1552.9,1016.1 L1553.9,1016.1 L1554.9,1016.1 L1555.9,1016.2 L1556.9,1016.2 L1557.9,1016.2 L1558.9,1016.2 L1559.9,1016.2 L1560.9,1016.2 L1561.9,1016.2 L1562.9,1016.2 L1563.9,1016.2 L1564.9,1016.2 L1565.9,1016.2 L1566.9,1016.2 L1567.9,1016.2 L1568.9,1016.2 L1569.9,1016.2 L1570.9,1016.3 L1571.9,1016.3 L1572.9,1016.3 L1573.9,1016.3 L1574.9,1016.3 L1575.9,1016.3 L1576.9,1016.3 L1577.9,1016.3 L1578.9,1016.3 L1579.9,1016.3 L1580.9,1016.3 L1581.9,1016.3 L1582.9,1016.3 L1583.9,1016.3 L1584.9,1016.3 L1585.9,1016.3 L1586.9,1016.3 L1587.9,1016.3 L1588.9,1016.3 L1589.9,1016.3 L1590.9,1016.3 L1591.9,1016.3 L1592.9,1016.3 L1593.9,1016.3 L1594.9,1016.3 L1595.9,1016.3 L1596.9,1016.3" fill="none" stroke="#DD0000" stroke-width="6.5" stroke-linejoin="round"/>
<path d="M1124.7,1016.4 L1125.7,1016.4 L1126.7,1016.4 L1127.7,1016.4 L1128.7,1016.4 L1129.7,1016.4 L1130.7,1016.4 L1131.7,1016.4 L1132.7,1016.4 L1133.7,1016.4 L1134.7,1016.3 L1135.7,1016.3 L1136.7,1016.3 L1137.7,1016.3 L1138.7,1016.3 L1139.7,1016.3 L1140.7,1016.3 L1141.7,1016.3 L1142.7,1016.3 L1143.7,1016.3 L1144.7,1016.3 L1145.7,1016.2 L1146.7,1016.2 L1147.7,1016.2 L1148.7,1016.2 L1149.7,1016.2 L1150.7,1016.1 L1151.7,1016.1 L1152.7,1016.1 L1153.7,1016.1 L1154.7,1016 L1155.7,1016 L1156.7,1016 L1157.7,1015.9 L1158.7,1015.9 L1159.7,1015.8 L1160.7,1015.8 L1161.7,1015.8 L1162.7,1015.7 L1163.7,1015.6 L1164.7,1015.6 L1165.7,1015.5 L1166.7,1015.4 L1167.7,1015.4 L1168.7,1015.3 L1169.7,1015.2 L1170.7,1015.1 L1171.7,1015 L1172.7,1014.9 L1173.7,1014.8 L1174.7,1014.6 L1175.7,1014.5 L1176.7,1014.4 L1177.7,1014.2 L1178.7,1014.1 L1179.7,1013.9 L1180.7,1013.7 L1181.7,1013.5 L1182.7,1013.3 L1183.7,1013.1 L1184.7,1012.9 L1185.7,1012.6 L1186.7,1012.4 L1187.7,1012.1 L1188.7,1011.8 L1189.7,1011.5 L1190.7,1011.2 L1191.7,1010.8 L1192.7,1010.5 L1193.7,1010.1 L1194.7,1009.7 L1195.7,1009.3 L1196.7,1008.8 L1197.7,1008.4 L1198.7,1007.9 L1199.7,1007.4 L1200.7,1006.8 L1201.7,1006.3 L1202.7,1005.7 L1203.7,1005.1 L1204.7,1004.4 L1205.7,1003.8 L1206.7,1003.1 L1207.7,1002.3 L1208.7,1001.6 L1209.7,1000.8 L1210.7,999.9 L1211.7,999.1 L1212.7,998.2 L1213.7,997.3 L1214.7,996.3 L1215.7,995.3 L1216.7,994.3 L1217.7,993.2 L1218.7,992.1 L1219.7,990.9 L1220.7,989.7 L1221.7,988.5 L1222.7,987.2 L1223.7,985.9 L1224.7,984.6 L1225.7,983.2 L1226.7,981.8 L1227.7,980.3 L1228.7,978.8 L1229.7,977.2 L1230.7,975.7 L1231.7,974 L1232.7,972.4 L1233.7,970.7 L1234.7,968.9 L1235.7,967.2 L1236.7,965.4 L1237.7,963.5 L1238.7,961.6 L1239.7,959.7 L1240.7,957.8 L1241.7,955.8 L1242.7,953.8 L1243.7,951.8 L1244.7,949.7 L1245.7,947.6 L1246.7,945.5 L1247.7,943.4 L1248.7,941.2 L1249.7,939.1 L1250.7,936.9 L1251.7,934.7 L1252.7,932.5 L1253.7,930.3 L1254.7,928.1 L1255.7,925.9 L1256.7,923.6 L1257.7,921.4 L1258.7,919.2 L1259.7,917 L1260.7,914.8 L1261.7,912.6 L1262.7,910.5 L1263.7,908.3 L1264.7,906.2 L1265.7,904.1 L1266.7,902 L1267.7,900 L1268.7,898 L1269.7,896 L1270.7,894.1 L1271.7,892.2 L1272.7,890.4 L1273.7,888.6 L1274.7,886.8 L1275.7,885.2 L1276.7,883.5 L1277.7,882 L1278.7,880.5 L1279.7,879 L1280.7,877.7 L1281.7,876.4 L1282.7,875.1 L1283.7,874 L1284.7,872.9 L1285.7,871.9 L1286.7,871 L1287.7,870.1 L1288.7,869.4 L1289.7,868.7 L1290.7,868.1 L1291.7,867.6 L1292.7,867.2 L1293.7,866.8 L1294.7,866.6 L1295.7,866.5 L1296.7,866.4 L1297.7,866.4 L1298.7,866.5 L1299.7,866.7 L1300.7,867 L1301.7,867.3 L1302.7,867.8 L1303.7,868.3 L1304.7,868.8 L1305.7,869.5 L1306.7,870.2 L1307.7,871 L1308.7,871.9 L1309.7,872.9 L1310.7,873.9 L1311.7,875 L1312.7,876.2 L1313.7,877.4 L1314.7,878.7 L1315.7,880.1 L1316.7,881.5 L1317.7,883 L1318.7,884.5 L1319.7,886.1 L1320.7,887.7 L1321.7,889.4 L1322.7,891.1 L1323.7,892.9 L1324.7,894.7 L1325.7,896.5 L1326.7,898.4 L1327.7,900.3 L1328.7,902.3 L1329.7,904.3 L1330.7,906.3 L1331.7,908.3 L1332.7,910.3 L1333.7,912.4 L1334.7,914.5 L1335.7,916.6 L1336.7,918.7 L1337.7,920.8 L1338.7,922.9 L1339.7,925 L1340.7,927.1 L1341.7,929.2 L1342.7,931.3 L1343.7,933.4 L1344.7,935.5 L1345.7,937.6 L1346.7,939.7 L1347.7,941.7 L1348.7,943.8 L1349.7,945.8 L1350.7,947.8 L1351.7,949.8 L1352.7,951.8 L1353.7,953.7 L1354.7,955.6 L1355.7,957.5 L1356.7,959.4 L1357.7,961.2 L1358.7,963 L1359.7,964.8 L1360.7,966.5 L1361.7,968.2 L1362.7,969.9 L1363.7,971.5 L1364.7,973.1 L1365.7,974.7 L1366.7,976.2 L1367.7,977.7 L1368.7,979.2 L1369.7,980.6 L1370.7,982 L1371.7,983.3 L1372.7,984.7 L1373.7,985.9 L1374.7,987.2 L1375.7,988.4 L1376.7,989.6 L1377.7,990.7 L1378.7,991.8 L1379.7,992.9 L1380.7,993.9 L1381.7,994.9 L1382.7,995.9 L1383.7,996.8 L1384.7,997.7 L1385.7,998.6 L1386.7,999.4 L1387.7,1000.2 L1388.7,1001 L1389.7,1001.8 L1390.7,1002.5 L1391.7,1003.2 L1392.7,1003.8 L1393.7,1004.5 L1394.7,1005.1 L1395.7,1005.7 L1396.7,1006.2 L1397.7,1006.8 L1398.7,1007.3 L1399.7,1007.8 L1400.7,1008.2 L1401.7,1008.7 L1402.7,1009.1 L1403.7,1009.5 L1404.7,1009.9 L1405.7,1010.3 L1406.7,1010.6 L1407.7,1011 L1408.7,1011.3 L1409.7,1011.6 L1410.7,1011.9 L1411.7,1012.1 L1412.7,1012.4 L1413.7,1012.6 L1414.7,1012.9 L1415.7,1013.1 L1416.7,1013.3 L1417.7,1013.5 L1418.7,1013.7 L1419.7,1013.8 L1420.7,1014 L1421.7,1014.2 L1422.7,1014.3 L1423.7,1014.4 L1424.7,1014.6 L1425.7,1014.7 L1426.7,1014.8 L1427.7,1014.9 L1428.7,1015 L1429.7,1015.1 L1430.7,1015.2 L1431.7,1015.3 L1432.7,1015.4 L1433.7,1015.4 L1434.7,1015.5 L1435.7,1015.6 L1436.7,1015.6 L1437.7,1015.7 L1438.7,1015.7 L1439.7,1015.8 L1440.7,1015.8 L1441.7,1015.9 L1442.7,1015.9 L1443.7,1015.9 L1444.7,1016 L1445.7,1016 L1446.7,1016 L1447.7,1016.1 L1448.7,1016.1 L1449.7,1016.1 L1450.7,1016.1 L1451.7,1016.1 L1452.7,1016.2 L1453.7,1016.2 L1454.7,1016.2 L1455.7,1016.2 L1456.7,1016.2 L1457.7,1016.2 L1458.7,1016.3 L1459.7,1016.3 L1460.7,1016.3 L1461.7,1016.3 L1462.7,1016.3 L1463.7,1016.3 L1464.7,1016.3 L1465.7,1016.3 L1466.7,1016.3 L1467.7,1016.3 L1468.7,1016.3 L1469.7,1016.3 L1470.7,1016.3 L1471.7,1016.3 L1472.7,1016.3 L1473.7,1016.3 L1474.7,1016.3 L1475.7,1016.3 L1476.7,1016.4" fill="none" stroke="#DD0000" stroke-width="6.5" stroke-linejoin="round"/>
<line x1="120" y1="1016.5" x2="2311" y2="1016.3" stroke="#DD0000" stroke-width="7.5"/>
<path d="M120,1474 L121,1474 L122,1474 L123,1474 L124,1474 L125,1473.9 L126,1473.9 L127,1473.9 L128,1473.9 L129,1473.9 L130,1473.9 L131,1473.9 L132,1473.9 L133,1473.9 L134,1473.9 L135,1473.8 L136,1473.8 L137,1473.8 L138,1473.8 L139,1473.8 L140,1473.8 L141,1473.8 L142,1473.8 L143,1473.8 L144,1473.8 L145,1473.7 L146,1473.7 L147,1473.7 L148,1473.7 L149,1473.7 L150,1473.7 L151,1473.7 L152,1473.7 L153,1473.7 L154,1473.7 L155,1473.6 L156,1473.6 L157,1473.6 L158,1473.6 L159,1473.6 L160,1473.6 L161,1473.6 L162,1473.6 L163,1473.6 L164,1473.5 L165,1473.5 L166,1473.5 L167,1473.5 L168,1473.5 L169,1473.5 L170,1473.5 L171,1473.5 L172,1473.5 L173,1473.5 L174,1473.4 L175,1473.4 L176,1473.4 L177,1473.4 L178,1473.4 L179,1473.4 L180,1473.4 L181,1473.4 L182,1473.4 L183,1473.3 L184,1473.3 L185,1473.3 L186,1473.3 L187,1473.3 L188,1473.3 L189,1473.3 L190,1473.3 L191,1473.3 L192,1473.2 L193,1473.2 L194,1473.2 L195,1473.2 L196,1473.2 L197,1473.2 L198,1473.2 L199,1473.2 L200,1473.2 L201,1473.2 L202,1473.1 L203,1473.1 L204,1473.1 L205,1473.1 L206,1473.1 L207,1473.1 L208,1473.1 L209,1473.1 L210,1473.1 L211,1473 L212,1473 L213,1473 L214,1473 L215,1473 L216,1473 L217,1473 L218,1473 L219,1472.9 L220,1472.9 L221,1472.9 L222,1472.9 L223,1472.9 L224,1472.9 L225,1472.9 L226,1472.9 L227,1472.9 L228,1472.8 L229,1472.8 L230,1472.8 L231,1472.8 L232,1472.8 L233,1472.8 L234,1472.8 L235,1472.8 L236,1472.8 L237,1472.7 L238,1472.7 L239,1472.7 L240,1472.7 L241,1472.7 L242,1472.7 L243,1472.7 L244,1472.7 L245,1472.7 L246,1472.6 L247,1472.6 L248,1472.6 L249,1472.6 L250,1472.6 L251,1472.6 L252,1472.6 L253,1472.6 L254,1472.5 L255,1472.5 L256,1472.5 L257,1472.5 L258,1472.5 L259,1472.5 L260,1472.5 L261,1472.5 L262,1472.5 L263,1472.4 L264,1472.4 L265,1472.4 L266,1472.4 L267,1472.4 L268,1472.4 L269,1472.4 L270,1472.4 L271,1472.3 L272,1472.3 L273,1472.3 L274,1472.3 L275,1472.3 L276,1472.3 L277,1472.3 L278,1472.3 L279,1472.3 L280,1472.2 L281,1472.2 L282,1472.2 L283,1472.2 L284,1472.2 L285,1472.2 L286,1472.2 L287,1472.2 L288,1472.1 L289,1472.1 L290,1472.1 L291,1472.1 L292,1472.1 L293,1472.1 L294,1472.1 L295,1472.1 L296,1472 L297,1472 L298,1472 L299,1472 L300,1472 L301,1472 L302,1472 L303,1472 L304,1472 L305,1471.9 L306,1471.9 L307,1471.9 L308,1471.9 L309,1471.9 L310,1471.9 L311,1471.9 L312,1471.9 L313,1471.8 L314,1471.8 L315,1471.8 L316,1471.8 L317,1471.8 L318,1471.8 L319,1471.8 L320,1471.8 L321,1471.7 L322,1471.7 L323,1471.7 L324,1471.7 L325,1471.7 L326,1471.7 L327,1471.7 L328,1471.7 L329,1471.6 L330,1471.6 L331,1471.6 L332,1471.6 L333,1471.6 L334,1471.6 L335,1471.6 L336,1471.6 L337,1471.6 L338,1471.5 L339,1471.5 L340,1471.5 L341,1471.5 L342,1471.5 L343,1471.5 L344,1471.5 L345,1471.5 L346,1471.4 L347,1471.4 L348,1471.4 L349,1471.4 L350,1471.4 L351,1471.4 L352,1471.4 L353,1471.4 L354,1471.3 L355,1471.3 L356,1471.3 L357,1471.3 L358,1471.3 L359,1471.3 L360,1471.3 L361,1471.3 L362,1471.2 L363,1471.2 L364,1471.2 L365,1471.2 L366,1471.2 L367,1471.2 L368,1471.2 L369,1471.2 L370,1471.1 L371,1471.1 L372,1471.1 L373,1471.1 L374,1471.1 L375,1471.1 L376,1471.1 L377,1471.1 L378,1471 L379,1471 L380,1471 L381,1471 L382,1471 L383,1471 L384,1471 L385,1470.9 L386,1470.9 L387,1470.9 L388,1470.9 L389,1470.9 L390,1470.9 L391,1470.9 L392,1470.9 L393,1470.8 L394,1470.8 L395,1470.8 L396,1470.8 L397,1470.8 L398,1470.8 L399,1470.8 L400,1470.7 L401,1470.7 L402,1470.7 L403,1470.7 L404,1470.7 L405,1470.7 L406,1470.7 L407,1470.6 L408,1470.6 L409,1470.6 L410,1470.6 L411,1470.6 L412,1470.6 L413,1470.6 L414,1470.5 L415,1470.5 L416,1470.5 L417,1470.5 L418,1470.5 L419,1470.5 L420,1470.5 L421,1470.4 L422,1470.4 L423,1470.4 L424,1470.4 L425,1470.4 L426,1470.4 L427,1470.4 L428,1470.3 L429,1470.3 L430,1470.3 L431,1470.3 L432,1470.3 L433,1470.3 L434,1470.3 L435,1470.2 L436,1470.2 L437,1470.2 L438,1470.2 L439,1470.2 L440,1470.2 L441,1470.1 L442,1470.1 L443,1470.1 L444,1470.1 L445,1470.1 L446,1470.1 L447,1470 L448,1470 L449,1470 L450,1470 L451,1470 L452,1470 L453,1470 L454,1469.9 L455,1469.9 L456,1469.9 L457,1469.9 L458,1469.9 L459,1469.9 L460,1469.8 L461,1469.8 L462,1469.8 L463,1469.8 L464,1469.8 L465,1469.8 L466,1469.7 L467,1469.7 L468,1469.7 L469,1469.7 L470,1469.7 L471,1469.7 L472,1469.6 L473,1469.6 L474,1469.6 L475,1469.6 L476,1469.6 L477,1469.5 L478,1469.5 L479,1469.5 L480,1469.5 L481,1469.5 L482,1469.5 L483,1469.4 L484,1469.4 L485,1469.4 L486,1469.4 L487,1469.4 L488,1469.4 L489,1469.3 L490,1469.3 L491,1469.3 L492,1469.3 L493,1469.3 L494,1469.2 L495,1469.2 L496,1469.2 L497,1469.2 L498,1469.2 L499,1469.1 L500,1469.1 L501,1469.1 L502,1469.1 L503,1469.1 L504,1469.1 L505,1469 L506,1469 L507,1469 L508,1469 L509,1469 L510,1468.9 L511,1468.9 L512,1468.9 L513,1468.9 L514,1468.8 L515,1468.8 L516,1468.8 L517,1468.8 L518,1468.8 L519,1468.7 L520,1468.7 L521,1468.7 L522,1468.7 L523,1468.7 L524,1468.6 L525,1468.6 L526,1468.6 L527,1468.6 L528,1468.5 L529,1468.5 L530,1468.5 L531,1468.5 L532,1468.5 L533,1468.4 L534,1468.4 L535,1468.4 L536,1468.4 L537,1468.3 L538,1468.3 L539,1468.3 L540,1468.3 L541,1468.2 L542,1468.2 L543,1468.2 L544,1468.2 L545,1468.1 L546,1468.1 L547,1468.1 L548,1468.1 L549,1468 L550,1468 L551,1468 L552,1467.9 L553,1467.9 L554,1467.9 L555,1467.9 L556,1467.8 L557,1467.8 L558,1467.8 L559,1467.8 L560,1467.7 L561,1467.7 L562,1467.7 L563,1467.6 L564,1467.6 L565,1467.6 L566,1467.6 L567,1467.5 L568,1467.5 L569,1467.5 L570,1467.4 L571,1467.4 L572,1467.4 L573,1467.4 L574,1467.3 L575,1467.3 L576,1467.3 L577,1467.2 L578,1467.2 L579,1467.2 L580,1467.1 L581,1467.1 L582,1467.1 L583,1467 L584,1467 L585,1467 L586,1466.9 L587,1466.9 L588,1466.9 L589,1466.8 L590,1466.8 L591,1466.8 L592,1466.7 L593,1466.7 L594,1466.7 L595,1466.6 L596,1466.6 L597,1466.6 L598,1466.5 L599,1466.5 L600,1466.4 L601,1466.4 L602,1466.4 L603,1466.3 L604,1466.3 L605,1466.3 L606,1466.2 L607,1466.2 L608,1466.1 L609,1466.1 L610,1466.1 L611,1466 L612,1466 L613,1465.9 L614,1465.9 L615,1465.8 L616,1465.8 L617,1465.8 L618,1465.7 L619,1465.7 L620,1465.6 L621,1465.6 L622,1465.5 L623,1465.5 L624,1465.4 L625,1465.4 L626,1465.3 L627,1465.3 L628,1465.2 L629,1465.2 L630,1465.1 L631,1465.1 L632,1465 L633,1465 L634,1464.9 L635,1464.9 L636,1464.8 L637,1464.8 L638,1464.7 L639,1464.6 L640,1464.6 L641,1464.5 L642,1464.5 L643,1464.4 L644,1464.4 L645,1464.3 L646,1464.2 L647,1464.2 L648,1464.1 L649,1464.1 L650,1464 L651,1463.9 L652,1463.9 L653,1463.8 L654,1463.7 L655,1463.6 L656,1463.6 L657,1463.5 L658,1463.4 L659,1463.3 L660,1463.2 L661,1463.1 L662,1463 L663,1462.9 L664,1462.8 L665,1462.7 L666,1462.6 L667,1462.5 L668,1462.4 L669,1462.3 L670,1462.2 L671,1462.1 L672,1462 L673,1461.9 L674,1461.7 L675,1461.6 L676,1461.5 L677,1461.4 L678,1461.2 L679,1461.1 L680,1461 L681,1460.9 L682,1460.7 L683,1460.6 L684,1460.5 L685,1460.3 L686,1460.2 L687,1460.1 L688,1459.9 L689,1459.8 L690,1459.7 L691,1459.5 L692,1459.4 L693,1459.2 L694,1459.1 L695,1459 L696,1458.8 L697,1458.7 L698,1458.5 L699,1458.4 L700,1458.2 L701,1458.1 L702,1457.9 L703,1457.7 L704,1457.6 L705,1457.4 L706,1457.2 L707,1457.1 L708,1456.9 L709,1456.7 L710,1456.5 L711,1456.4 L712,1456.2 L713,1456 L714,1455.8 L715,1455.6 L716,1455.4 L717,1455.2 L718,1455 L719,1454.8 L720,1454.6 L721,1454.4 L722,1454.2 L723,1454 L724,1453.8 L725,1453.6 L726,1453.4 L727,1453.2 L728,1453 L729,1452.8 L730,1452.6 L731,1452.4 L732,1452.1 L733,1451.9 L734,1451.7 L735,1451.5 L736,1451.3 L737,1451 L738,1450.8 L739,1450.6 L740,1450.3 L741,1450.1 L742,1449.9 L743,1449.6 L744,1449.4 L745,1449.1 L746,1448.9 L747,1448.6 L748,1448.3 L749,1448.1 L750,1447.8 L751,1447.5 L752,1447.3 L753,1447 L754,1446.7 L755,1446.4 L756,1446.1 L757,1445.8 L758,1445.5 L759,1445.2 L760,1444.9 L761,1444.6 L762,1444.3 L763,1444 L764,1443.7 L765,1443.4 L766,1443.1 L767,1442.7 L768,1442.4 L769,1442.1 L770,1441.7 L771,1441.4 L772,1441 L773,1440.7 L774,1440.3 L775,1440 L776,1439.6 L777,1439.2 L778,1438.9 L779,1438.5 L780,1438.1 L781,1437.7 L782,1437.3 L783,1437 L784,1436.6 L785,1436.2 L786,1435.8 L787,1435.4 L788,1434.9 L789,1434.5 L790,1434.1 L791,1433.7 L792,1433.3 L793,1432.8 L794,1432.4 L795,1431.9 L796,1431.5 L797,1431 L798,1430.6 L799,1430.1 L800,1429.6 L801,1429.1 L802,1428.6 L803,1428.1 L804,1427.6 L805,1427.1 L806,1426.6 L807,1426 L808,1425.5 L809,1424.9 L810,1424.4 L811,1423.8 L812,1423.2 L813,1422.6 L814,1422 L815,1421.4 L816,1420.8 L817,1420.1 L818,1419.5 L819,1418.9 L820,1418.2 L821,1417.6 L822,1416.9 L823,1416.3 L824,1415.6 L825,1414.9 L826,1414.3 L827,1413.6 L828,1412.9 L829,1412.3 L830,1411.6 L831,1410.9 L832,1410.2 L833,1409.5 L834,1408.8 L835,1408.1 L836,1407.4 L837,1406.7 L838,1405.9 L839,1405.2 L840,1404.5 L841,1403.8 L842,1403 L843,1402.3 L844,1401.6 L845,1400.9 L846,1400.2 L847,1399.5 L848,1398.7 L849,1398 L850,1397.4 L851,1396.7 L852,1396 L853,1395.3 L854,1394.6 L855,1393.9 L856,1393.2 L857,1392.6 L858,1391.9 L859,1391.2 L860,1390.5 L861,1389.9 L862,1389.2 L863,1388.5 L864,1387.9 L865,1387.2 L866,1386.6 L867,1385.9 L868,1385.2 L869,1384.6 L870,1383.9 L871,1383.2 L872,1382.6 L873,1381.9 L874,1381.2 L875,1380.6 L876,1379.9 L877,1379.2 L878,1378.6 L879,1377.9 L880,1377.2 L881,1376.6 L882,1375.9 L883,1375.2 L884,1374.6 L885,1373.9 L886,1373.3 L887,1372.6 L888,1372 L889,1371.3 L890,1370.7 L891,1370.1 L892,1369.5 L893,1368.9 L894,1368.3 L895,1367.7 L896,1367.1 L897,1366.5 L898,1365.9 L899,1365.3 L900,1364.8 L901,1364.2 L902,1363.7 L903,1363.1 L904,1362.6 L905,1362 L906,1361.5 L907,1361 L908,1360.5 L909,1360 L910,1359.5 L911,1359 L912,1358.6 L913,1358.1 L914,1357.7 L915,1357.3 L916,1356.8 L917,1356.4 L918,1356 L919,1355.6 L920,1355.3 L921,1354.9 L922,1354.5 L923,1354.2 L924,1353.9 L925,1353.6 L926,1353.3 L927,1353 L928,1352.8 L929,1352.6 L930,1352.3 L931,1352.1 L932,1351.9 L933,1351.8 L934,1351.6 L935,1351.4 L936,1351.2 L937,1351.1 L938,1351 L939,1350.9 L940,1350.8 L941,1350.7 L942,1350.7 L943,1350.7 L944,1350.7 L945,1350.7 L946,1350.9 L947,1351 L948,1351.2 L949,1351.4 L950,1351.7 L951,1352 L952,1352.3 L953,1352.6 L954,1353 L955,1353.4 L956,1353.8 L957,1354.3 L958,1354.7 L959,1355.2 L960,1355.7 L961,1356.2 L962,1356.8 L963,1357.4 L964,1358.1 L965,1358.8 L966,1359.5 L967,1360.3 L968,1361.1 L969,1362 L970,1362.9 L971,1363.9 L972,1364.9 L973,1365.9 L974,1367 L975,1368.1 L976,1369.2 L977,1370.4 L978,1371.6 L979,1372.8 L980,1374.1 L981,1375.3 L982,1376.5 L983,1377.7 L984,1378.9 L985,1380.1 L986,1381.2 L987,1382.3 L988,1383.5 L989,1384.5 L990,1385.6 L991,1386.6 L992,1387.5 L993,1388.4 L994,1389.2 L995,1390 L996,1390.6 L997,1391.2 L998,1391.6 L999,1391.9 L1000,1392 L1001,1392 L1002,1391.7 L1003,1391.3 L1004,1390.8 L1005,1390 L1006,1389.2 L1007,1388.2 L1008,1387.1 L1009,1385.9 L1010,1384.5 L1011,1383.1 L1012,1381.4 L1013,1379.7 L1014,1377.8 L1015,1375.8 L1016,1373.8 L1017,1371.6 L1018,1369.5 L1019,1367.3 L1020,1365.2 L1021,1363 L1022,1360.9 L1023,1358.7 L1024,1356.6 L1025,1354.4 L1026,1352.3 L1027,1350.1 L1028,1347.9 L1029,1345.7 L1030,1343.5 L1031,1341.3 L1032,1339.1 L1033,1336.8 L1034,1334.6 L1035,1332.3 L1036,1330.1 L1037,1327.8 L1038,1325.5 L1039,1323.2 L1040,1320.9 L1041,1318.6 L1042,1316.2 L1043,1313.8 L1044,1311.4 L1045,1309 L1046,1306.6 L1047,1304.1 L1048,1301.7 L1049,1299.3 L1050,1296.8 L1051,1294.4 L1052,1291.9 L1053,1289.5 L1054,1287.1 L1055,1284.7 L1056,1282.4 L1057,1280 L1058,1277.7 L1059,1275.4 L1060,1273.1 L1061,1270.8 L1062,1268.6 L1063,1266.3 L1064,1264.1 L1065,1261.9 L1066,1259.7 L1067,1257.5 L1068,1255.3 L1069,1253.2 L1070,1251 L1071,1248.9 L1072,1246.8 L1073,1244.8 L1074,1242.8 L1075,1240.8 L1076,1238.9 L1077,1237 L1078,1235.2 L1079,1233.4 L1080,1231.6 L1081,1229.8 L1082,1228.1 L1083,1226.4 L1084,1224.7 L1085,1223.1 L1086,1221.5 L1087,1219.9 L1088,1218.3 L1089,1216.8 L1090,1215.3 L1091,1213.8 L1092,1212.3 L1093,1210.9 L1094,1209.6 L1095,1208.3 L1096,1207 L1097,1205.7 L1098,1204.5 L1099,1203.3 L1100,1202.2 L1101,1201.1 L1102,1200 L1103,1198.9 L1104,1197.8 L1105,1196.8 L1106,1195.8 L1107,1194.8 L1108,1193.9 L1109,1192.9 L1110,1192 L1111,1191.2 L1112,1190.3 L1113,1189.5 L1114,1188.8 L1115,1188 L1116,1187.3 L1117,1186.7 L1118,1186 L1119,1185.5 L1120,1184.9 L1121,1184.4 L1122,1183.8 L1123,1183.3 L1124,1182.9 L1125,1182.4 L1126,1181.9 L1127,1181.5 L1128,1181.1 L1129,1180.7 L1130,1180.3 L1131,1179.9 L1132,1179.6 L1133,1179.2 L1134,1178.9 L1135,1178.6 L1136,1178.3 L1137,1178 L1138,1177.8 L1139,1177.5 L1140,1177.2 L1141,1177 L1142,1176.7 L1143,1176.5 L1144,1176.3 L1145,1176 L1146,1175.8 L1147,1175.6 L1148,1175.4 L1149,1175.2 L1150,1175 L1151,1174.9 L1152,1174.7 L1153,1174.6 L1154,1174.4 L1155,1174.3 L1156,1174.2 L1157,1174.2 L1158,1174.1 L1159,1174 L1160,1174 L1161,1173.9 L1162,1173.9 L1163,1173.9 L1164,1173.8 L1165,1173.8 L1166,1173.8 L1167,1173.8 L1168,1173.8 L1169,1173.7 L1170,1173.7 L1171,1173.7 L1172,1173.7 L1173,1173.7 L1174,1173.7 L1175,1173.7 L1176,1173.7 L1177,1173.7 L1178,1173.7 L1179,1173.7 L1180,1173.8 L1181,1173.8 L1182,1173.9 L1183,1174 L1184,1174.1 L1185,1174.2 L1186,1174.4 L1187,1174.5 L1188,1174.7 L1189,1174.8 L1190,1175 L1191,1175.2 L1192,1175.4 L1193,1175.6 L1194,1175.8 L1195,1176 L1196,1176.2 L1197,1176.4 L1198,1176.7 L1199,1176.9 L1200,1177.1 L1201,1177.3 L1202,1177.6 L1203,1177.8 L1204,1178.1 L1205,1178.4 L1206,1178.6 L1207,1178.9 L1208,1179.2 L1209,1179.5 L1210,1179.8 L1211,1180.2 L1212,1180.5 L1213,1180.9 L1214,1181.2 L1215,1181.6 L1216,1182 L1217,1182.4 L1218,1182.8 L1219,1183.2 L1220,1183.6 L1221,1184.1 L1222,1184.5 L1223,1185 L1224,1185.5 L1225,1186.1 L1226,1186.6 L1227,1187.2 L1228,1187.8 L1229,1188.3 L1230,1189 L1231,1189.6 L1232,1190.2 L1233,1190.9 L1234,1191.5 L1235,1192.2 L1236,1192.9 L1237,1193.6 L1238,1194.4 L1239,1195.1 L1240,1195.9 L1241,1196.7 L1242,1197.5 L1243,1198.3 L1244,1199.2 L1245,1200.1 L1246,1201 L1247,1201.9 L1248,1202.9 L1249,1203.9 L1250,1204.9 L1251,1205.9 L1252,1207 L1253,1208.1 L1254,1209.2 L1255,1210.4 L1256,1211.6 L1257,1212.9 L1258,1214.2 L1259,1215.5 L1260,1217 L1261,1218.4 L1262,1220 L1263,1221.5 L1264,1223.2 L1265,1224.9 L1266,1226.7 L1267,1228.5 L1268,1230.4 L1269,1232.3 L1270,1234.4 L1271,1236.5 L1272,1238.7 L1273,1240.9 L1274,1243.3 L1275,1245.7 L1276,1248.2 L1277,1250.9 L1278,1253.6 L1279,1256.4 L1280,1259.3 L1281,1262.4 L1282,1265.6 L1283,1268.9 L1284,1272.4 L1285,1276 L1286,1279.9 L1287,1283.9 L1288,1288.2 L1289,1292.7 L1290,1297.4 L1291,1302.3 L1292,1307.5 L1293,1312.9 L1294,1318.5 L1295,1324.3 L1296,1330.3 L1297,1336.5 L1298,1342.7 L1299,1349 L1300,1355.4 L1301,1361.8 L1302,1368.3 L1303,1374.8 L1304,1381.4 L1305,1388 L1306,1394.5 L1307,1401 L1308,1407.3 L1309,1413.4 L1310,1419.2 L1311,1424.6 L1312,1429.7 L1313,1434.3 L1314,1438.4 L1315,1442.1 L1316,1445.4 L1317,1448.3 L1318,1450.8 L1319,1453 L1320,1454.9 L1321,1456.6 L1322,1458 L1323,1459.3 L1324,1460.3 L1325,1461.2 L1326,1462 L1327,1462.7 L1328,1463.3 L1329,1463.9 L1330,1464.4 L1331,1464.8 L1332,1465.1 L1333,1465.5 L1334,1465.7 L1335,1466 L1336,1466.2 L1337,1466.5 L1338,1466.7 L1339,1466.9 L1340,1467.1 L1341,1467.3 L1342,1467.4 L1343,1467.6 L1344,1467.8 L1345,1467.9 L1346,1468 L1347,1468.2 L1348,1468.3 L1349,1468.4 L1350,1468.5 L1351,1468.5 L1352,1468.6 L1353,1468.7 L1354,1468.7 L1355,1468.7 L1356,1468.7 L1357,1468.8 L1358,1468.8 L1359,1468.8 L1360,1468.8 L1361,1468.8 L1362,1468.8 L1363,1468.8 L1364,1468.8 L1365,1468.8 L1366,1468.7 L1367,1468.7 L1368,1468.7 L1369,1468.7 L1370,1468.7 L1371,1468.7 L1372,1468.7 L1373,1468.7 L1374,1468.7 L1375,1468.7 L1376,1468.7 L1377,1468.7 L1378,1468.7 L1379,1468.6 L1380,1468.6 L1381,1468.6 L1382,1468.6 L1383,1468.6 L1384,1468.6 L1385,1468.6 L1386,1468.6 L1387,1468.6 L1388,1468.5 L1389,1468.5 L1390,1468.5 L1391,1468.5 L1392,1468.5 L1393,1468.5 L1394,1468.5 L1395,1468.5 L1396,1468.5 L1397,1468.4 L1398,1468.4 L1399,1468.4 L1400,1468.4 L1401,1468.4 L1402,1468.4 L1403,1468.4 L1404,1468.4 L1405,1468.4 L1406,1468.4 L1407,1468.4 L1408,1468.3 L1409,1468.3 L1410,1468.3 L1411,1468.3 L1412,1468.3 L1413,1468.3 L1414,1468.3 L1415,1468.3 L1416,1468.3 L1417,1468.3 L1418,1468.3 L1419,1468.3 L1420,1468.3 L1421,1468.3 L1422,1468.3 L1423,1468.3 L1424,1468.3 L1425,1468.3 L1426,1468.3 L1427,1468.3 L1428,1468.3 L1429,1468.3 L1430,1468.3 L1431,1468.3 L1432,1468.3 L1433,1468.3 L1434,1468.3 L1435,1468.3 L1436,1468.3 L1437,1468.3 L1438,1468.3 L1439,1468.3 L1440,1468.3 L1441,1468.3 L1442,1468.3 L1443,1468.3 L1444,1468.3 L1445,1468.3 L1446,1468.3 L1447,1468.3 L1448,1468.3 L1449,1468.3 L1450,1468.3 L1451,1468.3 L1452,1468.3 L1453,1468.3 L1454,1468.3 L1455,1468.3 L1456,1468.3 L1457,1468.3 L1458,1468.3 L1459,1468.3 L1460,1468.3 L1461,1468.4 L1462,1468.4 L1463,1468.4 L1464,1468.4 L1465,1468.4 L1466,1468.4 L1467,1468.4 L1468,1468.4 L1469,1468.4 L1470,1468.4 L1471,1468.4 L1472,1468.4 L1473,1468.4 L1474,1468.4 L1475,1468.4 L1476,1468.4 L1477,1468.4 L1478,1468.4 L1479,1468.4 L1480,1468.4 L1481,1468.4 L1482,1468.4 L1483,1468.4 L1484,1468.4 L1485,1468.4 L1486,1468.4 L1487,1468.4 L1488,1468.4 L1489,1468.4 L1490,1468.4 L1491,1468.4 L1492,1468.4 L1493,1468.4 L1494,1468.4 L1495,1468.4 L1496,1468.5 L1497,1468.5 L1498,1468.5 L1499,1468.5 L1500,1468.5 L1501,1468.5 L1502,1468.5 L1503,1468.5 L1504,1468.5 L1505,1468.5 L1506,1468.5 L1507,1468.5 L1508,1468.5 L1509,1468.5 L1510,1468.5 L1511,1468.5 L1512,1468.5 L1513,1468.5 L1514,1468.5 L1515,1468.5 L1516,1468.5 L1517,1468.5 L1518,1468.5 L1519,1468.5 L1520,1468.5 L1521,1468.5 L1522,1468.5 L1523,1468.5 L1524,1468.6 L1525,1468.6 L1526,1468.6 L1527,1468.6 L1528,1468.6 L1529,1468.6 L1530,1468.6 L1531,1468.6 L1532,1468.6 L1533,1468.6 L1534,1468.6 L1535,1468.6 L1536,1468.6 L1537,1468.6 L1538,1468.6 L1539,1468.6 L1540,1468.6 L1541,1468.6 L1542,1468.6 L1543,1468.6 L1544,1468.6 L1545,1468.6 L1546,1468.6 L1547,1468.6 L1548,1468.6 L1549,1468.6 L1550,1468.6 L1551,1468.7 L1552,1468.7 L1553,1468.7 L1554,1468.7 L1555,1468.7 L1556,1468.7 L1557,1468.7 L1558,1468.7 L1559,1468.7 L1560,1468.7 L1561,1468.7 L1562,1468.7 L1563,1468.7 L1564,1468.7 L1565,1468.7 L1566,1468.7 L1567,1468.7 L1568,1468.7 L1569,1468.7 L1570,1468.7 L1571,1468.7 L1572,1468.7 L1573,1468.7 L1574,1468.7 L1575,1468.7 L1576,1468.7 L1577,1468.7 L1578,1468.7 L1579,1468.7 L1580,1468.7 L1581,1468.8 L1582,1468.8 L1583,1468.8 L1584,1468.8 L1585,1468.8 L1586,1468.8 L1587,1468.8 L1588,1468.8 L1589,1468.8 L1590,1468.8 L1591,1468.8 L1592,1468.8 L1593,1468.8 L1594,1468.8 L1595,1468.8 L1596,1468.8 L1597,1468.8 L1598,1468.8 L1599,1468.8 L1600,1468.8 L1601,1468.8 L1602,1468.8 L1603,1468.8 L1604,1468.8 L1605,1468.8 L1606,1468.8 L1607,1468.8 L1608,1468.8 L1609,1468.8 L1610,1468.8 L1611,1468.8 L1612,1468.8 L1613,1468.8 L1614,1468.8 L1615,1468.8 L1616,1468.8 L1617,1468.8 L1618,1468.8 L1619,1468.8 L1620,1468.8 L1621,1468.8 L1622,1468.8 L1623,1468.8 L1624,1468.9 L1625,1468.9 L1626,1468.9 L1627,1468.9 L1628,1468.9 L1629,1468.9 L1630,1468.9 L1631,1468.9 L1632,1468.9 L1633,1468.9 L1634,1468.9 L1635,1468.9 L1636,1468.9 L1637,1468.9 L1638,1468.9 L1639,1468.9 L1640,1468.9 L1641,1468.9 L1642,1468.9 L1643,1468.9 L1644,1468.9 L1645,1468.9 L1646,1468.9 L1647,1468.9 L1648,1468.9 L1649,1468.9 L1650,1468.9 L1651,1468.9 L1652,1468.9 L1653,1468.9 L1654,1468.9 L1655,1468.9 L1656,1468.9 L1657,1468.9 L1658,1468.9 L1659,1468.9 L1660,1468.9 L1661,1468.9 L1662,1468.9 L1663,1468.9 L1664,1468.9 L1665,1468.9 L1666,1468.9 L1667,1468.9 L1668,1468.9 L1669,1468.9 L1670,1468.9 L1671,1468.9 L1672,1468.9 L1673,1469 L1674,1469 L1675,1469 L1676,1469 L1677,1469 L1678,1469 L1679,1469 L1680,1469 L1681,1469 L1682,1469 L1683,1469 L1684,1469 L1685,1469 L1686,1469 L1687,1469 L1688,1469 L1689,1469 L1690,1469 L1691,1469 L1692,1469 L1693,1469 L1694,1469 L1695,1469 L1696,1469 L1697,1469 L1698,1469 L1699,1469 L1700,1469 L1701,1469 L1702,1469 L1703,1469 L1704,1469 L1705,1469 L1706,1469 L1707,1469 L1708,1469 L1709,1469 L1710,1469 L1711,1469 L1712,1469 L1713,1469 L1714,1469 L1715,1469 L1716,1469 L1717,1469 L1718,1469 L1719,1469 L1720,1469 L1721,1469 L1722,1469 L1723,1469 L1724,1469 L1725,1469 L1726,1469 L1727,1469.1 L1728,1469.1 L1729,1469.1 L1730,1469.1 L1731,1469.1 L1732,1469.1 L1733,1469.1 L1734,1469.1 L1735,1469.1 L1736,1469.1 L1737,1469.1 L1738,1469.1 L1739,1469.1 L1740,1469.1 L1741,1469.1 L1742,1469.1 L1743,1469.1 L1744,1469.1 L1745,1469.1 L1746,1469.1 L1747,1469.1 L1748,1469.1 L1749,1469.1 L1750,1469.1 L1751,1469.1 L1752,1469.1 L1753,1469.1 L1754,1469.1 L1755,1469.1 L1756,1469.1 L1757,1469.1 L1758,1469.1 L1759,1469.1 L1760,1469.1 L1761,1469.1 L1762,1469.1 L1763,1469.1 L1764,1469.1 L1765,1469.1 L1766,1469.1 L1767,1469.1 L1768,1469.1 L1769,1469.1 L1770,1469.1 L1771,1469.1 L1772,1469.1 L1773,1469.1 L1774,1469.1 L1775,1469.1 L1776,1469.1 L1777,1469.1 L1778,1469.1 L1779,1469.1 L1780,1469.1 L1781,1469.1 L1782,1469.1 L1783,1469.1 L1784,1469.2 L1785,1469.2 L1786,1469.2 L1787,1469.2 L1788,1469.2 L1789,1469.2 L1790,1469.2 L1791,1469.2 L1792,1469.2 L1793,1469.2 L1794,1469.2 L1795,1469.2 L1796,1469.2 L1797,1469.2 L1798,1469.2 L1799,1469.2 L1800,1469.2 L1801,1469.2 L1802,1469.2 L1803,1469.2 L1804,1469.2 L1805,1469.2 L1806,1469.2 L1807,1469.2 L1808,1469.2 L1809,1469.2 L1810,1469.2 L1811,1469.2 L1812,1469.2 L1813,1469.2 L1814,1469.2 L1815,1469.2 L1816,1469.2 L1817,1469.2 L1818,1469.2 L1819,1469.2 L1820,1469.2 L1821,1469.2 L1822,1469.2 L1823,1469.2 L1824,1469.2 L1825,1469.2 L1826,1469.2 L1827,1469.2 L1828,1469.2 L1829,1469.2 L1830,1469.2 L1831,1469.2 L1832,1469.2 L1833,1469.2 L1834,1469.2 L1835,1469.2 L1836,1469.2 L1837,1469.2 L1838,1469.2 L1839,1469.2 L1840,1469.2 L1841,1469.2 L1842,1469.2 L1843,1469.2 L1844,1469.2 L1845,1469.3 L1846,1469.3 L1847,1469.3 L1848,1469.3 L1849,1469.3 L1850,1469.3 L1851,1469.3 L1852,1469.3 L1853,1469.3 L1854,1469.3 L1855,1469.3 L1856,1469.3 L1857,1469.3 L1858,1469.3 L1859,1469.3 L1860,1469.3 L1861,1469.3 L1862,1469.3 L1863,1469.3 L1864,1469.3 L1865,1469.3 L1866,1469.3 L1867,1469.3 L1868,1469.3 L1869,1469.3 L1870,1469.3 L1871,1469.3 L1872,1469.3 L1873,1469.3 L1874,1469.3 L1875,1469.3 L1876,1469.3 L1877,1469.3 L1878,1469.3 L1879,1469.3 L1880,1469.3 L1881,1469.3 L1882,1469.3 L1883,1469.3 L1884,1469.3 L1885,1469.3 L1886,1469.3 L1887,1469.3 L1888,1469.3 L1889,1469.3 L1890,1469.3 L1891,1469.3 L1892,1469.3 L1893,1469.3 L1894,1469.3 L1895,1469.3 L1896,1469.3 L1897,1469.3 L1898,1469.3 L1899,1469.3 L1900,1469.3 L1901,1469.3 L1902,1469.3 L1903,1469.3 L1904,1469.3 L1905,1469.3 L1906,1469.3 L1907,1469.3 L1908,1469.4 L1909,1469.4 L1910,1469.4 L1911,1469.4 L1912,1469.4 L1913,1469.4 L1914,1469.4 L1915,1469.4 L1916,1469.4 L1917,1469.4 L1918,1469.4 L1919,1469.4 L1920,1469.4 L1921,1469.4 L1922,1469.4 L1923,1469.4 L1924,1469.4 L1925,1469.4 L1926,1469.4 L1927,1469.4 L1928,1469.4 L1929,1469.4 L1930,1469.4 L1931,1469.4 L1932,1469.4 L1933,1469.4 L1934,1469.4 L1935,1469.4 L1936,1469.4 L1937,1469.4 L1938,1469.4 L1939,1469.4 L1940,1469.4 L1941,1469.4 L1942,1469.4 L1943,1469.4 L1944,1469.4 L1945,1469.4 L1946,1469.4 L1947,1469.4 L1948,1469.4 L1949,1469.4 L1950,1469.4 L1951,1469.4 L1952,1469.4 L1953,1469.4 L1954,1469.4 L1955,1469.4 L1956,1469.4 L1957,1469.4 L1958,1469.4 L1959,1469.4 L1960,1469.4 L1961,1469.4 L1962,1469.4 L1963,1469.4 L1964,1469.4 L1965,1469.4 L1966,1469.4 L1967,1469.4 L1968,1469.4 L1969,1469.4 L1970,1469.5 L1971,1469.5 L1972,1469.5 L1973,1469.5 L1974,1469.5 L1975,1469.5 L1976,1469.5 L1977,1469.5 L1978,1469.5 L1979,1469.5 L1980,1469.5 L1981,1469.5 L1982,1469.5 L1983,1469.5 L1984,1469.5 L1985,1469.5 L1986,1469.5 L1987,1469.5 L1988,1469.5 L1989,1469.5 L1990,1469.5 L1991,1469.5 L1992,1469.5 L1993,1469.5 L1994,1469.5 L1995,1469.5 L1996,1469.5 L1997,1469.5 L1998,1469.5 L1999,1469.5 L2000,1469.5 L2001,1469.5 L2002,1469.5 L2003,1469.5 L2004,1469.5 L2005,1469.5 L2006,1469.5 L2007,1469.5 L2008,1469.5 L2009,1469.5 L2010,1469.5 L2011,1469.5 L2012,1469.5 L2013,1469.5 L2014,1469.5 L2015,1469.5 L2016,1469.5 L2017,1469.5 L2018,1469.5 L2019,1469.5 L2020,1469.5 L2021,1469.5 L2022,1469.5 L2023,1469.5 L2024,1469.5 L2025,1469.5 L2026,1469.5 L2027,1469.5 L2028,1469.5 L2029,1469.5 L2030,1469.5 L2031,1469.6 L2032,1469.6 L2033,1469.6 L2034,1469.6 L2035,1469.6 L2036,1469.6 L2037,1469.6 L2038,1469.6 L2039,1469.6 L2040,1469.6 L2041,1469.6 L2042,1469.6 L2043,1469.6 L2044,1469.6 L2045,1469.6 L2046,1469.6 L2047,1469.6 L2048,1469.6 L2049,1469.6 L2050,1469.6 L2051,1469.6 L2052,1469.6 L2053,1469.6 L2054,1469.6 L2055,1469.6 L2056,1469.6 L2057,1469.6 L2058,1469.6 L2059,1469.6 L2060,1469.6 L2061,1469.6 L2062,1469.6 L2063,1469.6 L2064,1469.6 L2065,1469.6 L2066,1469.6 L2067,1469.6 L2068,1469.6 L2069,1469.6 L2070,1469.6 L2071,1469.6 L2072,1469.6 L2073,1469.6 L2074,1469.6 L2075,1469.6 L2076,1469.6 L2077,1469.6 L2078,1469.6 L2079,1469.6 L2080,1469.6 L2081,1469.6 L2082,1469.6 L2083,1469.6 L2084,1469.6 L2085,1469.6 L2086,1469.6 L2087,1469.6 L2088,1469.6 L2089,1469.6 L2090,1469.6 L2091,1469.7 L2092,1469.7 L2093,1469.7 L2094,1469.7 L2095,1469.7 L2096,1469.7 L2097,1469.7 L2098,1469.7 L2099,1469.7 L2100,1469.7 L2101,1469.7 L2102,1469.7 L2103,1469.7 L2104,1469.7 L2105,1469.7 L2106,1469.7 L2107,1469.7 L2108,1469.7 L2109,1469.7 L2110,1469.7 L2111,1469.7 L2112,1469.7 L2113,1469.7 L2114,1469.7 L2115,1469.7 L2116,1469.7 L2117,1469.7 L2118,1469.7 L2119,1469.7 L2120,1469.7 L2121,1469.7 L2122,1469.7 L2123,1469.7 L2124,1469.7 L2125,1469.7 L2126,1469.7 L2127,1469.7 L2128,1469.7 L2129,1469.7 L2130,1469.7 L2131,1469.7 L2132,1469.7 L2133,1469.7 L2134,1469.7 L2135,1469.7 L2136,1469.7 L2137,1469.7 L2138,1469.7 L2139,1469.7 L2140,1469.7 L2141,1469.7 L2142,1469.7 L2143,1469.7 L2144,1469.7 L2145,1469.7 L2146,1469.7 L2147,1469.7 L2148,1469.7 L2149,1469.7 L2150,1469.7 L2151,1469.7 L2152,1469.7 L2153,1469.8 L2154,1469.8 L2155,1469.8 L2156,1469.8 L2157,1469.8 L2158,1469.8 L2159,1469.8 L2160,1469.8 L2161,1469.8 L2162,1469.8 L2163,1469.8 L2164,1469.8 L2165,1469.8 L2166,1469.8 L2167,1469.8 L2168,1469.8 L2169,1469.8 L2170,1469.8 L2171,1469.8 L2172,1469.8 L2173,1469.8 L2174,1469.8 L2175,1469.8 L2176,1469.8 L2177,1469.8 L2178,1469.8 L2179,1469.8 L2180,1469.8 L2181,1469.8 L2182,1469.8 L2183,1469.8 L2184,1469.8 L2185,1469.8 L2186,1469.8 L2187,1469.8 L2188,1469.8 L2189,1469.8 L2190,1469.8 L2191,1469.8 L2192,1469.8 L2193,1469.8 L2194,1469.8 L2195,1469.8 L2196,1469.8 L2197,1469.8 L2198,1469.8 L2199,1469.8 L2200,1469.8 L2201,1469.8 L2202,1469.8 L2203,1469.8 L2204,1469.8 L2205,1469.8 L2206,1469.8 L2207,1469.8 L2208,1469.8 L2209,1469.8 L2210,1469.8 L2211,1469.8 L2212,1469.8 L2213,1469.8 L2214,1469.8 L2215,1469.8 L2216,1469.9 L2217,1469.9 L2218,1469.9 L2219,1469.9 L2220,1469.9 L2221,1469.9 L2222,1469.9 L2223,1469.9 L2224,1469.9 L2225,1469.9 L2226,1469.9 L2227,1469.9 L2228,1469.9 L2229,1469.9 L2230,1469.9 L2231,1469.9 L2232,1469.9 L2233,1469.9 L2234,1469.9 L2235,1469.9 L2236,1469.9 L2237,1469.9 L2238,1469.9 L2239,1469.9 L2240,1469.9 L2241,1469.9 L2242,1469.9 L2243,1469.9 L2244,1469.9 L2245,1469.9 L2246,1469.9 L2247,1469.9 L2248,1469.9 L2249,1469.9 L2250,1469.9 L2251,1469.9 L2252,1469.9 L2253,1469.9 L2254,1469.9 L2255,1469.9 L2256,1469.9 L2257,1469.9 L2258,1469.9 L2259,1469.9 L2260,1469.9 L2261,1469.9 L2262,1469.9 L2263,1469.9 L2264,1469.9 L2265,1469.9 L2266,1469.9 L2267,1469.9 L2268,1469.9 L2269,1469.9 L2270,1469.9 L2271,1469.9 L2272,1469.9 L2273,1469.9 L2274,1469.9 L2275,1469.9 L2276,1469.9 L2277,1469.9 L2278,1469.9 L2279,1470 L2280,1470 L2281,1470 L2282,1470 L2283,1470 L2284,1470 L2285,1470 L2286,1470 L2287,1470 L2288,1470 L2289,1470 L2290,1470 L2291,1470 L2292,1470 L2293,1470 L2294,1470 L2295,1470 L2296,1470 L2297,1470 L2298,1470 L2299,1470 L2300,1470 L2301,1470 L2302,1470 L2303,1470 L2304,1470 L2305,1470 L2306,1470 L2307,1470 L2308,1470 L2309,1470 L2310,1470 L2311,1470" fill="none" stroke="#0000FF" stroke-width="10" stroke-linejoin="round"/>
<path d="M578.4,1470.4 L579.4,1470.4 L580.4,1470.4 L581.4,1470.4 L582.4,1470.4 L583.4,1470.4 L584.4,1470.4 L585.4,1470.4 L586.4,1470.4 L587.4,1470.4 L588.4,1470.4 L589.4,1470.4 L590.4,1470.4 L591.4,1470.4 L592.4,1470.4 L593.4,1470.4 L594.4,1470.4 L595.4,1470.4 L596.4,1470.4 L597.4,1470.4 L598.4,1470.4 L599.4,1470.4 L600.4,1470.4 L601.4,1470.4 L602.4,1470.4 L603.4,1470.4 L604.4,1470.4 L605.4,1470.4 L606.4,1470.4 L607.4,1470.4 L608.4,1470.4 L609.4,1470.3 L610.4,1470.3 L611.4,1470.3 L612.4,1470.3 L613.4,1470.3 L614.4,1470.3 L615.4,1470.3 L616.4,1470.3 L617.4,1470.3 L618.4,1470.3 L619.4,1470.3 L620.4,1470.3 L621.4,1470.3 L622.4,1470.3 L623.4,1470.3 L624.4,1470.3 L625.4,1470.3 L626.4,1470.3 L627.4,1470.3 L628.4,1470.2 L629.4,1470.2 L630.4,1470.2 L631.4,1470.2 L632.4,1470.2 L633.4,1470.2 L634.4,1470.2 L635.4,1470.2 L636.4,1470.2 L637.4,1470.2 L638.4,1470.1 L639.4,1470.1 L640.4,1470.1 L641.4,1470.1 L642.4,1470.1 L643.4,1470.1 L644.4,1470.1 L645.4,1470 L646.4,1470 L647.4,1470 L648.4,1470 L649.4,1470 L650.4,1470 L651.4,1469.9 L652.4,1469.9 L653.4,1469.9 L654.4,1469.9 L655.4,1469.9 L656.4,1469.8 L657.4,1469.8 L658.4,1469.8 L659.4,1469.8 L660.4,1469.7 L661.4,1469.7 L662.4,1469.7 L663.4,1469.6 L664.4,1469.6 L665.4,1469.6 L666.4,1469.5 L667.4,1469.5 L668.4,1469.5 L669.4,1469.4 L670.4,1469.4 L671.4,1469.4 L672.4,1469.3 L673.4,1469.3 L674.4,1469.2 L675.4,1469.2 L676.4,1469.1 L677.4,1469.1 L678.4,1469 L679.4,1469 L680.4,1468.9 L681.4,1468.9 L682.4,1468.8 L683.4,1468.8 L684.4,1468.7 L685.4,1468.6 L686.4,1468.6 L687.4,1468.5 L688.4,1468.4 L689.4,1468.4 L690.4,1468.3 L691.4,1468.2 L692.4,1468.1 L693.4,1468.1 L694.4,1468 L695.4,1467.9 L696.4,1467.8 L697.4,1467.7 L698.4,1467.6 L699.4,1467.5 L700.4,1467.4 L701.4,1467.3 L702.4,1467.2 L703.4,1467.1 L704.4,1467 L705.4,1466.9 L706.4,1466.8 L707.4,1466.7 L708.4,1466.5 L709.4,1466.4 L710.4,1466.3 L711.4,1466.1 L712.4,1466 L713.4,1465.9 L714.4,1465.7 L715.4,1465.6 L716.4,1465.4 L717.4,1465.3 L718.4,1465.1 L719.4,1464.9 L720.4,1464.8 L721.4,1464.6 L722.4,1464.4 L723.4,1464.2 L724.4,1464.1 L725.4,1463.9 L726.4,1463.7 L727.4,1463.5 L728.4,1463.3 L729.4,1463 L730.4,1462.8 L731.4,1462.6 L732.4,1462.4 L733.4,1462.2 L734.4,1461.9 L735.4,1461.7 L736.4,1461.4 L737.4,1461.2 L738.4,1460.9 L739.4,1460.6 L740.4,1460.4 L741.4,1460.1 L742.4,1459.8 L743.4,1459.5 L744.4,1459.2 L745.4,1458.9 L746.4,1458.6 L747.4,1458.3 L748.4,1458 L749.4,1457.7 L750.4,1457.3 L751.4,1457 L752.4,1456.7 L753.4,1456.3 L754.4,1455.9 L755.4,1455.6 L756.4,1455.2 L757.4,1454.8 L758.4,1454.4 L759.4,1454.1 L760.4,1453.7 L761.4,1453.2 L762.4,1452.8 L763.4,1452.4 L764.4,1452 L765.4,1451.5 L766.4,1451.1 L767.4,1450.7 L768.4,1450.2 L769.4,1449.7 L770.4,1449.3 L771.4,1448.8 L772.4,1448.3 L773.4,1447.8 L774.4,1447.3 L775.4,1446.8 L776.4,1446.3 L777.4,1445.7 L778.4,1445.2 L779.4,1444.7 L780.4,1444.1 L781.4,1443.6 L782.4,1443 L783.4,1442.4 L784.4,1441.9 L785.4,1441.3 L786.4,1440.7 L787.4,1440.1 L788.4,1439.5 L789.4,1438.9 L790.4,1438.2 L791.4,1437.6 L792.4,1437 L793.4,1436.3 L794.4,1435.7 L795.4,1435 L796.4,1434.4 L797.4,1433.7 L798.4,1433 L799.4,1432.4 L800.4,1431.7 L801.4,1431 L802.4,1430.3 L803.4,1429.6 L804.4,1428.9 L805.4,1428.1 L806.4,1427.4 L807.4,1426.7 L808.4,1426 L809.4,1425.2 L810.4,1424.5 L811.4,1423.7 L812.4,1423 L813.4,1422.2 L814.4,1421.4 L815.4,1420.7 L816.4,1419.9 L817.4,1419.1 L818.4,1418.3 L819.4,1417.6 L820.4,1416.8 L821.4,1416 L822.4,1415.2 L823.4,1414.4 L824.4,1413.6 L825.4,1412.8 L826.4,1412 L827.4,1411.2 L828.4,1410.4 L829.4,1409.6 L830.4,1408.8 L831.4,1408 L832.4,1407.2 L833.4,1406.3 L834.4,1405.5 L835.4,1404.7 L836.4,1403.9 L837.4,1403.1 L838.4,1402.3 L839.4,1401.5 L840.4,1400.7 L841.4,1399.9 L842.4,1399.1 L843.4,1398.3 L844.4,1397.5 L845.4,1396.7 L846.4,1395.9 L847.4,1395.1 L848.4,1394.3 L849.4,1393.5 L850.4,1392.7 L851.4,1392 L852.4,1391.2 L853.4,1390.4 L854.4,1389.7 L855.4,1388.9 L856.4,1388.2 L857.4,1387.4 L858.4,1386.7 L859.4,1386 L860.4,1385.2 L861.4,1384.5 L862.4,1383.8 L863.4,1383.1 L864.4,1382.4 L865.4,1381.7 L866.4,1381.1 L867.4,1380.4 L868.4,1379.7 L869.4,1379.1 L870.4,1378.5 L871.4,1377.8 L872.4,1377.2 L873.4,1376.6 L874.4,1376 L875.4,1375.4 L876.4,1374.8 L877.4,1374.3 L878.4,1373.7 L879.4,1373.2 L880.4,1372.7 L881.4,1372.2 L882.4,1371.7 L883.4,1371.2 L884.4,1370.7 L885.4,1370.2 L886.4,1369.8 L887.4,1369.4 L888.4,1368.9 L889.4,1368.5 L890.4,1368.1 L891.4,1367.8 L892.4,1367.4 L893.4,1367.1 L894.4,1366.7 L895.4,1366.4 L896.4,1366.1 L897.4,1365.8 L898.4,1365.6 L899.4,1365.3 L900.4,1365.1 L901.4,1364.8 L902.4,1364.6 L903.4,1364.4 L904.4,1364.3 L905.4,1364.1 L906.4,1364 L907.4,1363.8 L908.4,1363.7 L909.4,1363.6 L910.4,1363.6 L911.4,1363.5 L912.4,1363.5 L913.4,1363.4 L914.4,1363.4 L915.4,1363.4 L916.4,1363.5 L917.4,1363.5 L918.4,1363.6 L919.4,1363.6 L920.4,1363.7 L921.4,1363.8 L922.4,1364 L923.4,1364.1 L924.4,1364.3 L925.4,1364.4 L926.4,1364.6 L927.4,1364.8 L928.4,1365.1 L929.4,1365.3 L930.4,1365.6 L931.4,1365.8 L932.4,1366.1 L933.4,1366.4 L934.4,1366.7 L935.4,1367.1 L936.4,1367.4 L937.4,1367.8 L938.4,1368.1 L939.4,1368.5 L940.4,1368.9 L941.4,1369.4 L942.4,1369.8 L943.4,1370.2 L944.4,1370.7 L945.4,1371.2 L946.4,1371.7 L947.4,1372.2 L948.4,1372.7 L949.4,1373.2 L950.4,1373.7 L951.4,1374.3 L952.4,1374.9 L953.4,1375.4 L954.4,1376 L955.4,1376.6 L956.4,1377.2 L957.4,1377.8 L958.4,1378.5 L959.4,1379.1 L960.4,1379.7 L961.4,1380.4 L962.4,1381.1 L963.4,1381.7 L964.4,1382.4 L965.4,1383.1 L966.4,1383.8 L967.4,1384.5 L968.4,1385.2 L969.4,1386 L970.4,1386.7 L971.4,1387.4 L972.4,1388.2 L973.4,1388.9 L974.4,1389.7 L975.4,1390.4 L976.4,1391.2 L977.4,1392 L978.4,1392.7 L979.4,1393.5 L980.4,1394.3 L981.4,1395.1 L982.4,1395.9 L983.4,1396.7 L984.4,1397.5 L985.4,1398.3 L986.4,1399.1 L987.4,1399.9 L988.4,1400.7 L989.4,1401.5 L990.4,1402.3 L991.4,1403.1 L992.4,1403.9 L993.4,1404.7 L994.4,1405.5 L995.4,1406.4 L996.4,1407.2 L997.4,1408 L998.4,1408.8 L999.4,1409.6 L1000.4,1410.4 L1001.4,1411.2 L1002.4,1412 L1003.4,1412.8 L1004.4,1413.6 L1005.4,1414.4 L1006.4,1415.2 L1007.4,1416 L1008.4,1416.8 L1009.4,1417.6 L1010.4,1418.4 L1011.4,1419.1 L1012.4,1419.9 L1013.4,1420.7 L1014.4,1421.5 L1015.4,1422.2 L1016.4,1423 L1017.4,1423.7 L1018.4,1424.5 L1019.4,1425.2 L1020.4,1426 L1021.4,1426.7 L1022.4,1427.4 L1023.4,1428.1 L1024.4,1428.9 L1025.4,1429.6 L1026.4,1430.3 L1027.4,1431 L1028.4,1431.7 L1029.4,1432.4 L1030.4,1433 L1031.4,1433.7 L1032.4,1434.4 L1033.4,1435 L1034.4,1435.7 L1035.4,1436.4 L1036.4,1437 L1037.4,1437.6 L1038.4,1438.3 L1039.4,1438.9 L1040.4,1439.5 L1041.4,1440.1 L1042.4,1440.7 L1043.4,1441.3 L1044.4,1441.9 L1045.4,1442.4 L1046.4,1443 L1047.4,1443.6 L1048.4,1444.1 L1049.4,1444.7 L1050.4,1445.2 L1051.4,1445.8 L1052.4,1446.3 L1053.4,1446.8 L1054.4,1447.3 L1055.4,1447.8 L1056.4,1448.3 L1057.4,1448.8 L1058.4,1449.3 L1059.4,1449.7 L1060.4,1450.2 L1061.4,1450.7 L1062.4,1451.1 L1063.4,1451.6 L1064.4,1452 L1065.4,1452.4 L1066.4,1452.8 L1067.4,1453.3 L1068.4,1453.7 L1069.4,1454.1 L1070.4,1454.5 L1071.4,1454.8 L1072.4,1455.2 L1073.4,1455.6 L1074.4,1456 L1075.4,1456.3 L1076.4,1456.7 L1077.4,1457 L1078.4,1457.4 L1079.4,1457.7 L1080.4,1458 L1081.4,1458.3 L1082.4,1458.6 L1083.4,1459 L1084.4,1459.3 L1085.4,1459.5 L1086.4,1459.8 L1087.4,1460.1 L1088.4,1460.4 L1089.4,1460.7 L1090.4,1460.9 L1091.4,1461.2 L1092.4,1461.4 L1093.4,1461.7 L1094.4,1461.9 L1095.4,1462.2 L1096.4,1462.4 L1097.4,1462.6 L1098.4,1462.8 L1099.4,1463.1 L1100.4,1463.3 L1101.4,1463.5 L1102.4,1463.7 L1103.4,1463.9 L1104.4,1464.1 L1105.4,1464.3 L1106.4,1464.4 L1107.4,1464.6 L1108.4,1464.8 L1109.4,1465 L1110.4,1465.1 L1111.4,1465.3 L1112.4,1465.4 L1113.4,1465.6 L1114.4,1465.7 L1115.4,1465.9 L1116.4,1466 L1117.4,1466.2 L1118.4,1466.3 L1119.4,1466.4 L1120.4,1466.6 L1121.4,1466.7 L1122.4,1466.8 L1123.4,1466.9 L1124.4,1467 L1125.4,1467.1 L1126.4,1467.3 L1127.4,1467.4 L1128.4,1467.5 L1129.4,1467.6 L1130.4,1467.7 L1131.4,1467.7 L1132.4,1467.8 L1133.4,1467.9 L1134.4,1468 L1135.4,1468.1 L1136.4,1468.2 L1137.4,1468.2 L1138.4,1468.3 L1139.4,1468.4 L1140.4,1468.5 L1141.4,1468.5 L1142.4,1468.6 L1143.4,1468.7 L1144.4,1468.7 L1145.4,1468.8 L1146.4,1468.9 L1147.4,1468.9 L1148.4,1469 L1149.4,1469 L1150.4,1469.1 L1151.4,1469.1 L1152.4,1469.2 L1153.4,1469.2 L1154.4,1469.3 L1155.4,1469.3 L1156.4,1469.3 L1157.4,1469.4 L1158.4,1469.4 L1159.4,1469.5 L1160.4,1469.5 L1161.4,1469.5 L1162.4,1469.6 L1163.4,1469.6 L1164.4,1469.6 L1165.4,1469.7 L1166.4,1469.7 L1167.4,1469.7 L1168.4,1469.8 L1169.4,1469.8 L1170.4,1469.8 L1171.4,1469.8 L1172.4,1469.9 L1173.4,1469.9 L1174.4,1469.9 L1175.4,1469.9 L1176.4,1469.9 L1177.4,1470 L1178.4,1470 L1179.4,1470 L1180.4,1470 L1181.4,1470 L1182.4,1470.1 L1183.4,1470.1 L1184.4,1470.1 L1185.4,1470.1 L1186.4,1470.1 L1187.4,1470.1 L1188.4,1470.1 L1189.4,1470.2 L1190.4,1470.2 L1191.4,1470.2 L1192.4,1470.2 L1193.4,1470.2 L1194.4,1470.2 L1195.4,1470.2 L1196.4,1470.2 L1197.4,1470.2 L1198.4,1470.3 L1199.4,1470.3 L1200.4,1470.3 L1201.4,1470.3 L1202.4,1470.3 L1203.4,1470.3 L1204.4,1470.3 L1205.4,1470.3 L1206.4,1470.3 L1207.4,1470.3 L1208.4,1470.3 L1209.4,1470.3 L1210.4,1470.3 L1211.4,1470.3 L1212.4,1470.3 L1213.4,1470.4 L1214.4,1470.4 L1215.4,1470.4 L1216.4,1470.4 L1217.4,1470.4 L1218.4,1470.4 L1219.4,1470.4 L1220.4,1470.4 L1221.4,1470.4 L1222.4,1470.4 L1223.4,1470.4 L1224.4,1470.4 L1225.4,1470.4 L1226.4,1470.4 L1227.4,1470.4 L1228.4,1470.4 L1229.4,1470.4 L1230.4,1470.4 L1231.4,1470.4 L1232.4,1470.4 L1233.4,1470.4 L1234.4,1470.4 L1235.4,1470.4 L1236.4,1470.4 L1237.4,1470.4 L1238.4,1470.4 L1239.4,1470.4 L1240.4,1470.4 L1241.4,1470.4 L1242.4,1470.4 L1243.4,1470.4 L1244.4,1470.4 L1245.4,1470.4 L1246.4,1470.4 L1247.4,1470.4 L1248.4,1470.4 L1249.4,1470.4 L1250.4,1470.4" fill="none" stroke="#DD0000" stroke-width="6.5" stroke-linejoin="round"/>
<path d="M841.3,1470.4 L842.3,1470.4 L843.3,1470.4 L844.3,1470.4 L845.3,1470.4 L846.3,1470.4 L847.3,1470.4 L848.3,1470.4 L849.3,1470.4 L850.3,1470.4 L851.3,1470.4 L852.3,1470.3 L853.3,1470.3 L854.3,1470.3 L855.3,1470.3 L856.3,1470.3 L857.3,1470.3 L858.3,1470.3 L859.3,1470.3 L860.3,1470.3 L861.3,1470.3 L862.3,1470.3 L863.3,1470.3 L864.3,1470.3 L865.3,1470.3 L866.3,1470.3 L867.3,1470.2 L868.3,1470.2 L869.3,1470.2 L870.3,1470.2 L871.3,1470.2 L872.3,1470.2 L873.3,1470.2 L874.3,1470.2 L875.3,1470.1 L876.3,1470.1 L877.3,1470.1 L878.3,1470.1 L879.3,1470.1 L880.3,1470.1 L881.3,1470 L882.3,1470 L883.3,1470 L884.3,1470 L885.3,1469.9 L886.3,1469.9 L887.3,1469.9 L888.3,1469.9 L889.3,1469.8 L890.3,1469.8 L891.3,1469.8 L892.3,1469.7 L893.3,1469.7 L894.3,1469.7 L895.3,1469.6 L896.3,1469.6 L897.3,1469.5 L898.3,1469.5 L899.3,1469.5 L900.3,1469.4 L901.3,1469.4 L902.3,1469.3 L903.3,1469.3 L904.3,1469.2 L905.3,1469.1 L906.3,1469.1 L907.3,1469 L908.3,1468.9 L909.3,1468.9 L910.3,1468.8 L911.3,1468.7 L912.3,1468.6 L913.3,1468.6 L914.3,1468.5 L915.3,1468.4 L916.3,1468.3 L917.3,1468.2 L918.3,1468.1 L919.3,1468 L920.3,1467.9 L921.3,1467.8 L922.3,1467.7 L923.3,1467.5 L924.3,1467.4 L925.3,1467.3 L926.3,1467.1 L927.3,1467 L928.3,1466.9 L929.3,1466.7 L930.3,1466.5 L931.3,1466.4 L932.3,1466.2 L933.3,1466 L934.3,1465.8 L935.3,1465.7 L936.3,1465.5 L937.3,1465.3 L938.3,1465 L939.3,1464.8 L940.3,1464.6 L941.3,1464.4 L942.3,1464.1 L943.3,1463.9 L944.3,1463.6 L945.3,1463.3 L946.3,1463.1 L947.3,1462.8 L948.3,1462.5 L949.3,1462.2 L950.3,1461.9 L951.3,1461.5 L952.3,1461.2 L953.3,1460.8 L954.3,1460.5 L955.3,1460.1 L956.3,1459.7 L957.3,1459.3 L958.3,1458.9 L959.3,1458.5 L960.3,1458.1 L961.3,1457.6 L962.3,1457.2 L963.3,1456.7 L964.3,1456.2 L965.3,1455.7 L966.3,1455.2 L967.3,1454.7 L968.3,1454.1 L969.3,1453.5 L970.3,1453 L971.3,1452.4 L972.3,1451.8 L973.3,1451.1 L974.3,1450.5 L975.3,1449.8 L976.3,1449.1 L977.3,1448.4 L978.3,1447.7 L979.3,1447 L980.3,1446.2 L981.3,1445.5 L982.3,1444.7 L983.3,1443.9 L984.3,1443 L985.3,1442.2 L986.3,1441.3 L987.3,1440.4 L988.3,1439.5 L989.3,1438.5 L990.3,1437.6 L991.3,1436.6 L992.3,1435.6 L993.3,1434.6 L994.3,1433.5 L995.3,1432.4 L996.3,1431.3 L997.3,1430.2 L998.3,1429.1 L999.3,1427.9 L1000.3,1426.7 L1001.3,1425.5 L1002.3,1424.2 L1003.3,1423 L1004.3,1421.7 L1005.3,1420.3 L1006.3,1419 L1007.3,1417.6 L1008.3,1416.2 L1009.3,1414.8 L1010.3,1413.3 L1011.3,1411.9 L1012.3,1410.4 L1013.3,1408.8 L1014.3,1407.3 L1015.3,1405.7 L1016.3,1404.1 L1017.3,1402.5 L1018.3,1400.8 L1019.3,1399.1 L1020.3,1397.4 L1021.3,1395.7 L1022.3,1393.9 L1023.3,1392.1 L1024.3,1390.3 L1025.3,1388.4 L1026.3,1386.6 L1027.3,1384.7 L1028.3,1382.7 L1029.3,1380.8 L1030.3,1378.8 L1031.3,1376.8 L1032.3,1374.8 L1033.3,1372.8 L1034.3,1370.7 L1035.3,1368.6 L1036.3,1366.5 L1037.3,1364.3 L1038.3,1362.2 L1039.3,1360 L1040.3,1357.8 L1041.3,1355.6 L1042.3,1353.3 L1043.3,1351 L1044.3,1348.7 L1045.3,1346.4 L1046.3,1344.1 L1047.3,1341.8 L1048.3,1339.4 L1049.3,1337 L1050.3,1334.6 L1051.3,1332.2 L1052.3,1329.8 L1053.3,1327.4 L1054.3,1324.9 L1055.3,1322.4 L1056.3,1320 L1057.3,1317.5 L1058.3,1315 L1059.3,1312.5 L1060.3,1309.9 L1061.3,1307.4 L1062.3,1304.9 L1063.3,1302.3 L1064.3,1299.8 L1065.3,1297.3 L1066.3,1294.7 L1067.3,1292.2 L1068.3,1289.6 L1069.3,1287 L1070.3,1284.5 L1071.3,1281.9 L1072.3,1279.4 L1073.3,1276.8 L1074.3,1274.3 L1075.3,1271.8 L1076.3,1269.2 L1077.3,1266.7 L1078.3,1264.2 L1079.3,1261.7 L1080.3,1259.2 L1081.3,1256.8 L1082.3,1254.3 L1083.3,1251.9 L1084.3,1249.4 L1085.3,1247 L1086.3,1244.6 L1087.3,1242.3 L1088.3,1239.9 L1089.3,1237.6 L1090.3,1235.3 L1091.3,1233 L1092.3,1230.7 L1093.3,1228.5 L1094.3,1226.3 L1095.3,1224.1 L1096.3,1222 L1097.3,1219.9 L1098.3,1217.8 L1099.3,1215.7 L1100.3,1213.7 L1101.3,1211.7 L1102.3,1209.8 L1103.3,1207.9 L1104.3,1206 L1105.3,1204.2 L1106.3,1202.4 L1107.3,1200.7 L1108.3,1199 L1109.3,1197.3 L1110.3,1195.7 L1111.3,1194.1 L1112.3,1192.6 L1113.3,1191.1 L1114.3,1189.7 L1115.3,1188.3 L1116.3,1187 L1117.3,1185.7 L1118.3,1184.5 L1119.3,1183.3 L1120.3,1182.2 L1121.3,1181.1 L1122.3,1180.1 L1123.3,1179.1 L1124.3,1178.2 L1125.3,1177.4 L1126.3,1176.6 L1127.3,1175.8 L1128.3,1175.1 L1129.3,1174.5 L1130.3,1173.9 L1131.3,1173.4 L1132.3,1173 L1133.3,1172.6 L1134.3,1172.2 L1135.3,1172 L1136.3,1171.7 L1137.3,1171.6 L1138.3,1171.5 L1139.3,1171.4 L1140.3,1171.5 L1141.3,1171.5 L1142.3,1171.7 L1143.3,1171.9 L1144.3,1172.1 L1145.3,1172.4 L1146.3,1172.8 L1147.3,1173.2 L1148.3,1173.7 L1149.3,1174.3 L1150.3,1174.9 L1151.3,1175.5 L1152.3,1176.3 L1153.3,1177 L1154.3,1177.9 L1155.3,1178.8 L1156.3,1179.7 L1157.3,1180.7 L1158.3,1181.7 L1159.3,1182.9 L1160.3,1184 L1161.3,1185.2 L1162.3,1186.5 L1163.3,1187.8 L1164.3,1189.1 L1165.3,1190.6 L1166.3,1192 L1167.3,1193.5 L1168.3,1195.1 L1169.3,1196.7 L1170.3,1198.3 L1171.3,1200 L1172.3,1201.7 L1173.3,1203.5 L1174.3,1205.3 L1175.3,1207.1 L1176.3,1209 L1177.3,1211 L1178.3,1212.9 L1179.3,1214.9 L1180.3,1217 L1181.3,1219 L1182.3,1221.1 L1183.3,1223.3 L1184.3,1225.4 L1185.3,1227.6 L1186.3,1229.8 L1187.3,1232.1 L1188.3,1234.4 L1189.3,1236.7 L1190.3,1239 L1191.3,1241.3 L1192.3,1243.7 L1193.3,1246.1 L1194.3,1248.5 L1195.3,1250.9 L1196.3,1253.3 L1197.3,1255.8 L1198.3,1258.3 L1199.3,1260.7 L1200.3,1263.2 L1201.3,1265.7 L1202.3,1268.2 L1203.3,1270.8 L1204.3,1273.3 L1205.3,1275.8 L1206.3,1278.4 L1207.3,1280.9 L1208.3,1283.5 L1209.3,1286 L1210.3,1288.6 L1211.3,1291.1 L1212.3,1293.7 L1213.3,1296.2 L1214.3,1298.8 L1215.3,1301.3 L1216.3,1303.9 L1217.3,1306.4 L1218.3,1308.9 L1219.3,1311.5 L1220.3,1314 L1221.3,1316.5 L1222.3,1319 L1223.3,1321.5 L1224.3,1323.9 L1225.3,1326.4 L1226.3,1328.8 L1227.3,1331.3 L1228.3,1333.7 L1229.3,1336.1 L1230.3,1338.5 L1231.3,1340.8 L1232.3,1343.2 L1233.3,1345.5 L1234.3,1347.8 L1235.3,1350.1 L1236.3,1352.4 L1237.3,1354.7 L1238.3,1356.9 L1239.3,1359.1 L1240.3,1361.3 L1241.3,1363.5 L1242.3,1365.6 L1243.3,1367.8 L1244.3,1369.9 L1245.3,1371.9 L1246.3,1374 L1247.3,1376 L1248.3,1378 L1249.3,1380 L1250.3,1382 L1251.3,1383.9 L1252.3,1385.8 L1253.3,1387.7 L1254.3,1389.5 L1255.3,1391.4 L1256.3,1393.2 L1257.3,1395 L1258.3,1396.7 L1259.3,1398.4 L1260.3,1400.1 L1261.3,1401.8 L1262.3,1403.5 L1263.3,1405.1 L1264.3,1406.7 L1265.3,1408.2 L1266.3,1409.8 L1267.3,1411.3 L1268.3,1412.8 L1269.3,1414.2 L1270.3,1415.7 L1271.3,1417.1 L1272.3,1418.5 L1273.3,1419.8 L1274.3,1421.1 L1275.3,1422.4 L1276.3,1423.7 L1277.3,1425 L1278.3,1426.2 L1279.3,1427.4 L1280.3,1428.6 L1281.3,1429.8 L1282.3,1430.9 L1283.3,1432 L1284.3,1433.1 L1285.3,1434.1 L1286.3,1435.2 L1287.3,1436.2 L1288.3,1437.2 L1289.3,1438.2 L1290.3,1439.1 L1291.3,1440 L1292.3,1440.9 L1293.3,1441.8 L1294.3,1442.7 L1295.3,1443.5 L1296.3,1444.4 L1297.3,1445.2 L1298.3,1445.9 L1299.3,1446.7 L1300.3,1447.4 L1301.3,1448.2 L1302.3,1448.9 L1303.3,1449.6 L1304.3,1450.2 L1305.3,1450.9 L1306.3,1451.5 L1307.3,1452.1 L1308.3,1452.7 L1309.3,1453.3 L1310.3,1453.9 L1311.3,1454.4 L1312.3,1455 L1313.3,1455.5 L1314.3,1456 L1315.3,1456.5 L1316.3,1457 L1317.3,1457.5 L1318.3,1457.9 L1319.3,1458.3 L1320.3,1458.8 L1321.3,1459.2 L1322.3,1459.6 L1323.3,1460 L1324.3,1460.3 L1325.3,1460.7 L1326.3,1461.1 L1327.3,1461.4 L1328.3,1461.7 L1329.3,1462.1 L1330.3,1462.4 L1331.3,1462.7 L1332.3,1463 L1333.3,1463.2 L1334.3,1463.5 L1335.3,1463.8 L1336.3,1464 L1337.3,1464.3 L1338.3,1464.5 L1339.3,1464.8 L1340.3,1465 L1341.3,1465.2 L1342.3,1465.4 L1343.3,1465.6 L1344.3,1465.8 L1345.3,1466 L1346.3,1466.2 L1347.3,1466.3 L1348.3,1466.5 L1349.3,1466.7 L1350.3,1466.8 L1351.3,1467 L1352.3,1467.1 L1353.3,1467.2 L1354.3,1467.4 L1355.3,1467.5 L1356.3,1467.6 L1357.3,1467.8 L1358.3,1467.9 L1359.3,1468 L1360.3,1468.1 L1361.3,1468.2 L1362.3,1468.3 L1363.3,1468.4 L1364.3,1468.5 L1365.3,1468.6 L1366.3,1468.6 L1367.3,1468.7 L1368.3,1468.8 L1369.3,1468.9 L1370.3,1468.9 L1371.3,1469 L1372.3,1469.1 L1373.3,1469.1 L1374.3,1469.2 L1375.3,1469.3 L1376.3,1469.3 L1377.3,1469.4 L1378.3,1469.4 L1379.3,1469.5 L1380.3,1469.5 L1381.3,1469.6 L1382.3,1469.6 L1383.3,1469.6 L1384.3,1469.7 L1385.3,1469.7 L1386.3,1469.7 L1387.3,1469.8 L1388.3,1469.8 L1389.3,1469.8 L1390.3,1469.9 L1391.3,1469.9 L1392.3,1469.9 L1393.3,1470 L1394.3,1470 L1395.3,1470 L1396.3,1470 L1397.3,1470 L1398.3,1470.1 L1399.3,1470.1 L1400.3,1470.1 L1401.3,1470.1 L1402.3,1470.1 L1403.3,1470.2 L1404.3,1470.2 L1405.3,1470.2 L1406.3,1470.2 L1407.3,1470.2 L1408.3,1470.2 L1409.3,1470.2 L1410.3,1470.3 L1411.3,1470.3 L1412.3,1470.3 L1413.3,1470.3 L1414.3,1470.3 L1415.3,1470.3 L1416.3,1470.3 L1417.3,1470.3 L1418.3,1470.3 L1419.3,1470.3 L1420.3,1470.3 L1421.3,1470.3 L1422.3,1470.4 L1423.3,1470.4 L1424.3,1470.4 L1425.3,1470.4 L1426.3,1470.4 L1427.3,1470.4 L1428.3,1470.4 L1429.3,1470.4 L1430.3,1470.4 L1431.3,1470.4 L1432.3,1470.4 L1433.3,1470.4 L1434.3,1470.4 L1435.3,1470.4 L1436.3,1470.4 L1437.3,1470.4" fill="none" stroke="#DD0000" stroke-width="6.5" stroke-linejoin="round"/>
<path d="M1100.2,1470.4 L1101.2,1470.4 L1102.2,1470.4 L1103.2,1470.4 L1104.2,1470.4 L1105.2,1470.4 L1106.2,1470.4 L1107.2,1470.4 L1108.2,1470.4 L1109.2,1470.4 L1110.2,1470.4 L1111.2,1470.4 L1112.2,1470.3 L1113.2,1470.3 L1114.2,1470.3 L1115.2,1470.3 L1116.2,1470.3 L1117.2,1470.3 L1118.2,1470.3 L1119.2,1470.2 L1120.2,1470.2 L1121.2,1470.2 L1122.2,1470.2 L1123.2,1470.1 L1124.2,1470.1 L1125.2,1470.1 L1126.2,1470 L1127.2,1470 L1128.2,1469.9 L1129.2,1469.9 L1130.2,1469.8 L1131.2,1469.8 L1132.2,1469.7 L1133.2,1469.6 L1134.2,1469.6 L1135.2,1469.5 L1136.2,1469.4 L1137.2,1469.3 L1138.2,1469.2 L1139.2,1469.1 L1140.2,1469 L1141.2,1468.8 L1142.2,1468.7 L1143.2,1468.6 L1144.2,1468.4 L1145.2,1468.2 L1146.2,1468 L1147.2,1467.8 L1148.2,1467.6 L1149.2,1467.4 L1150.2,1467.1 L1151.2,1466.9 L1152.2,1466.6 L1153.2,1466.3 L1154.2,1466 L1155.2,1465.6 L1156.2,1465.3 L1157.2,1464.9 L1158.2,1464.4 L1159.2,1464 L1160.2,1463.5 L1161.2,1463 L1162.2,1462.5 L1163.2,1462 L1164.2,1461.4 L1165.2,1460.7 L1166.2,1460.1 L1167.2,1459.4 L1168.2,1458.6 L1169.2,1457.9 L1170.2,1457.1 L1171.2,1456.2 L1172.2,1455.3 L1173.2,1454.4 L1174.2,1453.4 L1175.2,1452.3 L1176.2,1451.2 L1177.2,1450.1 L1178.2,1448.9 L1179.2,1447.7 L1180.2,1446.4 L1181.2,1445 L1182.2,1443.6 L1183.2,1442.1 L1184.2,1440.6 L1185.2,1439 L1186.2,1437.4 L1187.2,1435.7 L1188.2,1433.9 L1189.2,1432.1 L1190.2,1430.2 L1191.2,1428.2 L1192.2,1426.2 L1193.2,1424.1 L1194.2,1422 L1195.2,1419.8 L1196.2,1417.6 L1197.2,1415.2 L1198.2,1412.9 L1199.2,1410.4 L1200.2,1407.9 L1201.2,1405.4 L1202.2,1402.8 L1203.2,1400.1 L1204.2,1397.4 L1205.2,1394.7 L1206.2,1391.9 L1207.2,1389.1 L1208.2,1386.2 L1209.2,1383.3 L1210.2,1380.3 L1211.2,1377.3 L1212.2,1374.3 L1213.2,1371.3 L1214.2,1368.3 L1215.2,1365.2 L1216.2,1362.1 L1217.2,1359 L1218.2,1355.9 L1219.2,1352.8 L1220.2,1349.7 L1221.2,1346.7 L1222.2,1343.6 L1223.2,1340.6 L1224.2,1337.6 L1225.2,1334.6 L1226.2,1331.6 L1227.2,1328.7 L1228.2,1325.9 L1229.2,1323.1 L1230.2,1320.3 L1231.2,1317.6 L1232.2,1315 L1233.2,1312.4 L1234.2,1310 L1235.2,1307.6 L1236.2,1305.3 L1237.2,1303 L1238.2,1300.9 L1239.2,1298.9 L1240.2,1297 L1241.2,1295.2 L1242.2,1293.5 L1243.2,1291.9 L1244.2,1290.4 L1245.2,1289.1 L1246.2,1287.9 L1247.2,1286.8 L1248.2,1285.8 L1249.2,1285 L1250.2,1284.3 L1251.2,1283.7 L1252.2,1283.3 L1253.2,1283 L1254.2,1282.9 L1255.2,1282.9 L1256.2,1283 L1257.2,1283.3 L1258.2,1283.8 L1259.2,1284.4 L1260.2,1285.1 L1261.2,1286 L1262.2,1287 L1263.2,1288.2 L1264.2,1289.6 L1265.2,1291 L1266.2,1292.6 L1267.2,1294.3 L1268.2,1296.2 L1269.2,1298.2 L1270.2,1300.2 L1271.2,1302.4 L1272.2,1304.8 L1273.2,1307.2 L1274.2,1309.7 L1275.2,1312.3 L1276.2,1314.9 L1277.2,1317.7 L1278.2,1320.5 L1279.2,1323.4 L1280.2,1326.4 L1281.2,1329.4 L1282.2,1332.5 L1283.2,1335.6 L1284.2,1338.7 L1285.2,1341.9 L1286.2,1345.1 L1287.2,1348.4 L1288.2,1351.6 L1289.2,1354.8 L1290.2,1358.1 L1291.2,1361.3 L1292.2,1364.6 L1293.2,1367.8 L1294.2,1371 L1295.2,1374.2 L1296.2,1377.4 L1297.2,1380.5 L1298.2,1383.6 L1299.2,1386.7 L1300.2,1389.7 L1301.2,1392.7 L1302.2,1395.6 L1303.2,1398.5 L1304.2,1401.3 L1305.2,1404 L1306.2,1406.7 L1307.2,1409.4 L1308.2,1412 L1309.2,1414.5 L1310.2,1416.9 L1311.2,1419.3 L1312.2,1421.7 L1313.2,1423.9 L1314.2,1426.1 L1315.2,1428.2 L1316.2,1430.3 L1317.2,1432.2 L1318.2,1434.2 L1319.2,1436 L1320.2,1437.8 L1321.2,1439.5 L1322.2,1441.1 L1323.2,1442.7 L1324.2,1444.2 L1325.2,1445.7 L1326.2,1447.1 L1327.2,1448.4 L1328.2,1449.7 L1329.2,1450.9 L1330.2,1452.1 L1331.2,1453.2 L1332.2,1454.2 L1333.2,1455.2 L1334.2,1456.2 L1335.2,1457.1 L1336.2,1457.9 L1337.2,1458.7 L1338.2,1459.5 L1339.2,1460.2 L1340.2,1460.9 L1341.2,1461.6 L1342.2,1462.2 L1343.2,1462.8 L1344.2,1463.3 L1345.2,1463.8 L1346.2,1464.3 L1347.2,1464.7 L1348.2,1465.1 L1349.2,1465.5 L1350.2,1465.9 L1351.2,1466.2 L1352.2,1466.6 L1353.2,1466.9 L1354.2,1467.1 L1355.2,1467.4 L1356.2,1467.6 L1357.2,1467.9 L1358.2,1468.1 L1359.2,1468.3 L1360.2,1468.4 L1361.2,1468.6 L1362.2,1468.8 L1363.2,1468.9 L1364.2,1469 L1365.2,1469.2 L1366.2,1469.3 L1367.2,1469.4 L1368.2,1469.5 L1369.2,1469.6 L1370.2,1469.6 L1371.2,1469.7 L1372.2,1469.8 L1373.2,1469.8 L1374.2,1469.9 L1375.2,1470 L1376.2,1470 L1377.2,1470 L1378.2,1470.1 L1379.2,1470.1 L1380.2,1470.2 L1381.2,1470.2 L1382.2,1470.2 L1383.2,1470.2 L1384.2,1470.3 L1385.2,1470.3 L1386.2,1470.3 L1387.2,1470.3 L1388.2,1470.3 L1389.2,1470.3 L1390.2,1470.4 L1391.2,1470.4 L1392.2,1470.4 L1393.2,1470.4 L1394.2,1470.4 L1395.2,1470.4 L1396.2,1470.4 L1397.2,1470.4 L1398.2,1470.4 L1399.2,1470.4 L1400.2,1470.4 L1401.2,1470.4" fill="none" stroke="#DD0000" stroke-width="6.5" stroke-linejoin="round"/>
<line x1="120" y1="1470.4" x2="2311" y2="1470.5" stroke="#DD0000" stroke-width="7.5"/>
<path d="M120,1859.3 L121,1859.3 L122,1859.3 L123,1859.3 L124,1859.3 L125,1859.3 L126,1859.3 L127,1859.3 L128,1859.3 L129,1859.3 L130,1859.3 L131,1859.3 L132,1859.3 L133,1859.3 L134,1859.3 L135,1859.3 L136,1859.3 L137,1859.3 L138,1859.3 L139,1859.3 L140,1859.3 L141,1859.3 L142,1859.3 L143,1859.3 L144,1859.3 L145,1859.3 L146,1859.3 L147,1859.3 L148,1859.3 L149,1859.3 L150,1859.3 L151,1859.3 L152,1859.3 L153,1859.3 L154,1859.3 L155,1859.3 L156,1859.3 L157,1859.3 L158,1859.3 L159,1859.3 L160,1859.3 L161,1859.3 L162,1859.3 L163,1859.3 L164,1859.3 L165,1859.3 L166,1859.3 L167,1859.3 L168,1859.3 L169,1859.3 L170,1859.3 L171,1859.3 L172,1859.3 L173,1859.3 L174,1859.3 L175,1859.3 L176,1859.3 L177,1859.3 L178,1859.3 L179,1859.3 L180,1859.3 L181,1859.3 L182,1859.3 L183,1859.3 L184,1859.3 L185,1859.3 L186,1859.3 L187,1859.3 L188,1859.3 L189,1859.3 L190,1859.3 L191,1859.3 L192,1859.3 L193,1859.3 L194,1859.3 L195,1859.3 L196,1859.3 L197,1859.3 L198,1859.3 L199,1859.3 L200,1859.3 L201,1859.3 L202,1859.3 L203,1859.3 L204,1859.3 L205,1859.3 L206,1859.3 L207,1859.3 L208,1859.3 L209,1859.3 L210,1859.3 L211,1859.3 L212,1859.3 L213,1859.3 L214,1859.3 L215,1859.3 L216,1859.3 L217,1859.2 L218,1859.2 L219,1859.2 L220,1859.2 L221,1859.2 L222,1859.2 L223,1859.2 L224,1859.2 L225,1859.2 L226,1859.2 L227,1859.2 L228,1859.2 L229,1859.2 L230,1859.2 L231,1859.2 L232,1859.2 L233,1859.2 L234,1859.2 L235,1859.2 L236,1859.2 L237,1859.2 L238,1859.2 L239,1859.2 L240,1859.2 L241,1859.2 L242,1859.2 L243,1859.2 L244,1859.2 L245,1859.2 L246,1859.2 L247,1859.2 L248,1859.2 L249,1859.2 L250,1859.2 L251,1859.2 L252,1859.2 L253,1859.2 L254,1859.2 L255,1859.2 L256,1859.2 L257,1859.2 L258,1859.2 L259,1859.2 L260,1859.2 L261,1859.2 L262,1859.2 L263,1859.2 L264,1859.2 L265,1859.2 L266,1859.2 L267,1859.2 L268,1859.2 L269,1859.2 L270,1859.2 L271,1859.2 L272,1859.2 L273,1859.2 L274,1859.2 L275,1859.2 L276,1859.2 L277,1859.2 L278,1859.2 L279,1859.2 L280,1859.2 L281,1859.2 L282,1859.2 L283,1859.2 L284,1859.2 L285,1859.2 L286,1859.2 L287,1859.2 L288,1859.1 L289,1859.1 L290,1859.1 L291,1859.1 L292,1859.1 L293,1859.1 L294,1859.1 L295,1859.1 L296,1859.1 L297,1859.1 L298,1859.1 L299,1859.1 L300,1859.1 L301,1859.1 L302,1859.1 L303,1859.1 L304,1859.1 L305,1859.1 L306,1859.1 L307,1859.1 L308,1859.1 L309,1859.1 L310,1859.1 L311,1859.1 L312,1859.1 L313,1859.1 L314,1859.1 L315,1859.1 L316,1859.1 L317,1859.1 L318,1859.1 L319,1859.1 L320,1859.1 L321,1859.1 L322,1859.1 L323,1859.1 L324,1859.1 L325,1859.1 L326,1859.1 L327,1859.1 L328,1859.1 L329,1859.1 L330,1859.1 L331,1859.1 L332,1859.1 L333,1859.1 L334,1859.1 L335,1859 L336,1859 L337,1859 L338,1859 L339,1859 L340,1859 L341,1859 L342,1859 L343,1859 L344,1859 L345,1859 L346,1859 L347,1859 L348,1859 L349,1859 L350,1859 L351,1859 L352,1859 L353,1859 L354,1859 L355,1859 L356,1859 L357,1859 L358,1859 L359,1859 L360,1859 L361,1859 L362,1859 L363,1859 L364,1859 L365,1859 L366,1859 L367,1859 L368,1859 L369,1859 L370,1859 L371,1859 L372,1859 L373,1859 L374,1858.9 L375,1858.9 L376,1858.9 L377,1858.9 L378,1858.9 L379,1858.9 L380,1858.9 L381,1858.9 L382,1858.9 L383,1858.9 L384,1858.9 L385,1858.9 L386,1858.9 L387,1858.9 L388,1858.9 L389,1858.9 L390,1858.9 L391,1858.9 L392,1858.9 L393,1858.9 L394,1858.9 L395,1858.9 L396,1858.9 L397,1858.9 L398,1858.9 L399,1858.9 L400,1858.9 L401,1858.9 L402,1858.9 L403,1858.9 L404,1858.9 L405,1858.9 L406,1858.9 L407,1858.8 L408,1858.8 L409,1858.8 L410,1858.8 L411,1858.8 L412,1858.8 L413,1858.8 L414,1858.8 L415,1858.8 L416,1858.8 L417,1858.8 L418,1858.8 L419,1858.8 L420,1858.8 L421,1858.8 L422,1858.8 L423,1858.8 L424,1858.8 L425,1858.8 L426,1858.8 L427,1858.8 L428,1858.8 L429,1858.8 L430,1858.8 L431,1858.8 L432,1858.8 L433,1858.8 L434,1858.8 L435,1858.8 L436,1858.8 L437,1858.7 L438,1858.7 L439,1858.7 L440,1858.7 L441,1858.7 L442,1858.7 L443,1858.7 L444,1858.7 L445,1858.7 L446,1858.7 L447,1858.7 L448,1858.7 L449,1858.7 L450,1858.7 L451,1858.7 L452,1858.7 L453,1858.7 L454,1858.7 L455,1858.7 L456,1858.7 L457,1858.7 L458,1858.7 L459,1858.7 L460,1858.7 L461,1858.7 L462,1858.7 L463,1858.7 L464,1858.6 L465,1858.6 L466,1858.6 L467,1858.6 L468,1858.6 L469,1858.6 L470,1858.6 L471,1858.6 L472,1858.6 L473,1858.6 L474,1858.6 L475,1858.6 L476,1858.6 L477,1858.6 L478,1858.6 L479,1858.6 L480,1858.6 L481,1858.6 L482,1858.6 L483,1858.6 L484,1858.6 L485,1858.6 L486,1858.6 L487,1858.6 L488,1858.6 L489,1858.5 L490,1858.5 L491,1858.5 L492,1858.5 L493,1858.5 L494,1858.5 L495,1858.5 L496,1858.5 L497,1858.5 L498,1858.5 L499,1858.5 L500,1858.5 L501,1858.5 L502,1858.5 L503,1858.5 L504,1858.5 L505,1858.5 L506,1858.5 L507,1858.5 L508,1858.5 L509,1858.5 L510,1858.4 L511,1858.4 L512,1858.4 L513,1858.4 L514,1858.4 L515,1858.4 L516,1858.4 L517,1858.4 L518,1858.4 L519,1858.4 L520,1858.4 L521,1858.4 L522,1858.4 L523,1858.3 L524,1858.3 L525,1858.3 L526,1858.3 L527,1858.3 L528,1858.3 L529,1858.3 L530,1858.3 L531,1858.3 L532,1858.3 L533,1858.2 L534,1858.2 L535,1858.2 L536,1858.2 L537,1858.2 L538,1858.2 L539,1858.2 L540,1858.2 L541,1858.1 L542,1858.1 L543,1858.1 L544,1858.1 L545,1858.1 L546,1858.1 L547,1858.1 L548,1858 L549,1858 L550,1858 L551,1858 L552,1858 L553,1858 L554,1858 L555,1857.9 L556,1857.9 L557,1857.9 L558,1857.9 L559,1857.9 L560,1857.9 L561,1857.8 L562,1857.8 L563,1857.8 L564,1857.8 L565,1857.8 L566,1857.7 L567,1857.7 L568,1857.7 L569,1857.7 L570,1857.7 L571,1857.7 L572,1857.6 L573,1857.6 L574,1857.6 L575,1857.6 L576,1857.6 L577,1857.5 L578,1857.5 L579,1857.5 L580,1857.5 L581,1857.4 L582,1857.4 L583,1857.4 L584,1857.4 L585,1857.4 L586,1857.3 L587,1857.3 L588,1857.3 L589,1857.3 L590,1857.2 L591,1857.2 L592,1857.2 L593,1857.2 L594,1857.1 L595,1857.1 L596,1857.1 L597,1857.1 L598,1857 L599,1857 L600,1857 L601,1857 L602,1856.9 L603,1856.9 L604,1856.9 L605,1856.8 L606,1856.8 L607,1856.8 L608,1856.7 L609,1856.7 L610,1856.6 L611,1856.6 L612,1856.5 L613,1856.5 L614,1856.4 L615,1856.4 L616,1856.3 L617,1856.3 L618,1856.2 L619,1856.2 L620,1856.1 L621,1856.1 L622,1856 L623,1855.9 L624,1855.9 L625,1855.8 L626,1855.7 L627,1855.7 L628,1855.6 L629,1855.5 L630,1855.5 L631,1855.4 L632,1855.3 L633,1855.3 L634,1855.2 L635,1855.1 L636,1855 L637,1855 L638,1854.9 L639,1854.8 L640,1854.7 L641,1854.7 L642,1854.6 L643,1854.5 L644,1854.4 L645,1854.4 L646,1854.3 L647,1854.2 L648,1854.1 L649,1854.1 L650,1854 L651,1853.9 L652,1853.8 L653,1853.8 L654,1853.7 L655,1853.6 L656,1853.5 L657,1853.5 L658,1853.4 L659,1853.3 L660,1853.2 L661,1853.1 L662,1853.1 L663,1853 L664,1852.9 L665,1852.8 L666,1852.7 L667,1852.6 L668,1852.5 L669,1852.4 L670,1852.4 L671,1852.3 L672,1852.2 L673,1852.1 L674,1852 L675,1851.9 L676,1851.8 L677,1851.7 L678,1851.6 L679,1851.5 L680,1851.4 L681,1851.3 L682,1851.2 L683,1851.1 L684,1851 L685,1850.9 L686,1850.8 L687,1850.7 L688,1850.5 L689,1850.4 L690,1850.3 L691,1850.2 L692,1850.1 L693,1850 L694,1849.8 L695,1849.7 L696,1849.6 L697,1849.5 L698,1849.4 L699,1849.2 L700,1849.1 L701,1849 L702,1848.8 L703,1848.7 L704,1848.5 L705,1848.4 L706,1848.2 L707,1848.1 L708,1847.9 L709,1847.8 L710,1847.6 L711,1847.4 L712,1847.3 L713,1847.1 L714,1846.9 L715,1846.7 L716,1846.6 L717,1846.4 L718,1846.2 L719,1846 L720,1845.8 L721,1845.6 L722,1845.4 L723,1845.2 L724,1845 L725,1844.8 L726,1844.6 L727,1844.4 L728,1844.2 L729,1844 L730,1843.8 L731,1843.6 L732,1843.4 L733,1843.2 L734,1843 L735,1842.8 L736,1842.6 L737,1842.4 L738,1842.2 L739,1842 L740,1841.8 L741,1841.6 L742,1841.4 L743,1841.2 L744,1841 L745,1840.8 L746,1840.6 L747,1840.4 L748,1840.2 L749,1840 L750,1839.8 L751,1839.6 L752,1839.4 L753,1839.2 L754,1839 L755,1838.8 L756,1838.6 L757,1838.4 L758,1838.2 L759,1838 L760,1837.8 L761,1837.5 L762,1837.3 L763,1837.1 L764,1836.9 L765,1836.7 L766,1836.5 L767,1836.3 L768,1836.1 L769,1835.9 L770,1835.6 L771,1835.4 L772,1835.2 L773,1835 L774,1834.8 L775,1834.5 L776,1834.3 L777,1834.1 L778,1833.8 L779,1833.6 L780,1833.4 L781,1833.1 L782,1832.9 L783,1832.6 L784,1832.4 L785,1832.1 L786,1831.9 L787,1831.6 L788,1831.3 L789,1831.1 L790,1830.8 L791,1830.5 L792,1830.2 L793,1830 L794,1829.7 L795,1829.4 L796,1829.1 L797,1828.8 L798,1828.5 L799,1828.2 L800,1827.8 L801,1827.5 L802,1827.2 L803,1826.9 L804,1826.5 L805,1826.2 L806,1825.9 L807,1825.5 L808,1825.2 L809,1824.8 L810,1824.5 L811,1824.2 L812,1823.8 L813,1823.4 L814,1823.1 L815,1822.7 L816,1822.4 L817,1822 L818,1821.7 L819,1821.3 L820,1820.9 L821,1820.6 L822,1820.2 L823,1819.8 L824,1819.5 L825,1819.1 L826,1818.7 L827,1818.4 L828,1818 L829,1817.6 L830,1817.2 L831,1816.9 L832,1816.5 L833,1816.1 L834,1815.8 L835,1815.4 L836,1815 L837,1814.7 L838,1814.3 L839,1813.9 L840,1813.6 L841,1813.2 L842,1812.8 L843,1812.5 L844,1812.1 L845,1811.7 L846,1811.4 L847,1811 L848,1810.6 L849,1810.2 L850,1809.9 L851,1809.5 L852,1809.1 L853,1808.7 L854,1808.3 L855,1808 L856,1807.6 L857,1807.2 L858,1806.8 L859,1806.4 L860,1806 L861,1805.6 L862,1805.2 L863,1804.8 L864,1804.4 L865,1803.9 L866,1803.5 L867,1803.1 L868,1802.7 L869,1802.2 L870,1801.8 L871,1801.4 L872,1800.9 L873,1800.5 L874,1800 L875,1799.5 L876,1799.1 L877,1798.6 L878,1798.1 L879,1797.6 L880,1797.1 L881,1796.6 L882,1796.1 L883,1795.6 L884,1795.1 L885,1794.6 L886,1794 L887,1793.5 L888,1792.9 L889,1792.4 L890,1791.8 L891,1791.2 L892,1790.6 L893,1790 L894,1789.4 L895,1788.8 L896,1788.2 L897,1787.5 L898,1786.9 L899,1786.2 L900,1785.5 L901,1784.8 L902,1784.1 L903,1783.4 L904,1782.6 L905,1781.9 L906,1781.1 L907,1780.3 L908,1779.5 L909,1778.6 L910,1777.8 L911,1776.9 L912,1776.1 L913,1775.2 L914,1774.3 L915,1773.4 L916,1772.5 L917,1771.6 L918,1770.8 L919,1769.9 L920,1769 L921,1768.1 L922,1767.2 L923,1766.3 L924,1765.4 L925,1764.5 L926,1763.5 L927,1762.6 L928,1761.7 L929,1760.8 L930,1759.8 L931,1758.9 L932,1757.9 L933,1757 L934,1756 L935,1755.1 L936,1754.2 L937,1753.2 L938,1752.3 L939,1751.4 L940,1750.5 L941,1749.6 L942,1748.7 L943,1747.8 L944,1746.9 L945,1746.1 L946,1745.2 L947,1744.4 L948,1743.5 L949,1742.7 L950,1741.8 L951,1741 L952,1740.1 L953,1739.3 L954,1738.5 L955,1737.6 L956,1736.8 L957,1736 L958,1735.3 L959,1734.5 L960,1733.8 L961,1733.1 L962,1732.4 L963,1731.7 L964,1731 L965,1730.4 L966,1729.8 L967,1729.3 L968,1728.7 L969,1728.1 L970,1727.6 L971,1727.1 L972,1726.6 L973,1726.1 L974,1725.6 L975,1725.1 L976,1724.6 L977,1724.1 L978,1723.7 L979,1723.3 L980,1722.9 L981,1722.5 L982,1722.1 L983,1721.8 L984,1721.4 L985,1721.2 L986,1720.9 L987,1720.6 L988,1720.4 L989,1720.2 L990,1720 L991,1719.9 L992,1719.7 L993,1719.5 L994,1719.4 L995,1719.3 L996,1719.1 L997,1719 L998,1718.9 L999,1718.8 L1000,1718.7 L1001,1718.6 L1002,1718.6 L1003,1718.5 L1004,1718.5 L1005,1718.5 L1006,1718.5 L1007,1718.5 L1008,1718.6 L1009,1718.7 L1010,1718.8 L1011,1719 L1012,1719.3 L1013,1719.6 L1014,1719.9 L1015,1720.2 L1016,1720.6 L1017,1721 L1018,1721.4 L1019,1721.9 L1020,1722.3 L1021,1722.8 L1022,1723.4 L1023,1723.9 L1024,1724.5 L1025,1725.1 L1026,1725.8 L1027,1726.5 L1028,1727.2 L1029,1728 L1030,1728.7 L1031,1729.4 L1032,1730 L1033,1730.7 L1034,1731.3 L1035,1731.9 L1036,1732.4 L1037,1732.9 L1038,1733.4 L1039,1733.8 L1040,1734.1 L1041,1734.3 L1042,1734.5 L1043,1734.5 L1044,1734.4 L1045,1734.1 L1046,1733.6 L1047,1733 L1048,1732.1 L1049,1731.1 L1050,1729.9 L1051,1728.4 L1052,1726.7 L1053,1724.8 L1054,1722.6 L1055,1720.1 L1056,1717.4 L1057,1714.6 L1058,1711.7 L1059,1708.7 L1060,1705.6 L1061,1702.5 L1062,1699.5 L1063,1696.4 L1064,1693.4 L1065,1690.4 L1066,1687.4 L1067,1684.5 L1068,1681.7 L1069,1678.9 L1070,1676.3 L1071,1673.7 L1072,1671.3 L1073,1668.9 L1074,1666.5 L1075,1664.2 L1076,1661.9 L1077,1659.6 L1078,1657.3 L1079,1654.9 L1080,1652.6 L1081,1650.2 L1082,1647.8 L1083,1645.4 L1084,1643 L1085,1640.7 L1086,1638.4 L1087,1636.2 L1088,1634.2 L1089,1632.3 L1090,1630.5 L1091,1628.8 L1092,1627.3 L1093,1625.9 L1094,1624.6 L1095,1623.3 L1096,1622.2 L1097,1621.1 L1098,1620.2 L1099,1619.3 L1100,1618.4 L1101,1617.7 L1102,1617 L1103,1616.4 L1104,1615.8 L1105,1615.2 L1106,1614.7 L1107,1614.3 L1108,1613.9 L1109,1613.5 L1110,1613.1 L1111,1612.8 L1112,1612.5 L1113,1612.3 L1114,1612 L1115,1611.8 L1116,1611.7 L1117,1611.5 L1118,1611.3 L1119,1611.2 L1120,1611 L1121,1610.9 L1122,1610.8 L1123,1610.7 L1124,1610.6 L1125,1610.5 L1126,1610.4 L1127,1610.3 L1128,1610.3 L1129,1610.2 L1130,1610.2 L1131,1610.1 L1132,1610.1 L1133,1610.1 L1134,1610.1 L1135,1610.1 L1136,1610.1 L1137,1610 L1138,1610 L1139,1610 L1140,1610 L1141,1610 L1142,1610 L1143,1610 L1144,1610 L1145,1610 L1146,1609.9 L1147,1609.9 L1148,1609.9 L1149,1609.9 L1150,1609.9 L1151,1609.9 L1152,1609.9 L1153,1609.8 L1154,1609.8 L1155,1609.8 L1156,1609.8 L1157,1609.7 L1158,1609.7 L1159,1609.7 L1160,1609.7 L1161,1609.6 L1162,1609.6 L1163,1609.6 L1164,1609.6 L1165,1609.5 L1166,1609.5 L1167,1609.5 L1168,1609.5 L1169,1609.5 L1170,1609.5 L1171,1609.4 L1172,1609.4 L1173,1609.4 L1174,1609.4 L1175,1609.4 L1176,1609.4 L1177,1609.4 L1178,1609.4 L1179,1609.5 L1180,1609.5 L1181,1609.5 L1182,1609.5 L1183,1609.5 L1184,1609.6 L1185,1609.6 L1186,1609.6 L1187,1609.6 L1188,1609.7 L1189,1609.7 L1190,1609.8 L1191,1609.8 L1192,1609.8 L1193,1609.9 L1194,1609.9 L1195,1610 L1196,1610 L1197,1610.1 L1198,1610.1 L1199,1610.2 L1200,1610.3 L1201,1610.4 L1202,1610.5 L1203,1610.6 L1204,1610.7 L1205,1610.9 L1206,1611 L1207,1611.2 L1208,1611.4 L1209,1611.5 L1210,1611.7 L1211,1611.9 L1212,1612.1 L1213,1612.3 L1214,1612.6 L1215,1612.8 L1216,1613 L1217,1613.2 L1218,1613.4 L1219,1613.6 L1220,1613.9 L1221,1614.1 L1222,1614.3 L1223,1614.5 L1224,1614.7 L1225,1614.9 L1226,1615.1 L1227,1615.3 L1228,1615.4 L1229,1615.6 L1230,1615.8 L1231,1616 L1232,1616.2 L1233,1616.4 L1234,1616.6 L1235,1616.8 L1236,1617 L1237,1617.2 L1238,1617.4 L1239,1617.6 L1240,1617.8 L1241,1618 L1242,1618.2 L1243,1618.4 L1244,1618.6 L1245,1618.8 L1246,1619.1 L1247,1619.3 L1248,1619.5 L1249,1619.7 L1250,1619.9 L1251,1620.2 L1252,1620.4 L1253,1620.6 L1254,1620.9 L1255,1621.1 L1256,1621.3 L1257,1621.6 L1258,1621.8 L1259,1622.1 L1260,1622.3 L1261,1622.6 L1262,1622.8 L1263,1623.1 L1264,1623.3 L1265,1623.6 L1266,1623.9 L1267,1624.1 L1268,1624.4 L1269,1624.6 L1270,1624.9 L1271,1625.2 L1272,1625.5 L1273,1625.7 L1274,1626 L1275,1626.3 L1276,1626.5 L1277,1626.8 L1278,1627.1 L1279,1627.4 L1280,1627.6 L1281,1627.9 L1282,1628.2 L1283,1628.5 L1284,1628.8 L1285,1629.1 L1286,1629.4 L1287,1629.7 L1288,1630 L1289,1630.3 L1290,1630.6 L1291,1630.9 L1292,1631.2 L1293,1631.5 L1294,1631.9 L1295,1632.2 L1296,1632.6 L1297,1632.9 L1298,1633.3 L1299,1633.6 L1300,1634 L1301,1634.4 L1302,1634.8 L1303,1635.2 L1304,1635.6 L1305,1636 L1306,1636.4 L1307,1636.8 L1308,1637.2 L1309,1637.7 L1310,1638.1 L1311,1638.6 L1312,1639 L1313,1639.5 L1314,1640 L1315,1640.5 L1316,1640.9 L1317,1641.4 L1318,1641.9 L1319,1642.5 L1320,1643 L1321,1643.5 L1322,1644.1 L1323,1644.6 L1324,1645.2 L1325,1645.8 L1326,1646.3 L1327,1646.9 L1328,1647.5 L1329,1648.2 L1330,1648.8 L1331,1649.4 L1332,1650.1 L1333,1650.8 L1334,1651.5 L1335,1652.2 L1336,1652.9 L1337,1653.6 L1338,1654.3 L1339,1655.1 L1340,1655.8 L1341,1656.6 L1342,1657.4 L1343,1658.2 L1344,1659 L1345,1659.8 L1346,1660.6 L1347,1661.5 L1348,1662.4 L1349,1663.3 L1350,1664.2 L1351,1665.1 L1352,1666 L1353,1667 L1354,1668 L1355,1669 L1356,1670 L1357,1671.1 L1358,1672.1 L1359,1673.2 L1360,1674.3 L1361,1675.4 L1362,1676.6 L1363,1677.7 L1364,1678.9 L1365,1680.1 L1366,1681.3 L1367,1682.6 L1368,1683.8 L1369,1685.1 L1370,1686.4 L1371,1687.7 L1372,1689.1 L1373,1690.5 L1374,1691.9 L1375,1693.4 L1376,1694.9 L1377,1696.4 L1378,1698 L1379,1699.6 L1380,1701.3 L1381,1703 L1382,1704.7 L1383,1706.5 L1384,1708.3 L1385,1710.1 L1386,1711.9 L1387,1713.8 L1388,1715.7 L1389,1717.7 L1390,1719.7 L1391,1721.7 L1392,1723.7 L1393,1725.8 L1394,1727.9 L1395,1729.9 L1396,1732 L1397,1734.2 L1398,1736.3 L1399,1738.4 L1400,1740.6 L1401,1742.7 L1402,1744.9 L1403,1747.1 L1404,1749.3 L1405,1751.6 L1406,1753.8 L1407,1756.1 L1408,1758.4 L1409,1760.7 L1410,1763 L1411,1765.4 L1412,1767.8 L1413,1770.2 L1414,1772.7 L1415,1775.1 L1416,1777.5 L1417,1779.9 L1418,1782.3 L1419,1784.6 L1420,1786.9 L1421,1789.2 L1422,1791.4 L1423,1793.6 L1424,1795.7 L1425,1797.8 L1426,1799.9 L1427,1801.9 L1428,1803.9 L1429,1805.9 L1430,1807.9 L1431,1809.8 L1432,1811.6 L1433,1813.5 L1434,1815.3 L1435,1817.1 L1436,1818.8 L1437,1820.6 L1438,1822.3 L1439,1824 L1440,1825.6 L1441,1827.2 L1442,1828.7 L1443,1830.2 L1444,1831.6 L1445,1833 L1446,1834.3 L1447,1835.6 L1448,1836.8 L1449,1838 L1450,1839.1 L1451,1840.2 L1452,1841.2 L1453,1842.2 L1454,1843.2 L1455,1844.1 L1456,1844.9 L1457,1845.7 L1458,1846.5 L1459,1847.2 L1460,1847.8 L1461,1848.4 L1462,1849 L1463,1849.6 L1464,1850.1 L1465,1850.6 L1466,1851.1 L1467,1851.5 L1468,1852 L1469,1852.4 L1470,1852.8 L1471,1853.1 L1472,1853.5 L1473,1853.8 L1474,1854.1 L1475,1854.5 L1476,1854.8 L1477,1855 L1478,1855.3 L1479,1855.5 L1480,1855.7 L1481,1855.9 L1482,1856.1 L1483,1856.2 L1484,1856.4 L1485,1856.5 L1486,1856.6 L1487,1856.7 L1488,1856.8 L1489,1856.9 L1490,1856.9 L1491,1857 L1492,1857.1 L1493,1857.2 L1494,1857.3 L1495,1857.3 L1496,1857.4 L1497,1857.5 L1498,1857.5 L1499,1857.6 L1500,1857.7 L1501,1857.7 L1502,1857.8 L1503,1857.8 L1504,1857.9 L1505,1857.9 L1506,1858 L1507,1858 L1508,1858.1 L1509,1858.1 L1510,1858.1 L1511,1858.2 L1512,1858.2 L1513,1858.2 L1514,1858.2 L1515,1858.2 L1516,1858.3 L1517,1858.3 L1518,1858.3 L1519,1858.3 L1520,1858.3 L1521,1858.3 L1522,1858.3 L1523,1858.3 L1524,1858.3 L1525,1858.3 L1526,1858.3 L1527,1858.3 L1528,1858.3 L1529,1858.3 L1530,1858.3 L1531,1858.3 L1532,1858.3 L1533,1858.3 L1534,1858.3 L1535,1858.3 L1536,1858.2 L1537,1858.2 L1538,1858.2 L1539,1858.2 L1540,1858.2 L1541,1858.2 L1542,1858.2 L1543,1858.2 L1544,1858.2 L1545,1858.2 L1546,1858.2 L1547,1858.2 L1548,1858.2 L1549,1858.2 L1550,1858.1 L1551,1858.1 L1552,1858.1 L1553,1858.1 L1554,1858.1 L1555,1858.1 L1556,1858.1 L1557,1858.1 L1558,1858.1 L1559,1858.1 L1560,1858.1 L1561,1858 L1562,1858 L1563,1858 L1564,1858 L1565,1858 L1566,1858 L1567,1858 L1568,1858 L1569,1858 L1570,1858 L1571,1858 L1572,1857.9 L1573,1857.9 L1574,1857.9 L1575,1857.9 L1576,1857.9 L1577,1857.9 L1578,1857.9 L1579,1857.9 L1580,1857.9 L1581,1857.9 L1582,1857.9 L1583,1857.9 L1584,1857.9 L1585,1857.8 L1586,1857.8 L1587,1857.8 L1588,1857.8 L1589,1857.8 L1590,1857.8 L1591,1857.8 L1592,1857.8 L1593,1857.8 L1594,1857.8 L1595,1857.8 L1596,1857.8 L1597,1857.8 L1598,1857.8 L1599,1857.8 L1600,1857.8 L1601,1857.8 L1602,1857.8 L1603,1857.8 L1604,1857.8 L1605,1857.8 L1606,1857.8 L1607,1857.8 L1608,1857.8 L1609,1857.8 L1610,1857.8 L1611,1857.8 L1612,1857.8 L1613,1857.8 L1614,1857.8 L1615,1857.8 L1616,1857.8 L1617,1857.8 L1618,1857.8 L1619,1857.8 L1620,1857.8 L1621,1857.8 L1622,1857.8 L1623,1857.8 L1624,1857.8 L1625,1857.8 L1626,1857.8 L1627,1857.8 L1628,1857.8 L1629,1857.8 L1630,1857.8 L1631,1857.8 L1632,1857.8 L1633,1857.8 L1634,1857.8 L1635,1857.8 L1636,1857.8 L1637,1857.8 L1638,1857.8 L1639,1857.8 L1640,1857.8 L1641,1857.8 L1642,1857.8 L1643,1857.8 L1644,1857.8 L1645,1857.8 L1646,1857.8 L1647,1857.8 L1648,1857.8 L1649,1857.8 L1650,1857.8 L1651,1857.8 L1652,1857.8 L1653,1857.8 L1654,1857.8 L1655,1857.8 L1656,1857.8 L1657,1857.8 L1658,1857.8 L1659,1857.8 L1660,1857.8 L1661,1857.8 L1662,1857.8 L1663,1857.8 L1664,1857.8 L1665,1857.8 L1666,1857.8 L1667,1857.8 L1668,1857.8 L1669,1857.8 L1670,1857.8 L1671,1857.8 L1672,1857.8 L1673,1857.8 L1674,1857.8 L1675,1857.8 L1676,1857.8 L1677,1857.8 L1678,1857.8 L1679,1857.9 L1680,1857.9 L1681,1857.9 L1682,1857.9 L1683,1857.9 L1684,1857.9 L1685,1857.9 L1686,1857.9 L1687,1857.9 L1688,1857.9 L1689,1857.9 L1690,1857.9 L1691,1857.9 L1692,1857.9 L1693,1857.9 L1694,1857.9 L1695,1857.9 L1696,1857.9 L1697,1857.9 L1698,1857.9 L1699,1857.9 L1700,1857.9 L1701,1857.9 L1702,1857.9 L1703,1857.9 L1704,1857.9 L1705,1857.9 L1706,1857.9 L1707,1857.9 L1708,1857.9 L1709,1857.9 L1710,1857.9 L1711,1857.9 L1712,1857.9 L1713,1857.9 L1714,1857.9 L1715,1857.9 L1716,1857.9 L1717,1857.9 L1718,1857.9 L1719,1857.9 L1720,1857.9 L1721,1857.9 L1722,1857.9 L1723,1857.9 L1724,1857.9 L1725,1857.9 L1726,1857.9 L1727,1857.9 L1728,1857.9 L1729,1857.9 L1730,1857.9 L1731,1857.9 L1732,1857.9 L1733,1857.9 L1734,1857.9 L1735,1857.9 L1736,1857.9 L1737,1857.9 L1738,1857.9 L1739,1857.9 L1740,1857.9 L1741,1857.9 L1742,1857.9 L1743,1857.9 L1744,1858 L1745,1858 L1746,1858 L1747,1858 L1748,1858 L1749,1858 L1750,1858 L1751,1858 L1752,1858 L1753,1858 L1754,1858 L1755,1858 L1756,1858 L1757,1858 L1758,1858 L1759,1858 L1760,1858 L1761,1858 L1762,1858 L1763,1858 L1764,1858 L1765,1858 L1766,1858 L1767,1858 L1768,1858 L1769,1858 L1770,1858 L1771,1858 L1772,1858 L1773,1858 L1774,1858 L1775,1858 L1776,1858 L1777,1858 L1778,1858 L1779,1858 L1780,1858 L1781,1858 L1782,1858 L1783,1858 L1784,1858 L1785,1858 L1786,1858 L1787,1858 L1788,1858 L1789,1858 L1790,1858 L1791,1858 L1792,1858 L1793,1858.1 L1794,1858.1 L1795,1858.1 L1796,1858.1 L1797,1858.1 L1798,1858.1 L1799,1858.1 L1800,1858.1 L1801,1858.1 L1802,1858.1 L1803,1858.1 L1804,1858.1 L1805,1858.1 L1806,1858.1 L1807,1858.1 L1808,1858.1 L1809,1858.1 L1810,1858.1 L1811,1858.1 L1812,1858.1 L1813,1858.1 L1814,1858.1 L1815,1858.1 L1816,1858.1 L1817,1858.1 L1818,1858.1 L1819,1858.1 L1820,1858.1 L1821,1858.1 L1822,1858.1 L1823,1858.1 L1824,1858.1 L1825,1858.1 L1826,1858.1 L1827,1858.1 L1828,1858.1 L1829,1858.1 L1830,1858.1 L1831,1858.1 L1832,1858.1 L1833,1858.1 L1834,1858.1 L1835,1858.1 L1836,1858.1 L1837,1858.2 L1838,1858.2 L1839,1858.2 L1840,1858.2 L1841,1858.2 L1842,1858.2 L1843,1858.2 L1844,1858.2 L1845,1858.2 L1846,1858.2 L1847,1858.2 L1848,1858.2 L1849,1858.2 L1850,1858.2 L1851,1858.2 L1852,1858.2 L1853,1858.2 L1854,1858.2 L1855,1858.2 L1856,1858.2 L1857,1858.2 L1858,1858.2 L1859,1858.2 L1860,1858.2 L1861,1858.2 L1862,1858.2 L1863,1858.2 L1864,1858.2 L1865,1858.2 L1866,1858.2 L1867,1858.2 L1868,1858.2 L1869,1858.2 L1870,1858.2 L1871,1858.2 L1872,1858.2 L1873,1858.2 L1874,1858.2 L1875,1858.2 L1876,1858.2 L1877,1858.2 L1878,1858.2 L1879,1858.2 L1880,1858.3 L1881,1858.3 L1882,1858.3 L1883,1858.3 L1884,1858.3 L1885,1858.3 L1886,1858.3 L1887,1858.3 L1888,1858.3 L1889,1858.3 L1890,1858.3 L1891,1858.3 L1892,1858.3 L1893,1858.3 L1894,1858.3 L1895,1858.3 L1896,1858.3 L1897,1858.3 L1898,1858.3 L1899,1858.3 L1900,1858.3 L1901,1858.3 L1902,1858.3 L1903,1858.3 L1904,1858.3 L1905,1858.3 L1906,1858.3 L1907,1858.3 L1908,1858.3 L1909,1858.3 L1910,1858.3 L1911,1858.3 L1912,1858.3 L1913,1858.3 L1914,1858.3 L1915,1858.3 L1916,1858.3 L1917,1858.3 L1918,1858.3 L1919,1858.3 L1920,1858.3 L1921,1858.3 L1922,1858.3 L1923,1858.3 L1924,1858.4 L1925,1858.4 L1926,1858.4 L1927,1858.4 L1928,1858.4 L1929,1858.4 L1930,1858.4 L1931,1858.4 L1932,1858.4 L1933,1858.4 L1934,1858.4 L1935,1858.4 L1936,1858.4 L1937,1858.4 L1938,1858.4 L1939,1858.4 L1940,1858.4 L1941,1858.4 L1942,1858.4 L1943,1858.4 L1944,1858.4 L1945,1858.4 L1946,1858.4 L1947,1858.4 L1948,1858.4 L1949,1858.4 L1950,1858.4 L1951,1858.4 L1952,1858.4 L1953,1858.4 L1954,1858.4 L1955,1858.4 L1956,1858.4 L1957,1858.4 L1958,1858.4 L1959,1858.4 L1960,1858.4 L1961,1858.4 L1962,1858.4 L1963,1858.4 L1964,1858.4 L1965,1858.4 L1966,1858.4 L1967,1858.4 L1968,1858.4 L1969,1858.4 L1970,1858.4 L1971,1858.4 L1972,1858.4 L1973,1858.5 L1974,1858.5 L1975,1858.5 L1976,1858.5 L1977,1858.5 L1978,1858.5 L1979,1858.5 L1980,1858.5 L1981,1858.5 L1982,1858.5 L1983,1858.5 L1984,1858.5 L1985,1858.5 L1986,1858.5 L1987,1858.5 L1988,1858.5 L1989,1858.5 L1990,1858.5 L1991,1858.5 L1992,1858.5 L1993,1858.5 L1994,1858.5 L1995,1858.5 L1996,1858.5 L1997,1858.5 L1998,1858.5 L1999,1858.5 L2000,1858.5 L2001,1858.5 L2002,1858.5 L2003,1858.5 L2004,1858.5 L2005,1858.5 L2006,1858.5 L2007,1858.5 L2008,1858.5 L2009,1858.5 L2010,1858.5 L2011,1858.5 L2012,1858.5 L2013,1858.5 L2014,1858.5 L2015,1858.5 L2016,1858.5 L2017,1858.5 L2018,1858.5 L2019,1858.5 L2020,1858.5 L2021,1858.5 L2022,1858.5 L2023,1858.5 L2024,1858.5 L2025,1858.5 L2026,1858.5 L2027,1858.5 L2028,1858.5 L2029,1858.5 L2030,1858.5 L2031,1858.6 L2032,1858.6 L2033,1858.6 L2034,1858.6 L2035,1858.6 L2036,1858.6 L2037,1858.6 L2038,1858.6 L2039,1858.6 L2040,1858.6 L2041,1858.6 L2042,1858.6 L2043,1858.6 L2044,1858.6 L2045,1858.6 L2046,1858.6 L2047,1858.6 L2048,1858.6 L2049,1858.6 L2050,1858.6 L2051,1858.6 L2052,1858.6 L2053,1858.6 L2054,1858.6 L2055,1858.6 L2056,1858.6 L2057,1858.6 L2058,1858.6 L2059,1858.6 L2060,1858.6 L2061,1858.6 L2062,1858.6 L2063,1858.6 L2064,1858.6 L2065,1858.6 L2066,1858.6 L2067,1858.6 L2068,1858.6 L2069,1858.6 L2070,1858.6 L2071,1858.6 L2072,1858.6 L2073,1858.6 L2074,1858.6 L2075,1858.6 L2076,1858.6 L2077,1858.6 L2078,1858.6 L2079,1858.6 L2080,1858.6 L2081,1858.6 L2082,1858.6 L2083,1858.6 L2084,1858.6 L2085,1858.6 L2086,1858.6 L2087,1858.6 L2088,1858.6 L2089,1858.6 L2090,1858.6 L2091,1858.7 L2092,1858.7 L2093,1858.7 L2094,1858.7 L2095,1858.7 L2096,1858.7 L2097,1858.7 L2098,1858.7 L2099,1858.7 L2100,1858.7 L2101,1858.7 L2102,1858.7 L2103,1858.7 L2104,1858.7 L2105,1858.7 L2106,1858.7 L2107,1858.7 L2108,1858.7 L2109,1858.7 L2110,1858.7 L2111,1858.7 L2112,1858.7 L2113,1858.7 L2114,1858.7 L2115,1858.7 L2116,1858.7 L2117,1858.7 L2118,1858.7 L2119,1858.7 L2120,1858.7 L2121,1858.7 L2122,1858.7 L2123,1858.7 L2124,1858.7 L2125,1858.7 L2126,1858.7 L2127,1858.7 L2128,1858.7 L2129,1858.7 L2130,1858.7 L2131,1858.7 L2132,1858.7 L2133,1858.7 L2134,1858.7 L2135,1858.7 L2136,1858.7 L2137,1858.7 L2138,1858.7 L2139,1858.7 L2140,1858.7 L2141,1858.7 L2142,1858.7 L2143,1858.7 L2144,1858.7 L2145,1858.7 L2146,1858.7 L2147,1858.7 L2148,1858.7 L2149,1858.7 L2150,1858.7 L2151,1858.7 L2152,1858.7 L2153,1858.8 L2154,1858.8 L2155,1858.8 L2156,1858.8 L2157,1858.8 L2158,1858.8 L2159,1858.8 L2160,1858.8 L2161,1858.8 L2162,1858.8 L2163,1858.8 L2164,1858.8 L2165,1858.8 L2166,1858.8 L2167,1858.8 L2168,1858.8 L2169,1858.8 L2170,1858.8 L2171,1858.8 L2172,1858.8 L2173,1858.8 L2174,1858.8 L2175,1858.8 L2176,1858.8 L2177,1858.8 L2178,1858.8 L2179,1858.8 L2180,1858.8 L2181,1858.8 L2182,1858.8 L2183,1858.8 L2184,1858.8 L2185,1858.8 L2186,1858.8 L2187,1858.8 L2188,1858.8 L2189,1858.8 L2190,1858.8 L2191,1858.8 L2192,1858.8 L2193,1858.8 L2194,1858.8 L2195,1858.8 L2196,1858.8 L2197,1858.8 L2198,1858.8 L2199,1858.8 L2200,1858.8 L2201,1858.8 L2202,1858.8 L2203,1858.8 L2204,1858.8 L2205,1858.8 L2206,1858.8 L2207,1858.8 L2208,1858.8 L2209,1858.8 L2210,1858.8 L2211,1858.8 L2212,1858.8 L2213,1858.8 L2214,1858.8 L2215,1858.8 L2216,1858.9 L2217,1858.9 L2218,1858.9 L2219,1858.9 L2220,1858.9 L2221,1858.9 L2222,1858.9 L2223,1858.9 L2224,1858.9 L2225,1858.9 L2226,1858.9 L2227,1858.9 L2228,1858.9 L2229,1858.9 L2230,1858.9 L2231,1858.9 L2232,1858.9 L2233,1858.9 L2234,1858.9 L2235,1858.9 L2236,1858.9 L2237,1858.9 L2238,1858.9 L2239,1858.9 L2240,1858.9 L2241,1858.9 L2242,1858.9 L2243,1858.9 L2244,1858.9 L2245,1858.9 L2246,1858.9 L2247,1858.9 L2248,1858.9 L2249,1858.9 L2250,1858.9 L2251,1858.9 L2252,1858.9 L2253,1858.9 L2254,1858.9 L2255,1858.9 L2256,1858.9 L2257,1858.9 L2258,1858.9 L2259,1858.9 L2260,1858.9 L2261,1858.9 L2262,1858.9 L2263,1858.9 L2264,1858.9 L2265,1858.9 L2266,1858.9 L2267,1858.9 L2268,1858.9 L2269,1858.9 L2270,1858.9 L2271,1858.9 L2272,1858.9 L2273,1858.9 L2274,1858.9 L2275,1858.9 L2276,1858.9 L2277,1858.9 L2278,1858.9 L2279,1859 L2280,1859 L2281,1859 L2282,1859 L2283,1859 L2284,1859 L2285,1859 L2286,1859 L2287,1859 L2288,1859 L2289,1859 L2290,1859 L2291,1859 L2292,1859 L2293,1859 L2294,1859 L2295,1859 L2296,1859 L2297,1859 L2298,1859 L2299,1859 L2300,1859 L2301,1859 L2302,1859 L2303,1859 L2304,1859 L2305,1859 L2306,1859 L2307,1859 L2308,1859 L2309,1859 L2310,1859 L2311,1859" fill="none" stroke="#00B050" stroke-width="10" stroke-linejoin="round"/>
<path d="M600,1859.6 L601,1859.6 L602,1859.6 L603,1859.6 L604,1859.5 L605,1859.5 L606,1859.5 L607,1859.5 L608,1859.5 L609,1859.4 L610,1859.4 L611,1859.4 L612,1859.4 L613,1859.3 L614,1859.3 L615,1859.2 L616,1859.2 L617,1859.2 L618,1859.1 L619,1859.1 L620,1859 L621,1859 L622,1858.9 L623,1858.9 L624,1858.8 L625,1858.8 L626,1858.7 L627,1858.7 L628,1858.6 L629,1858.5 L630,1858.5 L631,1858.4 L632,1858.3 L633,1858.3 L634,1858.2 L635,1858.1 L636,1858 L637,1857.9 L638,1857.8 L639,1857.7 L640,1857.6 L641,1857.5 L642,1857.4 L643,1857.3 L644,1857.1 L645,1857 L646,1856.9 L647,1856.8 L648,1856.6 L649,1856.5 L650,1856.4 L651,1856.2 L652,1856.1 L653,1855.9 L654,1855.8 L655,1855.7 L656,1855.5 L657,1855.4 L658,1855.3 L659,1855.1 L660,1855 L661,1854.9 L662,1854.7 L663,1854.6 L664,1854.5 L665,1854.3 L666,1854.2 L667,1854.1 L668,1853.9 L669,1853.8 L670,1853.7 L671,1853.5 L672,1853.4 L673,1853.2 L674,1853.1 L675,1853 L676,1852.8 L677,1852.7 L678,1852.5 L679,1852.4 L680,1852.2 L681,1852.1 L682,1851.9 L683,1851.8 L684,1851.6 L685,1851.5 L686,1851.3 L687,1851.2 L688,1851 L689,1850.9 L690,1850.7 L691,1850.6 L692,1850.4 L693,1850.2 L694,1850.1 L695,1849.9 L696,1849.8 L697,1849.6 L698,1849.4 L699,1849.3 L700,1849.1 L701,1848.9 L702,1848.7 L703,1848.6 L704,1848.4 L705,1848.2 L706,1848 L707,1847.8 L708,1847.6 L709,1847.4 L710,1847.2 L711,1847 L712,1846.8 L713,1846.6 L714,1846.4 L715,1846.2 L716,1846 L717,1845.8 L718,1845.6 L719,1845.4 L720,1845.2 L721,1845 L722,1844.8 L723,1844.6 L724,1844.4 L725,1844.1 L726,1843.9 L727,1843.7 L728,1843.5 L729,1843.3 L730,1843.1 L731,1842.9 L732,1842.7 L733,1842.5 L734,1842.3 L735,1842.1 L736,1841.9 L737,1841.7 L738,1841.5 L739,1841.3 L740,1841.1 L741,1840.9 L742,1840.7 L743,1840.5 L744,1840.3 L745,1840.1 L746,1839.9 L747,1839.7 L748,1839.5 L749,1839.3 L750,1839.2 L751,1839 L752,1838.8 L753,1838.6 L754,1838.4 L755,1838.2 L756,1838 L757,1837.8 L758,1837.6 L759,1837.4 L760,1837.3 L761,1837.1 L762,1836.9 L763,1836.7 L764,1836.6 L765,1836.4 L766,1836.2 L767,1836.1 L768,1835.9 L769,1835.8 L770,1835.7 L771,1835.5 L772,1835.4 L773,1835.3 L774,1835.1 L775,1835 L776,1834.9 L777,1834.8 L778,1834.7 L779,1834.6 L780,1834.5 L781,1834.4 L782,1834.3 L783,1834.2 L784,1834.1 L785,1834 L786,1834 L787,1833.9 L788,1833.8 L789,1833.8 L790,1833.8 L791,1833.7 L792,1833.7 L793,1833.7 L794,1833.7 L795,1833.7 L796,1833.7 L797,1833.8 L798,1833.8 L799,1833.9 L800,1833.9 L801,1834 L802,1834.1 L803,1834.1 L804,1834.2 L805,1834.3 L806,1834.4 L807,1834.5 L808,1834.6 L809,1834.7 L810,1834.8 L811,1834.9 L812,1835 L813,1835.1 L814,1835.2 L815,1835.4 L816,1835.5 L817,1835.6 L818,1835.7 L819,1835.9 L820,1836 L821,1836.1 L822,1836.3 L823,1836.4 L824,1836.6 L825,1836.7 L826,1836.8 L827,1837 L828,1837.2 L829,1837.3 L830,1837.5 L831,1837.6 L832,1837.8 L833,1837.9 L834,1838.1 L835,1838.2 L836,1838.4 L837,1838.6 L838,1838.7 L839,1838.9 L840,1839 L841,1839.2 L842,1839.4 L843,1839.5 L844,1839.7 L845,1839.9 L846,1840.1 L847,1840.2 L848,1840.4 L849,1840.6 L850,1840.8 L851,1840.9 L852,1841.1 L853,1841.3 L854,1841.5 L855,1841.6 L856,1841.8 L857,1842 L858,1842.2 L859,1842.4 L860,1842.6 L861,1842.7 L862,1842.9 L863,1843.1 L864,1843.3 L865,1843.5 L866,1843.6 L867,1843.8 L868,1844 L869,1844.2 L870,1844.4 L871,1844.5 L872,1844.7 L873,1844.9 L874,1845.1 L875,1845.3 L876,1845.4 L877,1845.6 L878,1845.8 L879,1846 L880,1846.2 L881,1846.3 L882,1846.5 L883,1846.7 L884,1846.9 L885,1847.1 L886,1847.2 L887,1847.4 L888,1847.6 L889,1847.8 L890,1848 L891,1848.2 L892,1848.4 L893,1848.5 L894,1848.7 L895,1848.9 L896,1849.1 L897,1849.3 L898,1849.5 L899,1849.7 L900,1849.8 L901,1850 L902,1850.2 L903,1850.4 L904,1850.6 L905,1850.7 L906,1850.9 L907,1851.1 L908,1851.3 L909,1851.4 L910,1851.6 L911,1851.8 L912,1852 L913,1852.1 L914,1852.3 L915,1852.4 L916,1852.6 L917,1852.8 L918,1852.9 L919,1853.1 L920,1853.2 L921,1853.4 L922,1853.5 L923,1853.7 L924,1853.8 L925,1854 L926,1854.1 L927,1854.2 L928,1854.4 L929,1854.5 L930,1854.6 L931,1854.8 L932,1854.9 L933,1855 L934,1855.2 L935,1855.3 L936,1855.4 L937,1855.5 L938,1855.6 L939,1855.8 L940,1855.9 L941,1856 L942,1856.1 L943,1856.2 L944,1856.3 L945,1856.4 L946,1856.5 L947,1856.6 L948,1856.7 L949,1856.8 L950,1856.9 L951,1857 L952,1857.1 L953,1857.2 L954,1857.3 L955,1857.4 L956,1857.5 L957,1857.6 L958,1857.7 L959,1857.8 L960,1857.9 L961,1858 L962,1858.1 L963,1858.1 L964,1858.2 L965,1858.3 L966,1858.3 L967,1858.4 L968,1858.5 L969,1858.5 L970,1858.6 L971,1858.6 L972,1858.7 L973,1858.7 L974,1858.8 L975,1858.8 L976,1858.9 L977,1858.9 L978,1859 L979,1859 L980,1859.1 L981,1859.1 L982,1859.1 L983,1859.2 L984,1859.2 L985,1859.3 L986,1859.3 L987,1859.3 L988,1859.4 L989,1859.4 L990,1859.4 L991,1859.4 L992,1859.5 L993,1859.5 L994,1859.5 L995,1859.5 L996,1859.5 L997,1859.6 L998,1859.6 L999,1859.6 L1000,1859.6" fill="none" stroke="#DD0000" stroke-width="6.5" stroke-linejoin="round"/>
<path d="M685.8,1859.6 L686.8,1859.6 L687.8,1859.6 L688.8,1859.6 L689.8,1859.6 L690.8,1859.6 L691.8,1859.6 L692.8,1859.6 L693.8,1859.6 L694.8,1859.6 L695.8,1859.6 L696.8,1859.6 L697.8,1859.6 L698.8,1859.6 L699.8,1859.6 L700.8,1859.6 L701.8,1859.6 L702.8,1859.6 L703.8,1859.6 L704.8,1859.5 L705.8,1859.5 L706.8,1859.5 L707.8,1859.5 L708.8,1859.5 L709.8,1859.5 L710.8,1859.5 L711.8,1859.5 L712.8,1859.5 L713.8,1859.5 L714.8,1859.5 L715.8,1859.5 L716.8,1859.5 L717.8,1859.5 L718.8,1859.5 L719.8,1859.5 L720.8,1859.5 L721.8,1859.5 L722.8,1859.5 L723.8,1859.4 L724.8,1859.4 L725.8,1859.4 L726.8,1859.4 L727.8,1859.4 L728.8,1859.4 L729.8,1859.4 L730.8,1859.4 L731.8,1859.4 L732.8,1859.4 L733.8,1859.3 L734.8,1859.3 L735.8,1859.3 L736.8,1859.3 L737.8,1859.3 L738.8,1859.3 L739.8,1859.2 L740.8,1859.2 L741.8,1859.2 L742.8,1859.2 L743.8,1859.2 L744.8,1859.1 L745.8,1859.1 L746.8,1859.1 L747.8,1859.1 L748.8,1859 L749.8,1859 L750.8,1859 L751.8,1859 L752.8,1858.9 L753.8,1858.9 L754.8,1858.9 L755.8,1858.8 L756.8,1858.8 L757.8,1858.8 L758.8,1858.7 L759.8,1858.7 L760.8,1858.6 L761.8,1858.6 L762.8,1858.5 L763.8,1858.5 L764.8,1858.4 L765.8,1858.4 L766.8,1858.3 L767.8,1858.3 L768.8,1858.2 L769.8,1858.1 L770.8,1858.1 L771.8,1858 L772.8,1857.9 L773.8,1857.9 L774.8,1857.8 L775.8,1857.7 L776.8,1857.6 L777.8,1857.5 L778.8,1857.5 L779.8,1857.4 L780.8,1857.3 L781.8,1857.2 L782.8,1857.1 L783.8,1857 L784.8,1856.8 L785.8,1856.7 L786.8,1856.6 L787.8,1856.5 L788.8,1856.4 L789.8,1856.2 L790.8,1856.1 L791.8,1856 L792.8,1855.8 L793.8,1855.7 L794.8,1855.5 L795.8,1855.4 L796.8,1855.2 L797.8,1855 L798.8,1854.8 L799.8,1854.7 L800.8,1854.5 L801.8,1854.3 L802.8,1854.1 L803.8,1853.9 L804.8,1853.7 L805.8,1853.4 L806.8,1853.2 L807.8,1853 L808.8,1852.8 L809.8,1852.5 L810.8,1852.3 L811.8,1852 L812.8,1851.7 L813.8,1851.5 L814.8,1851.2 L815.8,1850.9 L816.8,1850.6 L817.8,1850.3 L818.8,1850 L819.8,1849.6 L820.8,1849.3 L821.8,1849 L822.8,1848.6 L823.8,1848.3 L824.8,1847.9 L825.8,1847.5 L826.8,1847.1 L827.8,1846.7 L828.8,1846.3 L829.8,1845.9 L830.8,1845.5 L831.8,1845.1 L832.8,1844.6 L833.8,1844.2 L834.8,1843.7 L835.8,1843.2 L836.8,1842.7 L837.8,1842.3 L838.8,1841.7 L839.8,1841.2 L840.8,1840.7 L841.8,1840.2 L842.8,1839.6 L843.8,1839.1 L844.8,1838.5 L845.8,1837.9 L846.8,1837.3 L847.8,1836.7 L848.8,1836.1 L849.8,1835.5 L850.8,1834.8 L851.8,1834.2 L852.8,1833.5 L853.8,1832.9 L854.8,1832.2 L855.8,1831.5 L856.8,1830.8 L857.8,1830.1 L858.8,1829.3 L859.8,1828.6 L860.8,1827.9 L861.8,1827.1 L862.8,1826.3 L863.8,1825.6 L864.8,1824.8 L865.8,1824 L866.8,1823.2 L867.8,1822.3 L868.8,1821.5 L869.8,1820.7 L870.8,1819.8 L871.8,1819 L872.8,1818.1 L873.8,1817.2 L874.8,1816.3 L875.8,1815.4 L876.8,1814.5 L877.8,1813.6 L878.8,1812.7 L879.8,1811.8 L880.8,1810.8 L881.8,1809.9 L882.8,1808.9 L883.8,1808 L884.8,1807 L885.8,1806.1 L886.8,1805.1 L887.8,1804.1 L888.8,1803.1 L889.8,1802.1 L890.8,1801.1 L891.8,1800.1 L892.8,1799.1 L893.8,1798.1 L894.8,1797.1 L895.8,1796.1 L896.8,1795.1 L897.8,1794.1 L898.8,1793.1 L899.8,1792.1 L900.8,1791.1 L901.8,1790 L902.8,1789 L903.8,1788 L904.8,1787 L905.8,1786 L906.8,1785 L907.8,1784 L908.8,1783 L909.8,1782 L910.8,1781 L911.8,1780 L912.8,1779.1 L913.8,1778.1 L914.8,1777.1 L915.8,1776.2 L916.8,1775.2 L917.8,1774.3 L918.8,1773.3 L919.8,1772.4 L920.8,1771.5 L921.8,1770.6 L922.8,1769.7 L923.8,1768.8 L924.8,1767.9 L925.8,1767.1 L926.8,1766.2 L927.8,1765.4 L928.8,1764.6 L929.8,1763.8 L930.8,1763 L931.8,1762.2 L932.8,1761.4 L933.8,1760.7 L934.8,1760 L935.8,1759.2 L936.8,1758.6 L937.8,1757.9 L938.8,1757.2 L939.8,1756.6 L940.8,1756 L941.8,1755.4 L942.8,1754.8 L943.8,1754.2 L944.8,1753.7 L945.8,1753.2 L946.8,1752.7 L947.8,1752.2 L948.8,1751.7 L949.8,1751.3 L950.8,1750.9 L951.8,1750.5 L952.8,1750.2 L953.8,1749.8 L954.8,1749.5 L955.8,1749.2 L956.8,1748.9 L957.8,1748.7 L958.8,1748.5 L959.8,1748.3 L960.8,1748.1 L961.8,1748 L962.8,1747.8 L963.8,1747.7 L964.8,1747.7 L965.8,1747.6 L966.8,1747.6 L967.8,1747.6 L968.8,1747.6 L969.8,1747.7 L970.8,1747.7 L971.8,1747.8 L972.8,1747.9 L973.8,1748.1 L974.8,1748.2 L975.8,1748.4 L976.8,1748.6 L977.8,1748.8 L978.8,1749.1 L979.8,1749.3 L980.8,1749.6 L981.8,1749.9 L982.8,1750.3 L983.8,1750.6 L984.8,1751 L985.8,1751.4 L986.8,1751.8 L987.8,1752.2 L988.8,1752.7 L989.8,1753.1 L990.8,1753.6 L991.8,1754.1 L992.8,1754.6 L993.8,1755.2 L994.8,1755.8 L995.8,1756.3 L996.8,1756.9 L997.8,1757.5 L998.8,1758.2 L999.8,1758.8 L1000.8,1759.5 L1001.8,1760.1 L1002.8,1760.8 L1003.8,1761.5 L1004.8,1762.3 L1005.8,1763 L1006.8,1763.7 L1007.8,1764.5 L1008.8,1765.3 L1009.8,1766 L1010.8,1766.8 L1011.8,1767.7 L1012.8,1768.5 L1013.8,1769.3 L1014.8,1770.1 L1015.8,1771 L1016.8,1771.9 L1017.8,1772.7 L1018.8,1773.6 L1019.8,1774.5 L1020.8,1775.4 L1021.8,1776.3 L1022.8,1777.2 L1023.8,1778.1 L1024.8,1779 L1025.8,1779.9 L1026.8,1780.9 L1027.8,1781.8 L1028.8,1782.7 L1029.8,1783.7 L1030.8,1784.6 L1031.8,1785.6 L1032.8,1786.5 L1033.8,1787.5 L1034.8,1788.4 L1035.8,1789.4 L1036.8,1790.3 L1037.8,1791.3 L1038.8,1792.2 L1039.8,1793.2 L1040.8,1794.2 L1041.8,1795.1 L1042.8,1796.1 L1043.8,1797 L1044.8,1798 L1045.8,1798.9 L1046.8,1799.9 L1047.8,1800.8 L1048.8,1801.7 L1049.8,1802.7 L1050.8,1803.6 L1051.8,1804.5 L1052.8,1805.5 L1053.8,1806.4 L1054.8,1807.3 L1055.8,1808.2 L1056.8,1809.1 L1057.8,1810 L1058.8,1810.9 L1059.8,1811.8 L1060.8,1812.6 L1061.8,1813.5 L1062.8,1814.4 L1063.8,1815.2 L1064.8,1816.1 L1065.8,1816.9 L1066.8,1817.7 L1067.8,1818.6 L1068.8,1819.4 L1069.8,1820.2 L1070.8,1821 L1071.8,1821.8 L1072.8,1822.5 L1073.8,1823.3 L1074.8,1824.1 L1075.8,1824.8 L1076.8,1825.6 L1077.8,1826.3 L1078.8,1827 L1079.8,1827.8 L1080.8,1828.5 L1081.8,1829.2 L1082.8,1829.8 L1083.8,1830.5 L1084.8,1831.2 L1085.8,1831.8 L1086.8,1832.5 L1087.8,1833.1 L1088.8,1833.8 L1089.8,1834.4 L1090.8,1835 L1091.8,1835.6 L1092.8,1836.2 L1093.8,1836.8 L1094.8,1837.3 L1095.8,1837.9 L1096.8,1838.4 L1097.8,1839 L1098.8,1839.5 L1099.8,1840 L1100.8,1840.5 L1101.8,1841 L1102.8,1841.5 L1103.8,1842 L1104.8,1842.5 L1105.8,1842.9 L1106.8,1843.4 L1107.8,1843.8 L1108.8,1844.3 L1109.8,1844.7 L1110.8,1845.1 L1111.8,1845.5 L1112.8,1845.9 L1113.8,1846.3 L1114.8,1846.7 L1115.8,1847.1 L1116.8,1847.4 L1117.8,1847.8 L1118.8,1848.1 L1119.8,1848.5 L1120.8,1848.8 L1121.8,1849.1 L1122.8,1849.5 L1123.8,1849.8 L1124.8,1850.1 L1125.8,1850.4 L1126.8,1850.6 L1127.8,1850.9 L1128.8,1851.2 L1129.8,1851.5 L1130.8,1851.7 L1131.8,1852 L1132.8,1852.2 L1133.8,1852.5 L1134.8,1852.7 L1135.8,1852.9 L1136.8,1853.1 L1137.8,1853.4 L1138.8,1853.6 L1139.8,1853.8 L1140.8,1854 L1141.8,1854.2 L1142.8,1854.3 L1143.8,1854.5 L1144.8,1854.7 L1145.8,1854.9 L1146.8,1855 L1147.8,1855.2 L1148.8,1855.3 L1149.8,1855.5 L1150.8,1855.6 L1151.8,1855.8 L1152.8,1855.9 L1153.8,1856.1 L1154.8,1856.2 L1155.8,1856.3 L1156.8,1856.4 L1157.8,1856.5 L1158.8,1856.7 L1159.8,1856.8 L1160.8,1856.9 L1161.8,1857 L1162.8,1857.1 L1163.8,1857.2 L1164.8,1857.3 L1165.8,1857.4 L1166.8,1857.4 L1167.8,1857.5 L1168.8,1857.6 L1169.8,1857.7 L1170.8,1857.8 L1171.8,1857.8 L1172.8,1857.9 L1173.8,1858 L1174.8,1858 L1175.8,1858.1 L1176.8,1858.2 L1177.8,1858.2 L1178.8,1858.3 L1179.8,1858.3 L1180.8,1858.4 L1181.8,1858.4 L1182.8,1858.5 L1183.8,1858.5 L1184.8,1858.6 L1185.8,1858.6 L1186.8,1858.7 L1187.8,1858.7 L1188.8,1858.7 L1189.8,1858.8 L1190.8,1858.8 L1191.8,1858.8 L1192.8,1858.9 L1193.8,1858.9 L1194.8,1858.9 L1195.8,1859 L1196.8,1859 L1197.8,1859 L1198.8,1859.1 L1199.8,1859.1 L1200.8,1859.1 L1201.8,1859.1 L1202.8,1859.1 L1203.8,1859.2 L1204.8,1859.2 L1205.8,1859.2 L1206.8,1859.2 L1207.8,1859.2 L1208.8,1859.3 L1209.8,1859.3 L1210.8,1859.3 L1211.8,1859.3 L1212.8,1859.3 L1213.8,1859.3 L1214.8,1859.3 L1215.8,1859.4 L1216.8,1859.4 L1217.8,1859.4 L1218.8,1859.4 L1219.8,1859.4 L1220.8,1859.4 L1221.8,1859.4 L1222.8,1859.4 L1223.8,1859.4 L1224.8,1859.4 L1225.8,1859.5 L1226.8,1859.5 L1227.8,1859.5 L1228.8,1859.5 L1229.8,1859.5 L1230.8,1859.5 L1231.8,1859.5 L1232.8,1859.5 L1233.8,1859.5 L1234.8,1859.5 L1235.8,1859.5 L1236.8,1859.5 L1237.8,1859.5 L1238.8,1859.5 L1239.8,1859.5 L1240.8,1859.5 L1241.8,1859.5 L1242.8,1859.5 L1243.8,1859.5 L1244.8,1859.5 L1245.8,1859.5 L1246.8,1859.6 L1247.8,1859.6 L1248.8,1859.6 L1249.8,1859.6 L1250.8,1859.6 L1251.8,1859.6 L1252.8,1859.6 L1253.8,1859.6 L1254.8,1859.6 L1255.8,1859.6 L1256.8,1859.6 L1257.8,1859.6 L1258.8,1859.6 L1259.8,1859.6 L1260.8,1859.6 L1261.8,1859.6 L1262.8,1859.6 L1263.8,1859.6 L1264.8,1859.6" fill="none" stroke="#DD0000" stroke-width="6.5" stroke-linejoin="round"/>
<path d="M856.4,1859.6 L857.4,1859.6 L858.4,1859.6 L859.4,1859.6 L860.4,1859.6 L861.4,1859.6 L862.4,1859.6 L863.4,1859.5 L864.4,1859.5 L865.4,1859.5 L866.4,1859.5 L867.4,1859.5 L868.4,1859.5 L869.4,1859.5 L870.4,1859.5 L871.4,1859.5 L872.4,1859.5 L873.4,1859.5 L874.4,1859.5 L875.4,1859.5 L876.4,1859.5 L877.4,1859.5 L878.4,1859.5 L879.4,1859.5 L880.4,1859.5 L881.4,1859.4 L882.4,1859.4 L883.4,1859.4 L884.4,1859.4 L885.4,1859.4 L886.4,1859.4 L887.4,1859.4 L888.4,1859.4 L889.4,1859.4 L890.4,1859.4 L891.4,1859.3 L892.4,1859.3 L893.4,1859.3 L894.4,1859.3 L895.4,1859.3 L896.4,1859.3 L897.4,1859.2 L898.4,1859.2 L899.4,1859.2 L900.4,1859.2 L901.4,1859.2 L902.4,1859.1 L903.4,1859.1 L904.4,1859.1 L905.4,1859.1 L906.4,1859 L907.4,1859 L908.4,1859 L909.4,1858.9 L910.4,1858.9 L911.4,1858.9 L912.4,1858.8 L913.4,1858.8 L914.4,1858.7 L915.4,1858.7 L916.4,1858.7 L917.4,1858.6 L918.4,1858.6 L919.4,1858.5 L920.4,1858.4 L921.4,1858.4 L922.4,1858.3 L923.4,1858.3 L924.4,1858.2 L925.4,1858.1 L926.4,1858.1 L927.4,1858 L928.4,1857.9 L929.4,1857.8 L930.4,1857.8 L931.4,1857.7 L932.4,1857.6 L933.4,1857.5 L934.4,1857.4 L935.4,1857.3 L936.4,1857.2 L937.4,1857.1 L938.4,1857 L939.4,1856.8 L940.4,1856.7 L941.4,1856.6 L942.4,1856.5 L943.4,1856.3 L944.4,1856.2 L945.4,1856 L946.4,1855.9 L947.4,1855.7 L948.4,1855.6 L949.4,1855.4 L950.4,1855.2 L951.4,1855 L952.4,1854.8 L953.4,1854.6 L954.4,1854.4 L955.4,1854.2 L956.4,1854 L957.4,1853.8 L958.4,1853.5 L959.4,1853.3 L960.4,1853 L961.4,1852.8 L962.4,1852.5 L963.4,1852.2 L964.4,1851.9 L965.4,1851.6 L966.4,1851.3 L967.4,1851 L968.4,1850.6 L969.4,1850.3 L970.4,1850 L971.4,1849.6 L972.4,1849.2 L973.4,1848.8 L974.4,1848.4 L975.4,1848 L976.4,1847.6 L977.4,1847.2 L978.4,1846.7 L979.4,1846.2 L980.4,1845.8 L981.4,1845.3 L982.4,1844.8 L983.4,1844.3 L984.4,1843.7 L985.4,1843.2 L986.4,1842.6 L987.4,1842 L988.4,1841.4 L989.4,1840.8 L990.4,1840.2 L991.4,1839.5 L992.4,1838.9 L993.4,1838.2 L994.4,1837.5 L995.4,1836.8 L996.4,1836.1 L997.4,1835.3 L998.4,1834.5 L999.4,1833.8 L1000.4,1832.9 L1001.4,1832.1 L1002.4,1831.3 L1003.4,1830.4 L1004.4,1829.5 L1005.4,1828.6 L1006.4,1827.7 L1007.4,1826.7 L1008.4,1825.8 L1009.4,1824.8 L1010.4,1823.8 L1011.4,1822.8 L1012.4,1821.7 L1013.4,1820.6 L1014.4,1819.5 L1015.4,1818.4 L1016.4,1817.3 L1017.4,1816.1 L1018.4,1814.9 L1019.4,1813.7 L1020.4,1812.5 L1021.4,1811.3 L1022.4,1810 L1023.4,1808.7 L1024.4,1807.4 L1025.4,1806 L1026.4,1804.7 L1027.4,1803.3 L1028.4,1801.9 L1029.4,1800.5 L1030.4,1799 L1031.4,1797.5 L1032.4,1796 L1033.4,1794.5 L1034.4,1793 L1035.4,1791.4 L1036.4,1789.8 L1037.4,1788.2 L1038.4,1786.6 L1039.4,1785 L1040.4,1783.3 L1041.4,1781.6 L1042.4,1779.9 L1043.4,1778.2 L1044.4,1776.4 L1045.4,1774.7 L1046.4,1772.9 L1047.4,1771.1 L1048.4,1769.2 L1049.4,1767.4 L1050.4,1765.6 L1051.4,1763.7 L1052.4,1761.8 L1053.4,1759.9 L1054.4,1758 L1055.4,1756 L1056.4,1754.1 L1057.4,1752.1 L1058.4,1750.2 L1059.4,1748.2 L1060.4,1746.2 L1061.4,1744.2 L1062.4,1742.2 L1063.4,1740.1 L1064.4,1738.1 L1065.4,1736.1 L1066.4,1734 L1067.4,1732 L1068.4,1729.9 L1069.4,1727.8 L1070.4,1725.8 L1071.4,1723.7 L1072.4,1721.6 L1073.4,1719.5 L1074.4,1717.4 L1075.4,1715.4 L1076.4,1713.3 L1077.4,1711.2 L1078.4,1709.1 L1079.4,1707.1 L1080.4,1705 L1081.4,1703 L1082.4,1700.9 L1083.4,1698.9 L1084.4,1696.8 L1085.4,1694.8 L1086.4,1692.8 L1087.4,1690.8 L1088.4,1688.8 L1089.4,1686.8 L1090.4,1684.9 L1091.4,1682.9 L1092.4,1681 L1093.4,1679.1 L1094.4,1677.2 L1095.4,1675.4 L1096.4,1673.5 L1097.4,1671.7 L1098.4,1669.9 L1099.4,1668.1 L1100.4,1666.4 L1101.4,1664.6 L1102.4,1662.9 L1103.4,1661.3 L1104.4,1659.6 L1105.4,1658 L1106.4,1656.4 L1107.4,1654.9 L1108.4,1653.4 L1109.4,1651.9 L1110.4,1650.4 L1111.4,1649 L1112.4,1647.7 L1113.4,1646.3 L1114.4,1645 L1115.4,1643.8 L1116.4,1642.5 L1117.4,1641.4 L1118.4,1640.2 L1119.4,1639.1 L1120.4,1638.1 L1121.4,1637.1 L1122.4,1636.1 L1123.4,1635.2 L1124.4,1634.3 L1125.4,1633.4 L1126.4,1632.7 L1127.4,1631.9 L1128.4,1631.2 L1129.4,1630.6 L1130.4,1630 L1131.4,1629.4 L1132.4,1628.9 L1133.4,1628.5 L1134.4,1628.1 L1135.4,1627.7 L1136.4,1627.4 L1137.4,1627.1 L1138.4,1626.9 L1139.4,1626.8 L1140.4,1626.7 L1141.4,1626.6 L1142.4,1626.6 L1143.4,1626.6 L1144.4,1626.7 L1145.4,1626.9 L1146.4,1627.1 L1147.4,1627.3 L1148.4,1627.6 L1149.4,1627.9 L1150.4,1628.3 L1151.4,1628.7 L1152.4,1629.2 L1153.4,1629.7 L1154.4,1630.2 L1155.4,1630.8 L1156.4,1631.5 L1157.4,1632.2 L1158.4,1632.9 L1159.4,1633.7 L1160.4,1634.5 L1161.4,1635.4 L1162.4,1636.3 L1163.4,1637.2 L1164.4,1638.2 L1165.4,1639.3 L1166.4,1640.3 L1167.4,1641.4 L1168.4,1642.6 L1169.4,1643.8 L1170.4,1645 L1171.4,1646.3 L1172.4,1647.6 L1173.4,1648.9 L1174.4,1650.3 L1175.4,1651.7 L1176.4,1653.1 L1177.4,1654.6 L1178.4,1656.1 L1179.4,1657.6 L1180.4,1659.1 L1181.4,1660.7 L1182.4,1662.3 L1183.4,1664 L1184.4,1665.7 L1185.4,1667.3 L1186.4,1669.1 L1187.4,1670.8 L1188.4,1672.6 L1189.4,1674.3 L1190.4,1676.1 L1191.4,1678 L1192.4,1679.8 L1193.4,1681.7 L1194.4,1683.5 L1195.4,1685.4 L1196.4,1687.3 L1197.4,1689.2 L1198.4,1691.2 L1199.4,1693.1 L1200.4,1695.1 L1201.4,1697 L1202.4,1699 L1203.4,1701 L1204.4,1703 L1205.4,1705 L1206.4,1707 L1207.4,1709 L1208.4,1711 L1209.4,1713 L1210.4,1715 L1211.4,1717.1 L1212.4,1719.1 L1213.4,1721.1 L1214.4,1723.1 L1215.4,1725.1 L1216.4,1727.1 L1217.4,1729.2 L1218.4,1731.2 L1219.4,1733.2 L1220.4,1735.2 L1221.4,1737.1 L1222.4,1739.1 L1223.4,1741.1 L1224.4,1743.1 L1225.4,1745 L1226.4,1747 L1227.4,1748.9 L1228.4,1750.8 L1229.4,1752.7 L1230.4,1754.6 L1231.4,1756.5 L1232.4,1758.4 L1233.4,1760.3 L1234.4,1762.1 L1235.4,1763.9 L1236.4,1765.7 L1237.4,1767.5 L1238.4,1769.3 L1239.4,1771.1 L1240.4,1772.9 L1241.4,1774.6 L1242.4,1776.3 L1243.4,1778 L1244.4,1779.7 L1245.4,1781.3 L1246.4,1783 L1247.4,1784.6 L1248.4,1786.2 L1249.4,1787.8 L1250.4,1789.4 L1251.4,1790.9 L1252.4,1792.4 L1253.4,1793.9 L1254.4,1795.4 L1255.4,1796.9 L1256.4,1798.3 L1257.4,1799.7 L1258.4,1801.1 L1259.4,1802.5 L1260.4,1803.9 L1261.4,1805.2 L1262.4,1806.5 L1263.4,1807.8 L1264.4,1809.1 L1265.4,1810.3 L1266.4,1811.6 L1267.4,1812.8 L1268.4,1814 L1269.4,1815.1 L1270.4,1816.3 L1271.4,1817.4 L1272.4,1818.5 L1273.4,1819.6 L1274.4,1820.6 L1275.4,1821.7 L1276.4,1822.7 L1277.4,1823.7 L1278.4,1824.7 L1279.4,1825.7 L1280.4,1826.6 L1281.4,1827.5 L1282.4,1828.4 L1283.4,1829.3 L1284.4,1830.2 L1285.4,1831 L1286.4,1831.8 L1287.4,1832.7 L1288.4,1833.4 L1289.4,1834.2 L1290.4,1835 L1291.4,1835.7 L1292.4,1836.4 L1293.4,1837.1 L1294.4,1837.8 L1295.4,1838.5 L1296.4,1839.1 L1297.4,1839.8 L1298.4,1840.4 L1299.4,1841 L1300.4,1841.6 L1301.4,1842.2 L1302.4,1842.7 L1303.4,1843.3 L1304.4,1843.8 L1305.4,1844.3 L1306.4,1844.8 L1307.4,1845.3 L1308.4,1845.8 L1309.4,1846.2 L1310.4,1846.7 L1311.4,1847.1 L1312.4,1847.6 L1313.4,1848 L1314.4,1848.4 L1315.4,1848.8 L1316.4,1849.1 L1317.4,1849.5 L1318.4,1849.9 L1319.4,1850.2 L1320.4,1850.5 L1321.4,1850.9 L1322.4,1851.2 L1323.4,1851.5 L1324.4,1851.8 L1325.4,1852.1 L1326.4,1852.3 L1327.4,1852.6 L1328.4,1852.9 L1329.4,1853.1 L1330.4,1853.4 L1331.4,1853.6 L1332.4,1853.8 L1333.4,1854.1 L1334.4,1854.3 L1335.4,1854.5 L1336.4,1854.7 L1337.4,1854.9 L1338.4,1855.1 L1339.4,1855.2 L1340.4,1855.4 L1341.4,1855.6 L1342.4,1855.7 L1343.4,1855.9 L1344.4,1856 L1345.4,1856.2 L1346.4,1856.3 L1347.4,1856.5 L1348.4,1856.6 L1349.4,1856.7 L1350.4,1856.8 L1351.4,1856.9 L1352.4,1857.1 L1353.4,1857.2 L1354.4,1857.3 L1355.4,1857.4 L1356.4,1857.5 L1357.4,1857.6 L1358.4,1857.6 L1359.4,1857.7 L1360.4,1857.8 L1361.4,1857.9 L1362.4,1858 L1363.4,1858 L1364.4,1858.1 L1365.4,1858.2 L1366.4,1858.2 L1367.4,1858.3 L1368.4,1858.4 L1369.4,1858.4 L1370.4,1858.5 L1371.4,1858.5 L1372.4,1858.6 L1373.4,1858.6 L1374.4,1858.7 L1375.4,1858.7 L1376.4,1858.7 L1377.4,1858.8 L1378.4,1858.8 L1379.4,1858.9 L1380.4,1858.9 L1381.4,1858.9 L1382.4,1859 L1383.4,1859 L1384.4,1859 L1385.4,1859 L1386.4,1859.1 L1387.4,1859.1 L1388.4,1859.1 L1389.4,1859.1 L1390.4,1859.2 L1391.4,1859.2 L1392.4,1859.2 L1393.4,1859.2 L1394.4,1859.2 L1395.4,1859.3 L1396.4,1859.3 L1397.4,1859.3 L1398.4,1859.3 L1399.4,1859.3 L1400.4,1859.3 L1401.4,1859.4 L1402.4,1859.4 L1403.4,1859.4 L1404.4,1859.4 L1405.4,1859.4 L1406.4,1859.4 L1407.4,1859.4 L1408.4,1859.4 L1409.4,1859.4 L1410.4,1859.5 L1411.4,1859.5 L1412.4,1859.5 L1413.4,1859.5 L1414.4,1859.5 L1415.4,1859.5 L1416.4,1859.5 L1417.4,1859.5 L1418.4,1859.5 L1419.4,1859.5 L1420.4,1859.5 L1421.4,1859.5 L1422.4,1859.5 L1423.4,1859.5 L1424.4,1859.5 L1425.4,1859.5 L1426.4,1859.5 L1427.4,1859.5 L1428.4,1859.5 L1429.4,1859.5 L1430.4,1859.6 L1431.4,1859.6 L1432.4,1859.6 L1433.4,1859.6 L1434.4,1859.6 L1435.4,1859.6" fill="none" stroke="#DD0000" stroke-width="6.5" stroke-linejoin="round"/>
<path d="M987.1,1859.6 L988.1,1859.6 L989.1,1859.6 L990.1,1859.6 L991.1,1859.6 L992.1,1859.6 L993.1,1859.6 L994.1,1859.6 L995.1,1859.6 L996.1,1859.5 L997.1,1859.5 L998.1,1859.5 L999.1,1859.5 L1000.1,1859.5 L1001.1,1859.5 L1002.1,1859.5 L1003.1,1859.5 L1004.1,1859.5 L1005.1,1859.5 L1006.1,1859.5 L1007.1,1859.5 L1008.1,1859.5 L1009.1,1859.5 L1010.1,1859.5 L1011.1,1859.5 L1012.1,1859.5 L1013.1,1859.5 L1014.1,1859.5 L1015.1,1859.5 L1016.1,1859.5 L1017.1,1859.4 L1018.1,1859.4 L1019.1,1859.4 L1020.1,1859.4 L1021.1,1859.4 L1022.1,1859.4 L1023.1,1859.4 L1024.1,1859.4 L1025.1,1859.4 L1026.1,1859.4 L1027.1,1859.3 L1028.1,1859.3 L1029.1,1859.3 L1030.1,1859.3 L1031.1,1859.3 L1032.1,1859.3 L1033.1,1859.3 L1034.1,1859.3 L1035.1,1859.2 L1036.1,1859.2 L1037.1,1859.2 L1038.1,1859.2 L1039.1,1859.2 L1040.1,1859.1 L1041.1,1859.1 L1042.1,1859.1 L1043.1,1859.1 L1044.1,1859 L1045.1,1859 L1046.1,1859 L1047.1,1859 L1048.1,1858.9 L1049.1,1858.9 L1050.1,1858.9 L1051.1,1858.8 L1052.1,1858.8 L1053.1,1858.8 L1054.1,1858.7 L1055.1,1858.7 L1056.1,1858.7 L1057.1,1858.6 L1058.1,1858.6 L1059.1,1858.5 L1060.1,1858.5 L1061.1,1858.4 L1062.1,1858.4 L1063.1,1858.3 L1064.1,1858.3 L1065.1,1858.2 L1066.1,1858.2 L1067.1,1858.1 L1068.1,1858.1 L1069.1,1858 L1070.1,1857.9 L1071.1,1857.9 L1072.1,1857.8 L1073.1,1857.7 L1074.1,1857.6 L1075.1,1857.6 L1076.1,1857.5 L1077.1,1857.4 L1078.1,1857.3 L1079.1,1857.2 L1080.1,1857.1 L1081.1,1857 L1082.1,1856.9 L1083.1,1856.8 L1084.1,1856.7 L1085.1,1856.6 L1086.1,1856.5 L1087.1,1856.3 L1088.1,1856.2 L1089.1,1856.1 L1090.1,1856 L1091.1,1855.8 L1092.1,1855.7 L1093.1,1855.5 L1094.1,1855.4 L1095.1,1855.2 L1096.1,1855.1 L1097.1,1854.9 L1098.1,1854.7 L1099.1,1854.5 L1100.1,1854.4 L1101.1,1854.2 L1102.1,1854 L1103.1,1853.8 L1104.1,1853.6 L1105.1,1853.3 L1106.1,1853.1 L1107.1,1852.9 L1108.1,1852.7 L1109.1,1852.4 L1110.1,1852.2 L1111.1,1851.9 L1112.1,1851.7 L1113.1,1851.4 L1114.1,1851.1 L1115.1,1850.8 L1116.1,1850.5 L1117.1,1850.2 L1118.1,1849.9 L1119.1,1849.6 L1120.1,1849.3 L1121.1,1848.9 L1122.1,1848.6 L1123.1,1848.2 L1124.1,1847.9 L1125.1,1847.5 L1126.1,1847.1 L1127.1,1846.7 L1128.1,1846.3 L1129.1,1845.9 L1130.1,1845.5 L1131.1,1845.1 L1132.1,1844.6 L1133.1,1844.2 L1134.1,1843.7 L1135.1,1843.2 L1136.1,1842.7 L1137.1,1842.2 L1138.1,1841.7 L1139.1,1841.2 L1140.1,1840.6 L1141.1,1840.1 L1142.1,1839.5 L1143.1,1839 L1144.1,1838.4 L1145.1,1837.8 L1146.1,1837.1 L1147.1,1836.5 L1148.1,1835.9 L1149.1,1835.2 L1150.1,1834.5 L1151.1,1833.9 L1152.1,1833.2 L1153.1,1832.4 L1154.1,1831.7 L1155.1,1831 L1156.1,1830.2 L1157.1,1829.4 L1158.1,1828.7 L1159.1,1827.9 L1160.1,1827 L1161.1,1826.2 L1162.1,1825.3 L1163.1,1824.5 L1164.1,1823.6 L1165.1,1822.7 L1166.1,1821.8 L1167.1,1820.9 L1168.1,1819.9 L1169.1,1819 L1170.1,1818 L1171.1,1817 L1172.1,1816 L1173.1,1815 L1174.1,1813.9 L1175.1,1812.8 L1176.1,1811.8 L1177.1,1810.7 L1178.1,1809.6 L1179.1,1808.4 L1180.1,1807.3 L1181.1,1806.1 L1182.1,1805 L1183.1,1803.8 L1184.1,1802.6 L1185.1,1801.3 L1186.1,1800.1 L1187.1,1798.9 L1188.1,1797.6 L1189.1,1796.3 L1190.1,1795 L1191.1,1793.7 L1192.1,1792.3 L1193.1,1791 L1194.1,1789.6 L1195.1,1788.2 L1196.1,1786.8 L1197.1,1785.4 L1198.1,1784 L1199.1,1782.6 L1200.1,1781.1 L1201.1,1779.6 L1202.1,1778.2 L1203.1,1776.7 L1204.1,1775.1 L1205.1,1773.6 L1206.1,1772.1 L1207.1,1770.5 L1208.1,1769 L1209.1,1767.4 L1210.1,1765.8 L1211.1,1764.2 L1212.1,1762.6 L1213.1,1761 L1214.1,1759.4 L1215.1,1757.8 L1216.1,1756.1 L1217.1,1754.5 L1218.1,1752.8 L1219.1,1751.1 L1220.1,1749.5 L1221.1,1747.8 L1222.1,1746.1 L1223.1,1744.4 L1224.1,1742.7 L1225.1,1741 L1226.1,1739.3 L1227.1,1737.6 L1228.1,1735.8 L1229.1,1734.1 L1230.1,1732.4 L1231.1,1730.7 L1232.1,1728.9 L1233.1,1727.2 L1234.1,1725.5 L1235.1,1723.8 L1236.1,1722 L1237.1,1720.3 L1238.1,1718.6 L1239.1,1716.9 L1240.1,1715.1 L1241.1,1713.4 L1242.1,1711.7 L1243.1,1710 L1244.1,1708.3 L1245.1,1706.6 L1246.1,1705 L1247.1,1703.3 L1248.1,1701.6 L1249.1,1700 L1250.1,1698.3 L1251.1,1696.7 L1252.1,1695 L1253.1,1693.4 L1254.1,1691.8 L1255.1,1690.2 L1256.1,1688.7 L1257.1,1687.1 L1258.1,1685.5 L1259.1,1684 L1260.1,1682.5 L1261.1,1681 L1262.1,1679.5 L1263.1,1678.1 L1264.1,1676.6 L1265.1,1675.2 L1266.1,1673.8 L1267.1,1672.4 L1268.1,1671.1 L1269.1,1669.7 L1270.1,1668.4 L1271.1,1667.1 L1272.1,1665.9 L1273.1,1664.6 L1274.1,1663.4 L1275.1,1662.2 L1276.1,1661 L1277.1,1659.9 L1278.1,1658.8 L1279.1,1657.7 L1280.1,1656.6 L1281.1,1655.6 L1282.1,1654.6 L1283.1,1653.7 L1284.1,1652.7 L1285.1,1651.8 L1286.1,1650.9 L1287.1,1650.1 L1288.1,1649.3 L1289.1,1648.5 L1290.1,1647.8 L1291.1,1647.1 L1292.1,1646.4 L1293.1,1645.7 L1294.1,1645.1 L1295.1,1644.5 L1296.1,1644 L1297.1,1643.5 L1298.1,1643 L1299.1,1642.6 L1300.1,1642.2 L1301.1,1641.8 L1302.1,1641.5 L1303.1,1641.2 L1304.1,1641 L1305.1,1640.7 L1306.1,1640.6 L1307.1,1640.4 L1308.1,1640.3 L1309.1,1640.2 L1310.1,1640.2 L1311.1,1640.2 L1312.1,1640.3 L1313.1,1640.3 L1314.1,1640.5 L1315.1,1640.6 L1316.1,1640.8 L1317.1,1641.1 L1318.1,1641.4 L1319.1,1641.7 L1320.1,1642.1 L1321.1,1642.5 L1322.1,1642.9 L1323.1,1643.4 L1324.1,1643.9 L1325.1,1644.5 L1326.1,1645.1 L1327.1,1645.7 L1328.1,1646.4 L1329.1,1647.1 L1330.1,1647.8 L1331.1,1648.6 L1332.1,1649.4 L1333.1,1650.3 L1334.1,1651.2 L1335.1,1652.1 L1336.1,1653 L1337.1,1654 L1338.1,1655.1 L1339.1,1656.1 L1340.1,1657.2 L1341.1,1658.3 L1342.1,1659.5 L1343.1,1660.6 L1344.1,1661.9 L1345.1,1663.1 L1346.1,1664.4 L1347.1,1665.7 L1348.1,1667 L1349.1,1668.3 L1350.1,1669.7 L1351.1,1671.1 L1352.1,1672.5 L1353.1,1674 L1354.1,1675.4 L1355.1,1676.9 L1356.1,1678.4 L1357.1,1680 L1358.1,1681.5 L1359.1,1683.1 L1360.1,1684.7 L1361.1,1686.3 L1362.1,1687.9 L1363.1,1689.5 L1364.1,1691.2 L1365.1,1692.9 L1366.1,1694.5 L1367.1,1696.2 L1368.1,1697.9 L1369.1,1699.7 L1370.1,1701.4 L1371.1,1703.1 L1372.1,1704.9 L1373.1,1706.6 L1374.1,1708.4 L1375.1,1710.2 L1376.1,1712 L1377.1,1713.7 L1378.1,1715.5 L1379.1,1717.3 L1380.1,1719.1 L1381.1,1720.9 L1382.1,1722.7 L1383.1,1724.5 L1384.1,1726.3 L1385.1,1728.2 L1386.1,1730 L1387.1,1731.8 L1388.1,1733.6 L1389.1,1735.4 L1390.1,1737.2 L1391.1,1739 L1392.1,1740.7 L1393.1,1742.5 L1394.1,1744.3 L1395.1,1746.1 L1396.1,1747.8 L1397.1,1749.6 L1398.1,1751.3 L1399.1,1753.1 L1400.1,1754.8 L1401.1,1756.5 L1402.1,1758.3 L1403.1,1760 L1404.1,1761.7 L1405.1,1763.3 L1406.1,1765 L1407.1,1766.7 L1408.1,1768.3 L1409.1,1769.9 L1410.1,1771.6 L1411.1,1773.2 L1412.1,1774.8 L1413.1,1776.3 L1414.1,1777.9 L1415.1,1779.5 L1416.1,1781 L1417.1,1782.5 L1418.1,1784 L1419.1,1785.5 L1420.1,1787 L1421.1,1788.4 L1422.1,1789.9 L1423.1,1791.3 L1424.1,1792.7 L1425.1,1794.1 L1426.1,1795.5 L1427.1,1796.8 L1428.1,1798.2 L1429.1,1799.5 L1430.1,1800.8 L1431.1,1802.1 L1432.1,1803.4 L1433.1,1804.6 L1434.1,1805.8 L1435.1,1807 L1436.1,1808.2 L1437.1,1809.4 L1438.1,1810.6 L1439.1,1811.7 L1440.1,1812.9 L1441.1,1814 L1442.1,1815 L1443.1,1816.1 L1444.1,1817.2 L1445.1,1818.2 L1446.1,1819.2 L1447.1,1820.2 L1448.1,1821.2 L1449.1,1822.2 L1450.1,1823.1 L1451.1,1824 L1452.1,1825 L1453.1,1825.8 L1454.1,1826.7 L1455.1,1827.6 L1456.1,1828.4 L1457.1,1829.3 L1458.1,1830.1 L1459.1,1830.9 L1460.1,1831.6 L1461.1,1832.4 L1462.1,1833.1 L1463.1,1833.9 L1464.1,1834.6 L1465.1,1835.3 L1466.1,1836 L1467.1,1836.6 L1468.1,1837.3 L1469.1,1837.9 L1470.1,1838.6 L1471.1,1839.2 L1472.1,1839.8 L1473.1,1840.4 L1474.1,1840.9 L1475.1,1841.5 L1476.1,1842 L1477.1,1842.6 L1478.1,1843.1 L1479.1,1843.6 L1480.1,1844.1 L1481.1,1844.5 L1482.1,1845 L1483.1,1845.5 L1484.1,1845.9 L1485.1,1846.3 L1486.1,1846.8 L1487.1,1847.2 L1488.1,1847.6 L1489.1,1848 L1490.1,1848.3 L1491.1,1848.7 L1492.1,1849.1 L1493.1,1849.4 L1494.1,1849.7 L1495.1,1850.1 L1496.1,1850.4 L1497.1,1850.7 L1498.1,1851 L1499.1,1851.3 L1500.1,1851.6 L1501.1,1851.9 L1502.1,1852.1 L1503.1,1852.4 L1504.1,1852.6 L1505.1,1852.9 L1506.1,1853.1 L1507.1,1853.3 L1508.1,1853.6 L1509.1,1853.8 L1510.1,1854 L1511.1,1854.2 L1512.1,1854.4 L1513.1,1854.6 L1514.1,1854.8 L1515.1,1854.9 L1516.1,1855.1 L1517.1,1855.3 L1518.1,1855.4 L1519.1,1855.6 L1520.1,1855.8 L1521.1,1855.9 L1522.1,1856 L1523.1,1856.2 L1524.1,1856.3 L1525.1,1856.4 L1526.1,1856.6 L1527.1,1856.7 L1528.1,1856.8 L1529.1,1856.9 L1530.1,1857 L1531.1,1857.1 L1532.1,1857.2 L1533.1,1857.3 L1534.1,1857.4 L1535.1,1857.5 L1536.1,1857.6 L1537.1,1857.7 L1538.1,1857.7 L1539.1,1857.8 L1540.1,1857.9 L1541.1,1858 L1542.1,1858 L1543.1,1858.1 L1544.1,1858.2 L1545.1,1858.2 L1546.1,1858.3 L1547.1,1858.3 L1548.1,1858.4 L1549.1,1858.4 L1550.1,1858.5 L1551.1,1858.5 L1552.1,1858.6 L1553.1,1858.6 L1554.1,1858.7 L1555.1,1858.7 L1556.1,1858.7 L1557.1,1858.8 L1558.1,1858.8 L1559.1,1858.9 L1560.1,1858.9 L1561.1,1858.9 L1562.1,1859 L1563.1,1859 L1564.1,1859 L1565.1,1859 L1566.1,1859.1 L1567.1,1859.1 L1568.1,1859.1 L1569.1,1859.1 L1570.1,1859.2 L1571.1,1859.2 L1572.1,1859.2 L1573.1,1859.2 L1574.1,1859.2 L1575.1,1859.3 L1576.1,1859.3 L1577.1,1859.3 L1578.1,1859.3 L1579.1,1859.3 L1580.1,1859.3 L1581.1,1859.3 L1582.1,1859.4 L1583.1,1859.4 L1584.1,1859.4 L1585.1,1859.4 L1586.1,1859.4 L1587.1,1859.4 L1588.1,1859.4 L1589.1,1859.4 L1590.1,1859.4 L1591.1,1859.4 L1592.1,1859.5 L1593.1,1859.5 L1594.1,1859.5 L1595.1,1859.5 L1596.1,1859.5 L1597.1,1859.5 L1598.1,1859.5 L1599.1,1859.5 L1600.1,1859.5 L1601.1,1859.5 L1602.1,1859.5 L1603.1,1859.5 L1604.1,1859.5 L1605.1,1859.5 L1606.1,1859.5 L1607.1,1859.5 L1608.1,1859.5 L1609.1,1859.5 L1610.1,1859.5 L1611.1,1859.5 L1612.1,1859.5 L1613.1,1859.6 L1614.1,1859.6 L1615.1,1859.6 L1616.1,1859.6 L1617.1,1859.6 L1618.1,1859.6 L1619.1,1859.6" fill="none" stroke="#DD0000" stroke-width="6.5" stroke-linejoin="round"/>
<line x1="120" y1="1859.6" x2="2311" y2="1859.6" stroke="#DD0000" stroke-width="7.5"/>
<line x1="815.8" y1="379.1" x2="813.5" y2="485.9" stroke="#000" stroke-width="7" stroke-dasharray="18.8 5.2"/>
<line x1="1109.2" y1="361" x2="1107" y2="468" stroke="#000" stroke-width="7" stroke-dasharray="18.8 5.2"/>
<line x1="1237.5" y1="114" x2="1235" y2="221" stroke="#000" stroke-width="7" stroke-dasharray="18.8 5.2"/>
<line x1="876" y1="905.3" x2="872.2" y2="993.7" stroke="#000" stroke-width="7" stroke-dasharray="18.8 5.2"/>
<line x1="1219.5" y1="755" x2="1216.5" y2="843" stroke="#000" stroke-width="7" stroke-dasharray="18.8 5.2"/>
<line x1="1300" y1="789.6" x2="1297.5" y2="927" stroke="#000" stroke-width="7" stroke-dasharray="18.8 5.2"/>
<line x1="911.5" y1="1324" x2="909.3" y2="1412" stroke="#000" stroke-width="7" stroke-dasharray="18.8 5.2"/>
<line x1="1140" y1="1146" x2="1137" y2="1233.5" stroke="#000" stroke-width="7" stroke-dasharray="18.8 5.2"/>
<line x1="1256.5" y1="1232" x2="1253.5" y2="1338.8" stroke="#000" stroke-width="7" stroke-dasharray="18.8 5.2"/>
<line x1="804" y1="1780" x2="801" y2="1845.5" stroke="#000" stroke-width="7" stroke-dasharray="18.8 5.2"/>
<line x1="969" y1="1698" x2="966.3" y2="1787" stroke="#000" stroke-width="7" stroke-dasharray="18.8 5.2"/>
<line x1="1141" y1="1583" x2="1137.5" y2="1671.4" stroke="#000" stroke-width="7" stroke-dasharray="18.8 5.2"/>
<line x1="1312.5" y1="1614.2" x2="1310" y2="1703" stroke="#000" stroke-width="7" stroke-dasharray="18.8 5.2"/>
<g font-family="'Liberation Serif', 'DejaVu Serif', serif" font-weight="bold" fill="#000" style="font-kerning:none">
<text transform="translate(751.3,358.1) scale(1,1.02)" font-size="62">287 <tspan font-size="43.4" dx="0.8" dy="-17.8">o</tspan><tspan dx="1.1" dy="17.8">C</tspan></text>
<text transform="translate(1002.5,354.8) scale(1,1.02)" font-size="62">373 <tspan font-size="43.4" dx="0.8" dy="-17.8">o</tspan><tspan dx="1.1" dy="17.8">C</tspan></text>
<text transform="translate(1249.7,122.2) scale(1,1.02)" font-size="62">407 <tspan font-size="43.4" dx="0.8" dy="-17.8">o</tspan><tspan dx="1.1" dy="17.8">C</tspan></text>
<text transform="translate(807.7,891.4) scale(1,1.02)" font-size="62">306 <tspan font-size="43.4" dx="0.8" dy="-17.8">o</tspan><tspan dx="1.1" dy="17.8">C</tspan></text>
<text transform="translate(1097.1,737.6) scale(1,1.02)" font-size="62">401 <tspan font-size="43.4" dx="0.8" dy="-17.8">o</tspan><tspan dx="1.1" dy="17.8">C</tspan></text>
<text transform="translate(1334.2,788.4) scale(1,1.02)" font-size="62">423 <tspan font-size="43.4" dx="0.8" dy="-17.8">o</tspan><tspan dx="1.1" dy="17.8">C</tspan></text>
<text transform="translate(844.4,1313.6) scale(1,1.02)" font-size="62">318 <tspan font-size="43.4" dx="0.8" dy="-17.8">o</tspan><tspan dx="1.1" dy="17.8">C</tspan></text>
<text transform="translate(1073.4,1132.6) scale(1,1.02)" font-size="62">380 <tspan font-size="43.4" dx="0.8" dy="-17.8">o</tspan><tspan dx="1.1" dy="17.8">C</tspan></text>
<text transform="translate(1269.6,1223.6) scale(1,1.02)" font-size="62">411 <tspan font-size="43.4" dx="0.8" dy="-17.8">o</tspan><tspan dx="1.1" dy="17.8">C</tspan></text>
<text transform="translate(723.6,1777.3) scale(1,1.02)" font-size="62">287 <tspan font-size="43.4" dx="0.8" dy="-17.8">o</tspan><tspan dx="1.1" dy="17.8">C</tspan></text>
<text transform="translate(910.6,1651.8) scale(1,1.02)" font-size="62">333 <tspan font-size="43.4" dx="0.8" dy="-17.8">o</tspan><tspan dx="1.1" dy="17.8">C</tspan></text>
<text transform="translate(1089.2,1576.5) scale(1,1.02)" font-size="62">381 <tspan font-size="43.4" dx="0.8" dy="-17.8">o</tspan><tspan dx="1.1" dy="17.8">C</tspan></text>
<text transform="translate(1284,1605) scale(1,1.02)" font-size="62">426 <tspan font-size="43.4" dx="0.8" dy="-17.8">o</tspan><tspan dx="1.1" dy="17.8">C</tspan></text>
<text transform="translate(2164,498.5) scale(1,1.02)" font-size="62" letter-spacing="1.6">(1)</text>
<text transform="translate(2170.1,992) scale(1,1.02)" font-size="62" letter-spacing="1.6">(2)</text>
<text transform="translate(2161,1444.9) scale(1,1.02)" font-size="62" letter-spacing="1.6">(3)</text>
<text transform="translate(2163.7,1835.8) scale(1,1.02)" font-size="62" letter-spacing="1.6">(4)</text>
<text transform="translate(120.5,2023.7) scale(1,1.02)" font-size="62" text-anchor="middle">100</text>
<text transform="translate(484.8,2023.7) scale(1,1.02)" font-size="62" text-anchor="middle">200</text>
<text transform="translate(849.1,2023.7) scale(1,1.02)" font-size="62" text-anchor="middle">300</text>
<text transform="translate(1213.3,2023.7) scale(1,1.02)" font-size="62" text-anchor="middle">400</text>
<text transform="translate(1577.6,2023.7) scale(1,1.02)" font-size="62" text-anchor="middle">500</text>
<text transform="translate(1941.9,2023.7) scale(1,1.02)" font-size="62" text-anchor="middle">600</text>
<text transform="translate(2306.2,2023.7) scale(1,1.02)" font-size="62" text-anchor="middle">700</text>
<text transform="translate(972.3,2104.5) scale(1,1.02)" font-size="68.8">Temperature /<tspan font-size="46" dy="-19.5">o</tspan><tspan dy="19.5">C</tspan></text>
<text transform="translate(62.7,1117) rotate(-90) scale(1,1.02)" font-size="68.8">TCD Signal</text>
</g>
</svg>
</body></html>
